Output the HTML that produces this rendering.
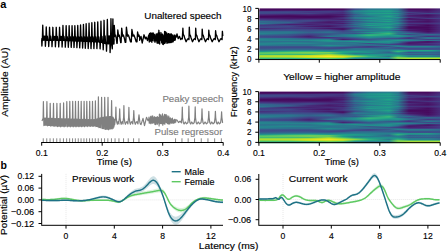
<!DOCTYPE html>
<html><head><meta charset="utf-8"><style>
html,body{margin:0;padding:0;background:#fff;width:448px;height:252px;overflow:hidden}
svg{display:block;font-family:"Liberation Sans",sans-serif}
</style></head><body>
<svg width="448" height="252" viewBox="0 0 448 252" font-family="Liberation Sans, sans-serif">
<text x="0.30" y="7.70" font-size="11.00" font-weight="bold" >a</text>
<text x="8.10" y="116.80" font-size="9.00" textLength="69.50" lengthAdjust="spacingAndGlyphs" transform="rotate(-90 8.10 116.80)" stroke="#000" stroke-width="0.15" >Amplitude (AU)</text>
<polyline points="42.00,38.00 41.70,40.70 41.90,46.04 42.40,38.11 42.75,25.20 43.15,36.51 43.40,40.20 43.80,36.13 44.30,40.11 44.80,36.15 45.20,40.72 45.40,46.26 45.90,38.15 46.25,26.98 46.65,36.57 46.90,40.22 47.30,36.19 47.80,40.13 48.50,40.74 48.70,46.47 49.20,38.18 49.55,27.30 49.95,36.62 50.20,40.24 50.60,36.24 51.10,40.15 51.80,40.76 52.00,46.61 52.50,38.22 52.85,27.30 53.25,36.68 53.50,40.26 53.90,36.30 54.40,40.17 54.90,36.31 55.20,40.78 55.40,46.74 55.90,38.26 56.25,27.30 56.65,36.74 56.90,40.28 57.30,36.35 57.80,40.19 58.50,40.80 58.70,46.87 59.20,38.29 59.55,27.30 59.95,36.79 60.20,40.30 60.60,36.41 61.10,40.25 61.60,36.44 61.90,40.93 62.10,47.00 62.60,38.40 62.95,25.52 63.35,36.87 63.60,40.43 64.00,36.50 64.50,40.40 65.10,41.07 65.30,47.12 65.80,38.51 66.15,25.59 66.55,36.95 66.80,40.57 67.20,36.58 67.70,40.54 68.10,41.20 68.30,47.23 68.80,38.61 69.15,25.65 69.55,37.03 69.80,40.70 70.20,36.66 70.70,40.67 71.00,41.33 71.20,47.35 71.70,38.71 72.05,25.71 72.45,37.10 72.70,40.83 73.10,36.73 73.80,41.45 74.00,47.45 74.50,38.81 74.85,25.77 75.25,37.17 75.50,40.95 75.90,36.80 76.40,40.92 76.70,41.57 76.90,47.63 77.40,38.89 77.75,25.46 78.15,37.20 78.40,41.07 78.80,36.80 79.30,41.04 79.50,41.69 79.70,47.85 80.20,38.94 80.55,24.90 80.95,37.20 81.20,41.19 81.60,36.80 82.10,41.15 82.40,41.81 82.60,48.08 83.10,39.00 83.45,24.32 83.85,37.20 84.10,41.31 84.50,36.80 85.10,41.92 85.30,48.29 85.80,39.06 86.15,23.78 86.55,37.20 86.80,41.42 87.20,36.80 87.70,41.39 88.00,42.04 88.20,48.52 88.70,39.12 89.05,23.20 89.45,37.20 89.70,41.54 90.10,36.80 90.80,42.16 91.00,48.60 91.50,39.18 91.85,22.73 92.25,37.20 92.50,41.66 92.90,36.80 93.40,41.62 93.70,42.28 93.90,48.60 94.40,39.24 94.75,22.30 95.15,37.20 95.40,41.78 95.80,36.80 96.30,41.75 96.70,42.40 96.90,48.60 97.40,39.30 97.75,21.85 98.15,37.20 98.40,41.90 98.80,36.80 99.30,41.87 99.90,42.82 100.10,48.85 100.60,39.44 100.95,21.23 101.35,37.06 101.60,42.32 102.00,36.48 102.50,42.80 103.00,43.94 103.20,49.72 103.70,39.75 104.05,20.30 104.45,36.56 104.70,43.44 105.10,36.00 105.60,43.70 106.30,44.30 106.50,51.15 107.00,39.85 107.35,19.40 107.75,36.40 108.00,43.80 108.40,36.00 108.90,43.70 109.40,36.00 109.90,44.30 110.10,52.50 110.60,39.85 110.95,18.70 111.35,36.40 111.60,43.80 112.30,48.80 112.90,19.00 113.18,36.20 113.39,35.00 113.67,38.00 113.95,43.91 114.13,39.50 113.70,43.96 114.30,25.50 115.00,36.20 115.52,35.00 116.22,38.00 116.92,43.31 117.38,39.50 117.20,43.26 117.80,30.00 118.58,36.20 119.16,35.00 119.94,38.00 120.72,42.65 121.23,39.50 121.10,42.59 121.70,28.20 122.64,36.20 123.34,35.00 124.29,38.00 125.23,42.28 125.84,39.50 125.80,42.24 126.40,27.20 127.50,36.20 128.33,35.00 129.43,38.00 130.53,41.90 131.24,39.50 131.30,41.85 131.90,29.50 133.04,36.20 133.90,35.00 135.03,38.00 136.18,41.74 136.92,39.50 137.00,41.83 137.60,32.00 138.38,36.20 138.97,35.00 139.75,38.00 139.60,40.30 141.00,36.40 142.20,43.00 144.00,34.80 145.30,38.80 146.20,37.20 147.50,40.50 148.50,36.00 149.00,34.69 149.26,42.02 149.52,33.48 149.78,41.24 150.04,35.03 150.30,40.27 150.56,32.97 150.82,41.03 151.08,35.36 151.34,40.78 151.60,33.29 151.86,42.28 152.12,35.79 152.38,40.53 152.64,33.18 152.90,38.11 153.16,32.95 153.42,38.09 153.68,33.61 153.94,40.93 154.20,36.15 154.46,39.95 154.72,34.73 154.98,42.32 155.24,35.83 155.50,39.20 155.76,37.77 156.02,40.84 156.28,33.83 156.54,40.49 156.80,34.68 157.06,43.01 157.32,33.93 157.58,37.61 157.84,33.70 158.10,43.20 158.36,32.56 158.62,43.00 158.88,30.30 159.14,42.85 159.40,32.78 159.66,44.02 159.92,34.97 160.18,40.70 160.44,34.67 160.70,39.50 160.96,32.55 161.22,39.11 161.48,37.67 161.74,42.85 162.00,34.23 162.26,41.88 162.52,34.18 162.78,44.24 163.04,35.04 163.30,44.51 163.56,36.01 163.82,43.28 164.08,35.87 164.34,43.28 164.60,31.39 164.86,43.46 165.12,34.07 165.38,42.25 165.64,31.80 165.90,41.29 166.16,33.00 166.42,41.67 166.68,33.00 166.94,43.24 167.20,34.29 167.46,40.33 167.72,37.57 167.98,42.72 168.24,33.76 168.50,42.55 168.76,33.69 169.02,42.73 169.28,35.45 169.54,42.56 169.80,34.10 170.06,41.52 170.32,36.09 170.58,42.48 170.84,33.98 171.10,42.46 171.36,33.97 171.62,40.00 171.88,35.32 172.14,42.05 172.40,34.98 172.66,40.97 172.92,36.33 173.18,41.72 173.44,37.51 173.70,39.21 173.96,35.29 174.22,40.37 174.48,35.15 174.74,39.88 175.00,35.24 175.26,39.99 175.52,35.82 176.20,37.20 177.00,33.90 178.20,38.60 179.50,36.40 180.70,39.60 181.80,38.20 182.30,39.00 182.90,28.20 183.30,34.50 183.90,35.30 184.70,38.00 186.10,41.70 187.38,39.20 188.34,38.60 188.98,39.60 189.30,27.20 189.70,34.50 190.30,35.30 191.10,38.00 192.50,41.70 193.78,39.20 194.74,38.60 195.38,39.60 195.70,28.20 196.10,34.50 196.70,35.30 197.50,38.00 198.95,41.70 200.25,39.20 201.22,38.60 201.88,39.60 202.20,29.10 202.60,34.50 203.20,35.30 204.00,38.00 205.50,41.70 206.82,39.20 207.81,38.60 208.47,39.60 208.80,30.10 209.20,34.50 209.80,35.30 210.60,38.00 212.20,41.70 213.56,39.20 214.58,38.60 215.26,39.60 215.60,30.70 216.00,34.50 216.60,35.30 217.40,38.00 219.00,41.70 220.36,39.20 221.38,38.60 222.06,39.60 222.40,31.30 222.80,36.00" fill="none" stroke="#000" stroke-width="1.35" stroke-linejoin="round"/>
<text x="144.30" y="19.00" font-size="9.50" textLength="77.20" lengthAdjust="spacingAndGlyphs" stroke="#000" stroke-width="0.15" >Unaltered speech</text>
<polyline points="42.00,121.00 43.10,118.15 43.40,101.50 43.70,118.15 43.90,125.60 44.20,118.17 44.50,125.08 44.80,118.19 45.10,125.12 45.40,118.21 45.70,125.17 46.00,118.23 46.30,125.21 46.60,118.26 46.90,101.50 47.20,118.26 47.40,125.85 47.70,118.28 48.00,125.33 48.30,118.30 48.60,125.38 48.90,118.32 49.20,125.42 49.50,118.34 49.80,125.46 49.90,118.37 50.20,103.30 50.50,118.37 50.70,126.09 51.00,118.39 51.30,125.57 51.60,118.41 51.90,125.62 52.20,118.43 52.50,125.66 52.80,118.45 53.10,125.70 53.20,118.47 53.50,103.30 53.80,118.47 54.00,126.33 54.30,118.50 54.60,125.81 54.90,118.52 55.20,125.85 55.50,118.54 55.80,125.90 56.10,118.56 56.40,125.94 56.60,118.58 56.90,103.30 57.20,118.58 57.40,126.58 57.70,118.61 58.00,126.06 58.30,118.63 58.60,126.10 58.90,118.65 59.20,126.14 59.50,118.67 59.80,126.19 59.90,118.69 60.20,103.30 60.50,118.69 60.70,126.80 61.00,118.71 61.30,126.20 61.60,118.73 61.90,126.20 62.20,118.75 62.50,126.20 62.80,118.77 63.10,126.20 63.30,118.80 63.60,102.94 63.90,118.80 64.10,126.80 64.40,118.82 64.70,126.20 65.00,118.84 65.30,126.20 65.60,118.86 65.90,126.20 66.20,118.88 66.50,118.90 66.80,101.48 67.10,118.90 67.30,126.80 67.60,118.93 67.90,126.20 68.20,118.95 68.50,126.20 68.80,118.97 69.10,126.20 69.40,118.99 69.50,119.00 69.80,101.42 70.10,119.00 70.30,126.80 70.60,119.03 70.90,126.20 71.20,119.04 71.50,126.20 71.80,119.06 72.10,126.20 72.40,119.09 72.70,101.37 73.00,119.09 73.20,126.80 73.50,119.12 73.80,126.20 74.10,119.14 74.40,126.20 74.70,119.16 75.00,126.20 75.20,119.18 75.50,101.31 75.80,119.18 76.00,126.80 76.30,119.21 76.60,126.19 76.90,119.22 77.20,126.17 77.50,119.24 77.80,126.16 78.10,119.26 78.40,101.30 78.70,119.26 78.90,126.75 79.20,119.28 79.50,126.13 79.80,119.30 80.10,126.11 80.40,119.32 80.70,126.10 80.90,119.34 81.20,101.30 81.50,119.34 81.70,126.69 82.00,119.36 82.30,126.07 82.60,119.37 82.90,126.05 83.20,119.39 83.50,126.04 83.80,119.41 84.10,101.30 84.40,119.41 84.60,126.63 84.90,119.43 85.20,126.01 85.50,119.45 85.80,125.99 86.10,119.47 86.40,125.98 86.50,119.48 86.80,101.30 87.10,119.48 87.30,126.57 87.60,119.51 87.90,125.95 88.20,119.52 88.50,125.94 88.80,119.54 89.10,125.92 89.40,119.56 89.70,101.30 90.00,119.56 90.20,126.51 90.50,119.58 90.80,125.89 91.10,119.60 91.40,125.88 91.70,119.61 92.00,125.86 92.20,119.63 92.50,101.30 92.80,119.63 93.00,126.45 93.30,119.66 93.60,125.83 93.90,119.67 94.20,125.82 94.50,119.69 94.80,125.80 95.10,119.56 95.40,100.96 95.70,119.56 95.90,126.54 96.20,119.29 96.50,126.31 96.80,119.09 97.10,126.51 97.40,118.88 97.70,126.72 98.00,118.68 98.10,118.54 98.40,96.80 98.70,118.54 98.90,127.56 99.20,118.27 99.50,127.33 99.80,118.07 100.10,127.53 100.40,117.92 100.70,127.71 101.00,117.80 101.30,117.68 101.60,97.30 101.90,117.68 102.10,128.58 102.40,117.52 102.70,128.31 103.00,117.40 103.30,128.49 103.60,117.28 103.90,128.67 104.20,117.16 104.40,117.06 104.70,97.30 105.00,117.06 105.20,129.51 105.50,116.96 105.80,129.24 106.10,116.92 106.40,129.27 106.70,116.88 107.00,129.23 107.30,116.84 107.60,129.18 107.70,116.79 108.00,97.30 108.30,116.79 108.50,129.75 108.80,116.73 109.10,129.07 109.40,116.69 109.70,129.02 110.00,116.64 110.30,128.88 110.60,116.60 110.90,128.64 111.20,116.56 111.30,116.53 111.60,100.62 111.90,116.53 112.10,128.96 112.90,117.20 113.20,128.20 113.60,118.00 113.90,127.00 114.30,119.50 114.60,125.00 115.00,122.20 115.60,117.50 115.90,107.10 116.20,117.50 116.80,122.40 117.40,124.30 117.61,122.30 118.18,121.60 118.94,124.00 118.80,122.20 119.40,117.50 119.70,108.90 120.00,117.50 120.60,122.40 121.20,124.30 121.59,122.30 122.22,121.60 123.06,124.00 123.00,122.20 123.60,117.50 123.90,105.70 124.20,117.50 124.80,122.40 125.40,124.30 126.15,122.30 126.90,121.60 127.90,124.00 128.00,122.20 128.60,117.50 128.90,107.40 129.20,117.50 129.80,122.40 130.40,124.30 131.11,122.30 131.84,121.60 132.82,124.00 132.90,122.20 133.50,117.50 133.80,110.50 134.10,117.50 134.70,122.40 135.30,124.30 136.14,122.30 136.92,121.60 137.96,124.00 138.10,122.20 138.70,117.50 139.00,114.90 139.30,117.50 139.90,122.40 140.50,124.30 141.00,124.60 143.00,118.40 144.50,125.70 146.50,117.30 148.00,120.70 148.80,119.00 149.00,117.00 149.26,123.19 149.52,118.48 149.78,122.79 150.04,118.97 150.30,121.93 150.56,116.62 150.82,123.73 151.08,116.14 151.34,122.05 151.60,116.82 151.86,122.89 152.12,117.77 152.38,123.13 152.64,115.88 152.90,122.84 153.16,116.93 153.42,122.81 153.68,117.55 153.94,122.12 154.20,117.50 154.46,122.93 154.72,116.68 154.98,124.51 155.24,118.04 155.50,124.54 155.76,117.68 156.02,123.11 156.28,117.29 156.54,121.33 156.80,117.32 157.06,124.39 157.32,116.62 157.58,123.68 157.84,117.34 158.10,122.59 158.36,118.19 158.62,120.37 158.88,117.08 159.14,125.89 159.40,114.17 159.66,120.22 159.92,114.82 160.18,123.56 160.44,114.89 160.70,123.47 160.96,116.33 161.22,122.13 161.48,116.51 161.74,123.65 162.00,114.90 162.26,121.32 162.52,113.92 162.78,125.13 163.04,118.81 163.30,122.19 163.56,116.52 163.82,123.64 164.08,115.50 164.34,121.42 164.60,114.41 164.86,124.20 165.12,117.99 165.38,121.61 165.64,114.89 165.90,122.04 166.16,114.67 166.42,122.76 166.68,117.79 166.94,121.89 167.20,115.78 167.46,123.58 167.72,117.88 167.98,123.71 168.24,117.65 168.50,122.91 168.76,116.10 169.02,124.27 169.28,118.09 169.54,122.02 169.80,118.14 170.06,123.77 170.32,117.95 170.58,122.47 170.84,118.84 171.10,122.43 171.36,118.94 171.62,123.25 171.88,119.30 172.14,122.71 172.40,118.22 172.66,121.71 172.92,119.75 173.18,123.44 173.44,120.18 173.70,122.23 173.96,120.12 174.22,122.38 174.48,119.36 174.74,122.85 175.00,119.39 175.26,122.02 175.52,119.78 175.78,122.20 176.04,119.87 177.00,120.00 178.50,122.50 180.00,121.20 181.50,122.80 181.30,122.60 182.00,117.50 182.30,107.10 182.60,117.50 183.30,122.60 184.10,124.00 185.27,122.00 186.59,123.80 187.71,122.80 187.90,122.60 188.60,117.50 188.90,106.20 189.20,117.50 189.90,122.60 190.70,124.00 191.73,122.00 193.00,123.80 194.07,122.80 194.20,122.60 194.90,117.50 195.20,106.90 195.50,117.50 196.20,122.60 197.00,124.00 198.26,122.00 199.62,123.80 200.78,122.80 201.00,122.60 201.70,117.50 202.00,108.90 202.30,117.50 203.00,122.60 203.80,124.00 205.06,122.00 206.42,123.80 207.58,122.80 207.80,122.60 208.50,117.50 208.80,111.30 209.10,117.50 209.80,122.60 210.60,124.00 211.77,122.00 213.09,123.80 214.21,122.80 214.40,122.60 215.10,117.50 215.40,111.30 215.70,117.50 216.40,122.60 217.20,124.00 218.19,122.00 219.43,123.80 220.48,122.80 220.60,122.60 221.30,117.50 221.60,111.90 221.90,117.50 222.60,122.60 222.80,122.80" fill="none" stroke="#808080" stroke-width="1.2" stroke-linejoin="round"/>
<text x="162.40" y="101.80" font-size="9.50" textLength="60.90" lengthAdjust="spacingAndGlyphs" fill="#808080" stroke="#808080" stroke-width="0.15" >Peaky speech</text>
<text x="154.50" y="134.50" font-size="9.50" textLength="67.90" lengthAdjust="spacingAndGlyphs" fill="#808080" stroke="#808080" stroke-width="0.15" >Pulse regressor</text>
<g stroke="#7a7a7a" stroke-width="0.9"><line x1="43.25" y1="138.3" x2="43.25" y2="142.2"/><line x1="46.75" y1="138.3" x2="46.75" y2="142.2"/><line x1="50.05" y1="138.3" x2="50.05" y2="142.2"/><line x1="53.35" y1="138.3" x2="53.35" y2="142.2"/><line x1="56.75" y1="138.3" x2="56.75" y2="142.2"/><line x1="60.05" y1="138.3" x2="60.05" y2="142.2"/><line x1="63.45" y1="138.3" x2="63.45" y2="142.2"/><line x1="66.65" y1="138.3" x2="66.65" y2="142.2"/><line x1="69.65" y1="138.3" x2="69.65" y2="142.2"/><line x1="72.55" y1="138.3" x2="72.55" y2="142.2"/><line x1="75.35" y1="138.3" x2="75.35" y2="142.2"/><line x1="78.25" y1="138.3" x2="78.25" y2="142.2"/><line x1="81.05" y1="138.3" x2="81.05" y2="142.2"/><line x1="83.95" y1="138.3" x2="83.95" y2="142.2"/><line x1="86.65" y1="138.3" x2="86.65" y2="142.2"/><line x1="89.55" y1="138.3" x2="89.55" y2="142.2"/><line x1="92.35" y1="138.3" x2="92.35" y2="142.2"/><line x1="95.25" y1="138.3" x2="95.25" y2="142.2"/><line x1="98.25" y1="138.3" x2="98.25" y2="142.2"/><line x1="101.45" y1="138.3" x2="101.45" y2="142.2"/><line x1="104.55" y1="138.3" x2="104.55" y2="142.2"/><line x1="107.85" y1="138.3" x2="107.85" y2="142.2"/><line x1="111.45" y1="138.3" x2="111.45" y2="142.2"/><line x1="115.05" y1="138.3" x2="115.05" y2="142.2"/><line x1="118.95" y1="138.3" x2="118.95" y2="142.2"/><line x1="123.55" y1="138.3" x2="123.55" y2="142.2"/><line x1="128.25" y1="138.3" x2="128.25" y2="142.2"/><line x1="133.55" y1="138.3" x2="133.55" y2="142.2"/><line x1="138.95" y1="138.3" x2="138.95" y2="142.2"/><line x1="175.55" y1="138.3" x2="175.55" y2="142.2"/><line x1="181.95" y1="138.3" x2="181.95" y2="142.2"/><line x1="188.15" y1="138.3" x2="188.15" y2="142.2"/><line x1="194.55" y1="138.3" x2="194.55" y2="142.2"/><line x1="201.25" y1="138.3" x2="201.25" y2="142.2"/><line x1="207.95" y1="138.3" x2="207.95" y2="142.2"/><line x1="214.65" y1="138.3" x2="214.65" y2="142.2"/><line x1="221.35" y1="138.3" x2="221.35" y2="142.2"/></g>
<g stroke="#000" stroke-width="1.0" fill="none">
<line x1="41.2" y1="142.5" x2="223.3" y2="142.5"/>
<line x1="41.70" y1="142.5" x2="41.70" y2="145.7"/>
<line x1="102.20" y1="142.5" x2="102.20" y2="145.7"/>
<line x1="162.70" y1="142.5" x2="162.70" y2="145.7"/>
<line x1="223.20" y1="142.5" x2="223.20" y2="145.7"/>
</g>
<text x="41.70" y="155.80" font-size="9.20" textLength="12.00" lengthAdjust="spacingAndGlyphs" text-anchor="middle" stroke="#000" stroke-width="0.15" >0.1</text>
<text x="102.20" y="155.80" font-size="9.20" textLength="12.00" lengthAdjust="spacingAndGlyphs" text-anchor="middle" stroke="#000" stroke-width="0.15" >0.2</text>
<text x="162.70" y="155.80" font-size="9.20" textLength="12.00" lengthAdjust="spacingAndGlyphs" text-anchor="middle" stroke="#000" stroke-width="0.15" >0.3</text>
<text x="223.20" y="155.80" font-size="9.20" textLength="12.00" lengthAdjust="spacingAndGlyphs" text-anchor="middle" stroke="#000" stroke-width="0.15" >0.4</text>
<text x="96.70" y="164.60" font-size="9.00" textLength="35.20" lengthAdjust="spacingAndGlyphs" stroke="#000" stroke-width="0.15" >Time (s)</text>
<defs><linearGradient id="s1_0"><stop offset="0.0000" stop-color="#46085c"/><stop offset="0.0194" stop-color="#46085c"/><stop offset="0.1634" stop-color="#46085c"/><stop offset="0.2742" stop-color="#450559"/><stop offset="0.3850" stop-color="#440256"/><stop offset="0.4626" stop-color="#46085c"/><stop offset="0.5291" stop-color="#3e4a89"/><stop offset="0.6066" stop-color="#2a768e"/><stop offset="0.7175" stop-color="#26828e"/><stop offset="0.7673" stop-color="#2c728e"/><stop offset="0.8283" stop-color="#46085c"/><stop offset="0.9335" stop-color="#46085c"/><stop offset="0.9695" stop-color="#48186a"/><stop offset="1.0000" stop-color="#482878"/></linearGradient>
<linearGradient id="s1_1"><stop offset="0.0000" stop-color="#471365"/><stop offset="0.0194" stop-color="#471365"/><stop offset="0.1634" stop-color="#481c6e"/><stop offset="0.2742" stop-color="#481769"/><stop offset="0.3850" stop-color="#482475"/><stop offset="0.4626" stop-color="#482475"/><stop offset="0.5291" stop-color="#2c728e"/><stop offset="0.6066" stop-color="#21918c"/><stop offset="0.7175" stop-color="#1f9a8a"/><stop offset="0.7673" stop-color="#2a788e"/><stop offset="0.8283" stop-color="#481c6e"/><stop offset="0.9335" stop-color="#481467"/><stop offset="0.9695" stop-color="#482173"/><stop offset="1.0000" stop-color="#472e7c"/></linearGradient>
<linearGradient id="s1_2"><stop offset="0.0000" stop-color="#424186"/><stop offset="0.0194" stop-color="#424186"/><stop offset="0.1634" stop-color="#424186"/><stop offset="0.2742" stop-color="#424186"/><stop offset="0.3850" stop-color="#433e85"/><stop offset="0.4626" stop-color="#443983"/><stop offset="0.5291" stop-color="#26828e"/><stop offset="0.6066" stop-color="#1f968b"/><stop offset="0.7175" stop-color="#1fa088"/><stop offset="0.7673" stop-color="#25858e"/><stop offset="0.8283" stop-color="#482475"/><stop offset="0.9335" stop-color="#481c6e"/><stop offset="0.9695" stop-color="#482878"/><stop offset="1.0000" stop-color="#46337f"/></linearGradient>
<linearGradient id="s1_3"><stop offset="0.0000" stop-color="#3e4c8a"/><stop offset="0.0194" stop-color="#3e4c8a"/><stop offset="0.1634" stop-color="#3e4a89"/><stop offset="0.2742" stop-color="#443983"/><stop offset="0.3850" stop-color="#443983"/><stop offset="0.4626" stop-color="#472c7a"/><stop offset="0.5291" stop-color="#2c728e"/><stop offset="0.6066" stop-color="#23898e"/><stop offset="0.7175" stop-color="#21918c"/><stop offset="0.7673" stop-color="#2c728e"/><stop offset="0.8283" stop-color="#414487"/><stop offset="0.9335" stop-color="#482475"/><stop offset="0.9695" stop-color="#472d7b"/><stop offset="1.0000" stop-color="#453781"/></linearGradient>
<linearGradient id="s1_4"><stop offset="0.0000" stop-color="#3f4889"/><stop offset="0.0194" stop-color="#3f4889"/><stop offset="0.1634" stop-color="#433e85"/><stop offset="0.2742" stop-color="#414487"/><stop offset="0.3850" stop-color="#472c7a"/><stop offset="0.4626" stop-color="#46307e"/><stop offset="0.5291" stop-color="#2d708e"/><stop offset="0.6066" stop-color="#1f9a8a"/><stop offset="0.7175" stop-color="#20a386"/><stop offset="0.7673" stop-color="#21918c"/><stop offset="0.8283" stop-color="#472c7a"/><stop offset="0.9335" stop-color="#3f4889"/><stop offset="0.9695" stop-color="#3e4989"/><stop offset="1.0000" stop-color="#3e4c8a"/></linearGradient>
<linearGradient id="s1_5"><stop offset="0.0000" stop-color="#472e7c"/><stop offset="0.0194" stop-color="#472e7c"/><stop offset="0.1634" stop-color="#482475"/><stop offset="0.2742" stop-color="#482878"/><stop offset="0.3850" stop-color="#481c6e"/><stop offset="0.4626" stop-color="#481c6e"/><stop offset="0.5291" stop-color="#38598c"/><stop offset="0.6066" stop-color="#228c8d"/><stop offset="0.7175" stop-color="#228c8d"/><stop offset="0.7673" stop-color="#2a788e"/><stop offset="0.8283" stop-color="#443983"/><stop offset="0.9335" stop-color="#481c6e"/><stop offset="0.9695" stop-color="#482878"/><stop offset="1.0000" stop-color="#46337f"/></linearGradient>
<linearGradient id="s1_6"><stop offset="0.0000" stop-color="#481a6c"/><stop offset="0.0194" stop-color="#481a6c"/><stop offset="0.1634" stop-color="#470e61"/><stop offset="0.2742" stop-color="#48186a"/><stop offset="0.3850" stop-color="#471063"/><stop offset="0.4626" stop-color="#482475"/><stop offset="0.5291" stop-color="#31688e"/><stop offset="0.6066" stop-color="#26828e"/><stop offset="0.7175" stop-color="#1f9a8a"/><stop offset="0.7673" stop-color="#26828e"/><stop offset="0.8283" stop-color="#481f70"/><stop offset="0.9335" stop-color="#471063"/><stop offset="0.9695" stop-color="#481d6f"/><stop offset="1.0000" stop-color="#472c7a"/></linearGradient>
<linearGradient id="s1_7"><stop offset="0.0000" stop-color="#46085c"/><stop offset="0.0194" stop-color="#46085c"/><stop offset="0.1634" stop-color="#46085c"/><stop offset="0.2742" stop-color="#46085c"/><stop offset="0.3850" stop-color="#46085c"/><stop offset="0.4626" stop-color="#481769"/><stop offset="0.5291" stop-color="#355f8d"/><stop offset="0.6066" stop-color="#2c728e"/><stop offset="0.7175" stop-color="#22a785"/><stop offset="0.7673" stop-color="#2c728e"/><stop offset="0.8283" stop-color="#482576"/><stop offset="0.9335" stop-color="#481769"/><stop offset="0.9695" stop-color="#482374"/><stop offset="1.0000" stop-color="#472f7d"/></linearGradient>
<linearGradient id="s1_8"><stop offset="0.0000" stop-color="#470d60"/><stop offset="0.0194" stop-color="#470d60"/><stop offset="0.1634" stop-color="#471063"/><stop offset="0.2742" stop-color="#46085c"/><stop offset="0.3850" stop-color="#470e61"/><stop offset="0.4626" stop-color="#472c7a"/><stop offset="0.5291" stop-color="#2a788e"/><stop offset="0.6066" stop-color="#23898e"/><stop offset="0.7175" stop-color="#1f968b"/><stop offset="0.7673" stop-color="#21918c"/><stop offset="0.8283" stop-color="#433e85"/><stop offset="0.9335" stop-color="#482071"/><stop offset="0.9695" stop-color="#472a7a"/><stop offset="1.0000" stop-color="#463480"/></linearGradient>
<linearGradient id="s1_9"><stop offset="0.0000" stop-color="#482475"/><stop offset="0.0194" stop-color="#482475"/><stop offset="0.1634" stop-color="#48186a"/><stop offset="0.2742" stop-color="#481c6e"/><stop offset="0.3850" stop-color="#481a6c"/><stop offset="0.4626" stop-color="#46307e"/><stop offset="0.5291" stop-color="#2c728e"/><stop offset="0.6066" stop-color="#1f968b"/><stop offset="0.7175" stop-color="#23898e"/><stop offset="0.7673" stop-color="#2a788e"/><stop offset="0.8283" stop-color="#481467"/><stop offset="0.9335" stop-color="#443983"/><stop offset="0.9695" stop-color="#433e85"/><stop offset="1.0000" stop-color="#414287"/></linearGradient>
<linearGradient id="s1_10"><stop offset="0.0000" stop-color="#443983"/><stop offset="0.0194" stop-color="#443983"/><stop offset="0.1634" stop-color="#472c7a"/><stop offset="0.2742" stop-color="#46337f"/><stop offset="0.3850" stop-color="#472a7a"/><stop offset="0.4626" stop-color="#481f70"/><stop offset="0.5291" stop-color="#38598c"/><stop offset="0.6066" stop-color="#2a788e"/><stop offset="0.7175" stop-color="#1fa088"/><stop offset="0.7673" stop-color="#2c728e"/><stop offset="0.8283" stop-color="#48186a"/><stop offset="0.9335" stop-color="#481467"/><stop offset="0.9695" stop-color="#482173"/><stop offset="1.0000" stop-color="#472e7c"/></linearGradient>
<linearGradient id="s1_11"><stop offset="0.0000" stop-color="#3b528b"/><stop offset="0.0194" stop-color="#3b528b"/><stop offset="0.1634" stop-color="#414487"/><stop offset="0.2742" stop-color="#3e4a89"/><stop offset="0.3850" stop-color="#46337f"/><stop offset="0.4626" stop-color="#443983"/><stop offset="0.5291" stop-color="#2d708e"/><stop offset="0.6066" stop-color="#21918c"/><stop offset="0.7175" stop-color="#228c8d"/><stop offset="0.7673" stop-color="#26828e"/><stop offset="0.8283" stop-color="#46337f"/><stop offset="0.9335" stop-color="#481769"/><stop offset="0.9695" stop-color="#482374"/><stop offset="1.0000" stop-color="#472f7d"/></linearGradient>
<linearGradient id="s1_12"><stop offset="0.0000" stop-color="#2e6e8e"/><stop offset="0.0194" stop-color="#2e6e8e"/><stop offset="0.1634" stop-color="#3b528b"/><stop offset="0.2742" stop-color="#424186"/><stop offset="0.3850" stop-color="#481f70"/><stop offset="0.4626" stop-color="#482475"/><stop offset="0.5291" stop-color="#3b528b"/><stop offset="0.6066" stop-color="#26828e"/><stop offset="0.7175" stop-color="#20a386"/><stop offset="0.7673" stop-color="#2d708e"/><stop offset="0.8283" stop-color="#481c6e"/><stop offset="0.9335" stop-color="#471063"/><stop offset="0.9695" stop-color="#481d6f"/><stop offset="1.0000" stop-color="#472c7a"/></linearGradient>
<linearGradient id="s1_13"><stop offset="0.0000" stop-color="#31688e"/><stop offset="0.0194" stop-color="#31688e"/><stop offset="0.1634" stop-color="#33638d"/><stop offset="0.2742" stop-color="#482878"/><stop offset="0.3850" stop-color="#48186a"/><stop offset="0.4626" stop-color="#46307e"/><stop offset="0.5291" stop-color="#33638d"/><stop offset="0.6066" stop-color="#2c728e"/><stop offset="0.7175" stop-color="#25858e"/><stop offset="0.7673" stop-color="#2a788e"/><stop offset="0.8283" stop-color="#482475"/><stop offset="0.9335" stop-color="#481c6e"/><stop offset="0.9695" stop-color="#482878"/><stop offset="1.0000" stop-color="#46337f"/></linearGradient>
<linearGradient id="s1_14"><stop offset="0.0000" stop-color="#2a788e"/><stop offset="0.0194" stop-color="#2a788e"/><stop offset="0.1634" stop-color="#3e4a89"/><stop offset="0.2742" stop-color="#472c7a"/><stop offset="0.3850" stop-color="#482475"/><stop offset="0.4626" stop-color="#481c6e"/><stop offset="0.5291" stop-color="#355f8d"/><stop offset="0.6066" stop-color="#1f9a8a"/><stop offset="0.7175" stop-color="#1f968b"/><stop offset="0.7673" stop-color="#21918c"/><stop offset="0.8283" stop-color="#443983"/><stop offset="0.9335" stop-color="#46307e"/><stop offset="0.9695" stop-color="#453781"/><stop offset="1.0000" stop-color="#433e85"/></linearGradient>
<linearGradient id="s1_15"><stop offset="0.0000" stop-color="#3b528b"/><stop offset="0.0194" stop-color="#3b528b"/><stop offset="0.1634" stop-color="#481f70"/><stop offset="0.2742" stop-color="#482071"/><stop offset="0.3850" stop-color="#46307e"/><stop offset="0.4626" stop-color="#443983"/><stop offset="0.5291" stop-color="#2c728e"/><stop offset="0.6066" stop-color="#25858e"/><stop offset="0.7175" stop-color="#1fa088"/><stop offset="0.7673" stop-color="#2c728e"/><stop offset="0.8283" stop-color="#481f70"/><stop offset="0.9335" stop-color="#481769"/><stop offset="0.9695" stop-color="#482374"/><stop offset="1.0000" stop-color="#472f7d"/></linearGradient>
<linearGradient id="s1_16"><stop offset="0.0000" stop-color="#443983"/><stop offset="0.0194" stop-color="#443983"/><stop offset="0.1634" stop-color="#433e85"/><stop offset="0.2742" stop-color="#46307e"/><stop offset="0.3850" stop-color="#481c6e"/><stop offset="0.4626" stop-color="#46307e"/><stop offset="0.5291" stop-color="#38598c"/><stop offset="0.6066" stop-color="#1fa088"/><stop offset="0.7175" stop-color="#228c8d"/><stop offset="0.7673" stop-color="#2a788e"/><stop offset="0.8283" stop-color="#472c7a"/><stop offset="0.9335" stop-color="#46085c"/><stop offset="0.9695" stop-color="#48186a"/><stop offset="1.0000" stop-color="#482878"/></linearGradient>
<linearGradient id="s1_17"><stop offset="0.0000" stop-color="#414487"/><stop offset="0.0194" stop-color="#414487"/><stop offset="0.1634" stop-color="#3e4a89"/><stop offset="0.2742" stop-color="#481f70"/><stop offset="0.3850" stop-color="#471365"/><stop offset="0.4626" stop-color="#443983"/><stop offset="0.5291" stop-color="#2c718e"/><stop offset="0.6066" stop-color="#2a788e"/><stop offset="0.7175" stop-color="#1f968b"/><stop offset="0.7673" stop-color="#33638d"/><stop offset="0.8283" stop-color="#471063"/><stop offset="0.9335" stop-color="#471063"/><stop offset="0.9695" stop-color="#481d6f"/><stop offset="1.0000" stop-color="#472c7a"/></linearGradient>
<linearGradient id="s1_18"><stop offset="0.0000" stop-color="#3e4a89"/><stop offset="0.0194" stop-color="#3e4a89"/><stop offset="0.1634" stop-color="#424186"/><stop offset="0.2742" stop-color="#443983"/><stop offset="0.3850" stop-color="#472c7a"/><stop offset="0.4626" stop-color="#46307e"/><stop offset="0.5291" stop-color="#3b528b"/><stop offset="0.6066" stop-color="#23898e"/><stop offset="0.7175" stop-color="#22a884"/><stop offset="0.7673" stop-color="#2c728e"/><stop offset="0.8283" stop-color="#46085c"/><stop offset="0.9335" stop-color="#46085c"/><stop offset="0.9695" stop-color="#48186a"/><stop offset="1.0000" stop-color="#482878"/></linearGradient>
<linearGradient id="s1_19"><stop offset="0.0000" stop-color="#472c7a"/><stop offset="0.0194" stop-color="#472c7a"/><stop offset="0.1634" stop-color="#443983"/><stop offset="0.2742" stop-color="#46307e"/><stop offset="0.3850" stop-color="#481769"/><stop offset="0.4626" stop-color="#471063"/><stop offset="0.5291" stop-color="#3e4a89"/><stop offset="0.6066" stop-color="#2d708e"/><stop offset="0.7175" stop-color="#21918c"/><stop offset="0.7673" stop-color="#3b528b"/><stop offset="0.8283" stop-color="#470d60"/><stop offset="0.9335" stop-color="#470d60"/><stop offset="0.9695" stop-color="#481c6e"/><stop offset="1.0000" stop-color="#472a7a"/></linearGradient>
<linearGradient id="s1_20"><stop offset="0.0000" stop-color="#424186"/><stop offset="0.0194" stop-color="#424186"/><stop offset="0.1634" stop-color="#3e4c8a"/><stop offset="0.2742" stop-color="#414487"/><stop offset="0.3850" stop-color="#443983"/><stop offset="0.4626" stop-color="#471063"/><stop offset="0.5291" stop-color="#2c728e"/><stop offset="0.6066" stop-color="#2c728e"/><stop offset="0.7175" stop-color="#23898e"/><stop offset="0.7673" stop-color="#2d708e"/><stop offset="0.8283" stop-color="#482071"/><stop offset="0.9335" stop-color="#46085c"/><stop offset="0.9695" stop-color="#48186a"/><stop offset="1.0000" stop-color="#482878"/></linearGradient>
<linearGradient id="s1_21"><stop offset="0.0000" stop-color="#3b528b"/><stop offset="0.0194" stop-color="#3b528b"/><stop offset="0.1634" stop-color="#3b528b"/><stop offset="0.2742" stop-color="#3b528b"/><stop offset="0.3850" stop-color="#3b528b"/><stop offset="0.4626" stop-color="#443983"/><stop offset="0.5291" stop-color="#2a788e"/><stop offset="0.6066" stop-color="#26828e"/><stop offset="0.7175" stop-color="#2a788e"/><stop offset="0.7673" stop-color="#3e4a89"/><stop offset="0.8283" stop-color="#481769"/><stop offset="0.9335" stop-color="#471063"/><stop offset="0.9695" stop-color="#481d6f"/><stop offset="1.0000" stop-color="#472c7a"/></linearGradient>
<linearGradient id="s1_22"><stop offset="0.0000" stop-color="#2d708e"/><stop offset="0.0194" stop-color="#2d708e"/><stop offset="0.1634" stop-color="#2d708e"/><stop offset="0.2742" stop-color="#38598c"/><stop offset="0.3850" stop-color="#31688e"/><stop offset="0.4626" stop-color="#3e4a89"/><stop offset="0.5291" stop-color="#38598c"/><stop offset="0.6066" stop-color="#2d708e"/><stop offset="0.7175" stop-color="#1f968b"/><stop offset="0.7673" stop-color="#2a788e"/><stop offset="0.8283" stop-color="#443983"/><stop offset="0.9335" stop-color="#470d60"/><stop offset="0.9695" stop-color="#481c6e"/><stop offset="1.0000" stop-color="#472a7a"/></linearGradient>
<linearGradient id="s1_23"><stop offset="0.0000" stop-color="#2a788e"/><stop offset="0.0194" stop-color="#2a788e"/><stop offset="0.1634" stop-color="#2a788e"/><stop offset="0.2742" stop-color="#33638d"/><stop offset="0.3850" stop-color="#2c728e"/><stop offset="0.4626" stop-color="#3b528b"/><stop offset="0.5291" stop-color="#33638d"/><stop offset="0.6066" stop-color="#21918c"/><stop offset="0.7175" stop-color="#22a785"/><stop offset="0.7673" stop-color="#2c728e"/><stop offset="0.8283" stop-color="#3b528b"/><stop offset="0.9335" stop-color="#481c6e"/><stop offset="0.9695" stop-color="#482878"/><stop offset="1.0000" stop-color="#46337f"/></linearGradient>
<linearGradient id="s1_24"><stop offset="0.0000" stop-color="#26828e"/><stop offset="0.0194" stop-color="#26828e"/><stop offset="0.1634" stop-color="#2c728e"/><stop offset="0.2742" stop-color="#3b528b"/><stop offset="0.3850" stop-color="#38598c"/><stop offset="0.4626" stop-color="#38598c"/><stop offset="0.5291" stop-color="#3b528b"/><stop offset="0.6066" stop-color="#2a788e"/><stop offset="0.7175" stop-color="#3bbb75"/><stop offset="0.7673" stop-color="#2a788e"/><stop offset="0.8283" stop-color="#2c728e"/><stop offset="0.9335" stop-color="#443983"/><stop offset="0.9695" stop-color="#433e85"/><stop offset="1.0000" stop-color="#414287"/></linearGradient>
<linearGradient id="s1_25"><stop offset="0.0000" stop-color="#2c728e"/><stop offset="0.0194" stop-color="#2c728e"/><stop offset="0.1634" stop-color="#38598c"/><stop offset="0.2742" stop-color="#424186"/><stop offset="0.3850" stop-color="#3b528b"/><stop offset="0.4626" stop-color="#2c728e"/><stop offset="0.5291" stop-color="#25858e"/><stop offset="0.6066" stop-color="#2ab07f"/><stop offset="0.7175" stop-color="#2ab07f"/><stop offset="0.7673" stop-color="#2d708e"/><stop offset="0.8283" stop-color="#414487"/><stop offset="0.9335" stop-color="#2d708e"/><stop offset="0.9695" stop-color="#306a8e"/><stop offset="1.0000" stop-color="#32648e"/></linearGradient>
<linearGradient id="s1_26"><stop offset="0.0000" stop-color="#38598c"/><stop offset="0.0194" stop-color="#38598c"/><stop offset="0.1634" stop-color="#3b528b"/><stop offset="0.2742" stop-color="#46307e"/><stop offset="0.3850" stop-color="#33638d"/><stop offset="0.4626" stop-color="#2a788e"/><stop offset="0.5291" stop-color="#21918c"/><stop offset="0.6066" stop-color="#35b779"/><stop offset="0.7175" stop-color="#1f9e89"/><stop offset="0.7673" stop-color="#1f9e89"/><stop offset="0.8283" stop-color="#2d708e"/><stop offset="0.9335" stop-color="#3b528b"/><stop offset="0.9695" stop-color="#3b528b"/><stop offset="1.0000" stop-color="#3b528b"/></linearGradient>
<linearGradient id="s1_27"><stop offset="0.0000" stop-color="#3e4a89"/><stop offset="0.0194" stop-color="#3e4a89"/><stop offset="0.1634" stop-color="#424186"/><stop offset="0.2742" stop-color="#481f70"/><stop offset="0.3850" stop-color="#2a788e"/><stop offset="0.4626" stop-color="#2c728e"/><stop offset="0.5291" stop-color="#23898e"/><stop offset="0.6066" stop-color="#1f9e89"/><stop offset="0.7175" stop-color="#23898e"/><stop offset="0.7673" stop-color="#21918c"/><stop offset="0.8283" stop-color="#2a788e"/><stop offset="0.9335" stop-color="#46307e"/><stop offset="0.9695" stop-color="#453781"/><stop offset="1.0000" stop-color="#433e85"/></linearGradient>
<linearGradient id="s1_28"><stop offset="0.0000" stop-color="#3b528b"/><stop offset="0.0194" stop-color="#3b528b"/><stop offset="0.1634" stop-color="#404588"/><stop offset="0.2742" stop-color="#472c7a"/><stop offset="0.3850" stop-color="#46307e"/><stop offset="0.4626" stop-color="#3e4a89"/><stop offset="0.5291" stop-color="#31688e"/><stop offset="0.6066" stop-color="#228c8d"/><stop offset="0.7175" stop-color="#2a788e"/><stop offset="0.7673" stop-color="#2c728e"/><stop offset="0.8283" stop-color="#443983"/><stop offset="0.9335" stop-color="#2c728e"/><stop offset="0.9695" stop-color="#2f6c8e"/><stop offset="1.0000" stop-color="#31668e"/></linearGradient>
<linearGradient id="s1_29"><stop offset="0.0000" stop-color="#2a788e"/><stop offset="0.0194" stop-color="#2a788e"/><stop offset="0.1634" stop-color="#2c728e"/><stop offset="0.2742" stop-color="#3b528b"/><stop offset="0.3850" stop-color="#3b528b"/><stop offset="0.4626" stop-color="#443983"/><stop offset="0.5291" stop-color="#3e4a89"/><stop offset="0.6066" stop-color="#2c728e"/><stop offset="0.7175" stop-color="#3b528b"/><stop offset="0.7673" stop-color="#3e4a89"/><stop offset="0.8283" stop-color="#46307e"/><stop offset="0.9335" stop-color="#2a788e"/><stop offset="0.9695" stop-color="#2d718e"/><stop offset="1.0000" stop-color="#306a8e"/></linearGradient>
<linearGradient id="s1_30"><stop offset="0.0000" stop-color="#25858e"/><stop offset="0.0194" stop-color="#25858e"/><stop offset="0.1634" stop-color="#2a788e"/><stop offset="0.2742" stop-color="#2c728e"/><stop offset="0.3850" stop-color="#25858e"/><stop offset="0.4626" stop-color="#481c6e"/><stop offset="0.5291" stop-color="#443983"/><stop offset="0.6066" stop-color="#3b528b"/><stop offset="0.7175" stop-color="#2c728e"/><stop offset="0.7673" stop-color="#2a788e"/><stop offset="0.8283" stop-color="#2c728e"/><stop offset="0.9335" stop-color="#433e85"/><stop offset="0.9695" stop-color="#424186"/><stop offset="1.0000" stop-color="#404688"/></linearGradient>
<linearGradient id="s1_31"><stop offset="0.0000" stop-color="#26828e"/><stop offset="0.0194" stop-color="#26828e"/><stop offset="0.1634" stop-color="#25858e"/><stop offset="0.2742" stop-color="#23898e"/><stop offset="0.3850" stop-color="#1f9a8a"/><stop offset="0.4626" stop-color="#2d708e"/><stop offset="0.5291" stop-color="#2a788e"/><stop offset="0.6066" stop-color="#31688e"/><stop offset="0.7175" stop-color="#25858e"/><stop offset="0.7673" stop-color="#1f9a8a"/><stop offset="0.8283" stop-color="#26828e"/><stop offset="0.9335" stop-color="#2c718e"/><stop offset="0.9695" stop-color="#2f6c8e"/><stop offset="1.0000" stop-color="#32658e"/></linearGradient>
<linearGradient id="s1_32"><stop offset="0.0000" stop-color="#2c728e"/><stop offset="0.0194" stop-color="#2c728e"/><stop offset="0.1634" stop-color="#2d708e"/><stop offset="0.2742" stop-color="#2d708e"/><stop offset="0.3850" stop-color="#21918c"/><stop offset="0.4626" stop-color="#23898e"/><stop offset="0.5291" stop-color="#1f9a8a"/><stop offset="0.6066" stop-color="#25858e"/><stop offset="0.7175" stop-color="#1f968b"/><stop offset="0.7673" stop-color="#2a788e"/><stop offset="0.8283" stop-color="#3e4a89"/><stop offset="0.9335" stop-color="#481467"/><stop offset="0.9695" stop-color="#482173"/><stop offset="1.0000" stop-color="#472e7c"/></linearGradient>
<linearGradient id="s1_33"><stop offset="0.0000" stop-color="#2a788e"/><stop offset="0.0194" stop-color="#2a788e"/><stop offset="0.1634" stop-color="#26828e"/><stop offset="0.2742" stop-color="#2a788e"/><stop offset="0.3850" stop-color="#2a788e"/><stop offset="0.4626" stop-color="#2c728e"/><stop offset="0.5291" stop-color="#2c728e"/><stop offset="0.6066" stop-color="#21918c"/><stop offset="0.7175" stop-color="#228c8d"/><stop offset="0.7673" stop-color="#2c728e"/><stop offset="0.8283" stop-color="#481c6e"/><stop offset="0.9335" stop-color="#481769"/><stop offset="0.9695" stop-color="#482374"/><stop offset="1.0000" stop-color="#472f7d"/></linearGradient>
<linearGradient id="s1_34"><stop offset="0.0000" stop-color="#25858e"/><stop offset="0.0194" stop-color="#25858e"/><stop offset="0.1634" stop-color="#23898e"/><stop offset="0.2742" stop-color="#25858e"/><stop offset="0.3850" stop-color="#2c728e"/><stop offset="0.4626" stop-color="#2a788e"/><stop offset="0.5291" stop-color="#2a788e"/><stop offset="0.6066" stop-color="#3e4a89"/><stop offset="0.7175" stop-color="#2a788e"/><stop offset="0.7673" stop-color="#3e4a89"/><stop offset="0.8283" stop-color="#481769"/><stop offset="0.9335" stop-color="#46307e"/><stop offset="0.9695" stop-color="#453781"/><stop offset="1.0000" stop-color="#433e85"/></linearGradient>
<linearGradient id="s1_35"><stop offset="0.0000" stop-color="#25848e"/><stop offset="0.0194" stop-color="#25848e"/><stop offset="0.1634" stop-color="#2c728e"/><stop offset="0.2742" stop-color="#2c728e"/><stop offset="0.3850" stop-color="#2a788e"/><stop offset="0.4626" stop-color="#2c728e"/><stop offset="0.5291" stop-color="#2c728e"/><stop offset="0.6066" stop-color="#2c728e"/><stop offset="0.7175" stop-color="#414487"/><stop offset="0.7673" stop-color="#443983"/><stop offset="0.8283" stop-color="#482475"/><stop offset="0.9335" stop-color="#482475"/><stop offset="0.9695" stop-color="#472d7b"/><stop offset="1.0000" stop-color="#453781"/></linearGradient>
<linearGradient id="s1_36"><stop offset="0.0000" stop-color="#2c728e"/><stop offset="0.0194" stop-color="#2c728e"/><stop offset="0.1634" stop-color="#2d708e"/><stop offset="0.2742" stop-color="#2d708e"/><stop offset="0.3850" stop-color="#21918c"/><stop offset="0.4626" stop-color="#26828e"/><stop offset="0.5291" stop-color="#31688e"/><stop offset="0.6066" stop-color="#31688e"/><stop offset="0.7175" stop-color="#2d708e"/><stop offset="0.7673" stop-color="#2c728e"/><stop offset="0.8283" stop-color="#414487"/><stop offset="0.9335" stop-color="#414487"/><stop offset="0.9695" stop-color="#404688"/><stop offset="1.0000" stop-color="#3e4989"/></linearGradient>
<linearGradient id="s1_37"><stop offset="0.0000" stop-color="#3a548c"/><stop offset="0.0194" stop-color="#3a548c"/><stop offset="0.1634" stop-color="#3b528b"/><stop offset="0.2742" stop-color="#3b528b"/><stop offset="0.3850" stop-color="#2c728e"/><stop offset="0.4626" stop-color="#31688e"/><stop offset="0.5291" stop-color="#3b528b"/><stop offset="0.6066" stop-color="#443983"/><stop offset="0.7175" stop-color="#3b528b"/><stop offset="0.7673" stop-color="#26828e"/><stop offset="0.8283" stop-color="#26828e"/><stop offset="0.9335" stop-color="#26828e"/><stop offset="0.9695" stop-color="#2a788e"/><stop offset="1.0000" stop-color="#2d708e"/></linearGradient>
<linearGradient id="s1_38"><stop offset="0.0000" stop-color="#3e4c8a"/><stop offset="0.0194" stop-color="#3e4c8a"/><stop offset="0.1634" stop-color="#3e4a89"/><stop offset="0.2742" stop-color="#3e4a89"/><stop offset="0.3850" stop-color="#3b528b"/><stop offset="0.4626" stop-color="#414487"/><stop offset="0.5291" stop-color="#414487"/><stop offset="0.6066" stop-color="#414487"/><stop offset="0.7175" stop-color="#31688e"/><stop offset="0.7673" stop-color="#3e4a89"/><stop offset="0.8283" stop-color="#31688e"/><stop offset="0.9335" stop-color="#31688e"/><stop offset="0.9695" stop-color="#32648e"/><stop offset="1.0000" stop-color="#355f8d"/></linearGradient>
<linearGradient id="s1_39"><stop offset="0.0000" stop-color="#3b528b"/><stop offset="0.0194" stop-color="#3b528b"/><stop offset="0.1634" stop-color="#38598c"/><stop offset="0.2742" stop-color="#38598c"/><stop offset="0.3850" stop-color="#3e4a89"/><stop offset="0.4626" stop-color="#3e4a89"/><stop offset="0.5291" stop-color="#2d708e"/><stop offset="0.6066" stop-color="#2d708e"/><stop offset="0.7175" stop-color="#38598c"/><stop offset="0.7673" stop-color="#3b528b"/><stop offset="0.8283" stop-color="#3e4a89"/><stop offset="0.9335" stop-color="#3e4a89"/><stop offset="0.9695" stop-color="#3e4c8a"/><stop offset="1.0000" stop-color="#3d4d8a"/></linearGradient>
<linearGradient id="s1_40"><stop offset="0.0000" stop-color="#33638d"/><stop offset="0.0194" stop-color="#33638d"/><stop offset="0.1634" stop-color="#31688e"/><stop offset="0.2742" stop-color="#31688e"/><stop offset="0.3850" stop-color="#33638d"/><stop offset="0.4626" stop-color="#2c718e"/><stop offset="0.5291" stop-color="#2a768e"/><stop offset="0.6066" stop-color="#2a768e"/><stop offset="0.7175" stop-color="#2c728e"/><stop offset="0.7673" stop-color="#2a788e"/><stop offset="0.8283" stop-color="#3b528b"/><stop offset="0.9335" stop-color="#3b528b"/><stop offset="0.9695" stop-color="#3b528b"/><stop offset="1.0000" stop-color="#3b528b"/></linearGradient>
<linearGradient id="s1_41"><stop offset="0.0000" stop-color="#2a778e"/><stop offset="0.0194" stop-color="#2a778e"/><stop offset="0.1634" stop-color="#26828e"/><stop offset="0.2742" stop-color="#23898e"/><stop offset="0.3850" stop-color="#26828e"/><stop offset="0.4626" stop-color="#25858e"/><stop offset="0.5291" stop-color="#25848e"/><stop offset="0.6066" stop-color="#25848e"/><stop offset="0.7175" stop-color="#26828e"/><stop offset="0.7673" stop-color="#1fa088"/><stop offset="0.8283" stop-color="#1fa088"/><stop offset="0.9335" stop-color="#22a884"/><stop offset="0.9695" stop-color="#1f978b"/><stop offset="1.0000" stop-color="#24868e"/></linearGradient>
<linearGradient id="s1_42"><stop offset="0.0000" stop-color="#1f968b"/><stop offset="0.0194" stop-color="#1f968b"/><stop offset="0.1634" stop-color="#2ab07f"/><stop offset="0.2742" stop-color="#35b779"/><stop offset="0.3850" stop-color="#1fa088"/><stop offset="0.4626" stop-color="#1fa088"/><stop offset="0.5291" stop-color="#1fa088"/><stop offset="0.6066" stop-color="#23898e"/><stop offset="0.7175" stop-color="#2c718e"/><stop offset="0.7673" stop-color="#35b779"/><stop offset="0.8283" stop-color="#25858e"/><stop offset="0.9335" stop-color="#25858e"/><stop offset="0.9695" stop-color="#297b8e"/><stop offset="1.0000" stop-color="#2c718e"/></linearGradient>
<linearGradient id="s1_43"><stop offset="0.0000" stop-color="#4ac16d"/><stop offset="0.0194" stop-color="#4ac16d"/><stop offset="0.1634" stop-color="#6ccd5a"/><stop offset="0.2742" stop-color="#7ad151"/><stop offset="0.3850" stop-color="#7ad151"/><stop offset="0.4626" stop-color="#22a884"/><stop offset="0.5291" stop-color="#21918c"/><stop offset="0.6066" stop-color="#21918c"/><stop offset="0.7175" stop-color="#355f8d"/><stop offset="0.7673" stop-color="#21918c"/><stop offset="0.8283" stop-color="#3b528b"/><stop offset="0.9335" stop-color="#33638d"/><stop offset="0.9695" stop-color="#34608d"/><stop offset="1.0000" stop-color="#365c8d"/></linearGradient>
<linearGradient id="s1_44"><stop offset="0.0000" stop-color="#5ec962"/><stop offset="0.0194" stop-color="#5ec962"/><stop offset="0.1634" stop-color="#5ec962"/><stop offset="0.2742" stop-color="#6ccd5a"/><stop offset="0.3850" stop-color="#5ec962"/><stop offset="0.4626" stop-color="#1f9e89"/><stop offset="0.5291" stop-color="#2a788e"/><stop offset="0.6066" stop-color="#2a788e"/><stop offset="0.7175" stop-color="#2a788e"/><stop offset="0.7673" stop-color="#2a788e"/><stop offset="0.8283" stop-color="#2d708e"/><stop offset="0.9335" stop-color="#2d708e"/><stop offset="0.9695" stop-color="#306a8e"/><stop offset="1.0000" stop-color="#32648e"/></linearGradient>
<linearGradient id="s1_45"><stop offset="0.0000" stop-color="#3bbb75"/><stop offset="0.0194" stop-color="#3bbb75"/><stop offset="0.1634" stop-color="#3bbb75"/><stop offset="0.2742" stop-color="#3bbb75"/><stop offset="0.3850" stop-color="#a0da39"/><stop offset="0.4626" stop-color="#4ac16d"/><stop offset="0.5291" stop-color="#1f968b"/><stop offset="0.6066" stop-color="#1f968b"/><stop offset="0.7175" stop-color="#21918c"/><stop offset="0.7673" stop-color="#23898e"/><stop offset="0.8283" stop-color="#38598c"/><stop offset="0.9335" stop-color="#38598c"/><stop offset="0.9695" stop-color="#38588c"/><stop offset="1.0000" stop-color="#39558c"/></linearGradient>
<linearGradient id="s1_46"><stop offset="0.0000" stop-color="#a0da39"/><stop offset="0.0194" stop-color="#a0da39"/><stop offset="0.1634" stop-color="#a8db34"/><stop offset="0.2742" stop-color="#c2df23"/><stop offset="0.3850" stop-color="#dde318"/><stop offset="0.4626" stop-color="#a0da39"/><stop offset="0.5291" stop-color="#5ec962"/><stop offset="0.6066" stop-color="#22a884"/><stop offset="0.7175" stop-color="#23898e"/><stop offset="0.7673" stop-color="#22a884"/><stop offset="0.8283" stop-color="#25848e"/><stop offset="0.9335" stop-color="#25848e"/><stop offset="0.9695" stop-color="#297b8e"/><stop offset="1.0000" stop-color="#2d718e"/></linearGradient>
<linearGradient id="s1_47"><stop offset="0.0000" stop-color="#b5de2b"/><stop offset="0.0194" stop-color="#b5de2b"/><stop offset="0.1634" stop-color="#bddf26"/><stop offset="0.2742" stop-color="#dde318"/><stop offset="0.3850" stop-color="#fde725"/><stop offset="0.4626" stop-color="#dde318"/><stop offset="0.5291" stop-color="#a0da39"/><stop offset="0.6066" stop-color="#35b779"/><stop offset="0.7175" stop-color="#2c728e"/><stop offset="0.7673" stop-color="#3bbb75"/><stop offset="0.8283" stop-color="#26828e"/><stop offset="0.9335" stop-color="#26828e"/><stop offset="0.9695" stop-color="#2a788e"/><stop offset="1.0000" stop-color="#2d708e"/></linearGradient>
<linearGradient id="s1_48"><stop offset="0.0000" stop-color="#7ad151"/><stop offset="0.0194" stop-color="#7ad151"/><stop offset="0.1634" stop-color="#86d549"/><stop offset="0.2742" stop-color="#bddf26"/><stop offset="0.3850" stop-color="#bddf26"/><stop offset="0.4626" stop-color="#b5de2b"/><stop offset="0.5291" stop-color="#35b779"/><stop offset="0.6066" stop-color="#1fa088"/><stop offset="0.7175" stop-color="#1fa088"/><stop offset="0.7673" stop-color="#86d549"/><stop offset="0.8283" stop-color="#5ec962"/><stop offset="0.9335" stop-color="#5ec962"/><stop offset="0.9695" stop-color="#5ec962"/><stop offset="1.0000" stop-color="#5ec962"/></linearGradient>
<linearGradient id="s1_49"><stop offset="0.0000" stop-color="#35b779"/><stop offset="0.0194" stop-color="#35b779"/><stop offset="0.1634" stop-color="#2ab07f"/><stop offset="0.2742" stop-color="#2ab07f"/><stop offset="0.3850" stop-color="#5ec962"/><stop offset="0.4626" stop-color="#35b779"/><stop offset="0.5291" stop-color="#26828e"/><stop offset="0.6066" stop-color="#2c728e"/><stop offset="0.7175" stop-color="#2a788e"/><stop offset="0.7673" stop-color="#7ad151"/><stop offset="0.8283" stop-color="#b5de2b"/><stop offset="0.9335" stop-color="#b5de2b"/><stop offset="0.9695" stop-color="#b5de2b"/><stop offset="1.0000" stop-color="#b5de2b"/></linearGradient>
<linearGradient id="s1_50"><stop offset="0.0000" stop-color="#22a884"/><stop offset="0.0194" stop-color="#22a884"/><stop offset="0.1634" stop-color="#22a884"/><stop offset="0.2742" stop-color="#22a884"/><stop offset="0.3850" stop-color="#22a884"/><stop offset="0.4626" stop-color="#22a884"/><stop offset="0.5291" stop-color="#2a788e"/><stop offset="0.6066" stop-color="#2a788e"/><stop offset="0.7175" stop-color="#2a788e"/><stop offset="0.7673" stop-color="#22a884"/><stop offset="0.8283" stop-color="#7ad151"/><stop offset="0.9335" stop-color="#7ad151"/><stop offset="0.9695" stop-color="#7ad151"/><stop offset="1.0000" stop-color="#7ad151"/></linearGradient><linearGradient id="s2_0"><stop offset="0.0000" stop-color="#46085c"/><stop offset="0.0194" stop-color="#46085c"/><stop offset="0.1634" stop-color="#46085c"/><stop offset="0.2742" stop-color="#450559"/><stop offset="0.3850" stop-color="#440256"/><stop offset="0.4626" stop-color="#46085c"/><stop offset="0.5291" stop-color="#3e4a89"/><stop offset="0.6066" stop-color="#2a768e"/><stop offset="0.7175" stop-color="#26828e"/><stop offset="0.7673" stop-color="#2c728e"/><stop offset="0.8283" stop-color="#46085c"/><stop offset="0.9335" stop-color="#46085c"/><stop offset="0.9695" stop-color="#48186a"/><stop offset="1.0000" stop-color="#482878"/></linearGradient>
<linearGradient id="s2_1"><stop offset="0.0000" stop-color="#471365"/><stop offset="0.0194" stop-color="#471365"/><stop offset="0.1634" stop-color="#481c6e"/><stop offset="0.2742" stop-color="#481769"/><stop offset="0.3850" stop-color="#482475"/><stop offset="0.4626" stop-color="#482475"/><stop offset="0.5291" stop-color="#2c728e"/><stop offset="0.6066" stop-color="#21918c"/><stop offset="0.7175" stop-color="#1f9a8a"/><stop offset="0.7673" stop-color="#2a788e"/><stop offset="0.8283" stop-color="#481c6e"/><stop offset="0.9335" stop-color="#481467"/><stop offset="0.9695" stop-color="#482173"/><stop offset="1.0000" stop-color="#472e7c"/></linearGradient>
<linearGradient id="s2_2"><stop offset="0.0000" stop-color="#424186"/><stop offset="0.0194" stop-color="#424186"/><stop offset="0.1634" stop-color="#424186"/><stop offset="0.2742" stop-color="#424186"/><stop offset="0.3850" stop-color="#433e85"/><stop offset="0.4626" stop-color="#443983"/><stop offset="0.5291" stop-color="#26828e"/><stop offset="0.6066" stop-color="#1f968b"/><stop offset="0.7175" stop-color="#1fa088"/><stop offset="0.7673" stop-color="#25858e"/><stop offset="0.8283" stop-color="#482475"/><stop offset="0.9335" stop-color="#481c6e"/><stop offset="0.9695" stop-color="#482878"/><stop offset="1.0000" stop-color="#46337f"/></linearGradient>
<linearGradient id="s2_3"><stop offset="0.0000" stop-color="#3e4c8a"/><stop offset="0.0194" stop-color="#3e4c8a"/><stop offset="0.1634" stop-color="#3e4a89"/><stop offset="0.2742" stop-color="#443983"/><stop offset="0.3850" stop-color="#443983"/><stop offset="0.4626" stop-color="#472c7a"/><stop offset="0.5291" stop-color="#2c728e"/><stop offset="0.6066" stop-color="#23898e"/><stop offset="0.7175" stop-color="#21918c"/><stop offset="0.7673" stop-color="#2c728e"/><stop offset="0.8283" stop-color="#414487"/><stop offset="0.9335" stop-color="#482475"/><stop offset="0.9695" stop-color="#472d7b"/><stop offset="1.0000" stop-color="#453781"/></linearGradient>
<linearGradient id="s2_4"><stop offset="0.0000" stop-color="#3f4889"/><stop offset="0.0194" stop-color="#3f4889"/><stop offset="0.1634" stop-color="#433e85"/><stop offset="0.2742" stop-color="#414487"/><stop offset="0.3850" stop-color="#472c7a"/><stop offset="0.4626" stop-color="#46307e"/><stop offset="0.5291" stop-color="#2d708e"/><stop offset="0.6066" stop-color="#1f9a8a"/><stop offset="0.7175" stop-color="#20a386"/><stop offset="0.7673" stop-color="#21918c"/><stop offset="0.8283" stop-color="#472c7a"/><stop offset="0.9335" stop-color="#3f4889"/><stop offset="0.9695" stop-color="#3e4989"/><stop offset="1.0000" stop-color="#3e4c8a"/></linearGradient>
<linearGradient id="s2_5"><stop offset="0.0000" stop-color="#472e7c"/><stop offset="0.0194" stop-color="#472e7c"/><stop offset="0.1634" stop-color="#482475"/><stop offset="0.2742" stop-color="#482878"/><stop offset="0.3850" stop-color="#481c6e"/><stop offset="0.4626" stop-color="#481c6e"/><stop offset="0.5291" stop-color="#38598c"/><stop offset="0.6066" stop-color="#228c8d"/><stop offset="0.7175" stop-color="#228c8d"/><stop offset="0.7673" stop-color="#2a788e"/><stop offset="0.8283" stop-color="#443983"/><stop offset="0.9335" stop-color="#481c6e"/><stop offset="0.9695" stop-color="#482878"/><stop offset="1.0000" stop-color="#46337f"/></linearGradient>
<linearGradient id="s2_6"><stop offset="0.0000" stop-color="#481a6c"/><stop offset="0.0194" stop-color="#481a6c"/><stop offset="0.1634" stop-color="#470e61"/><stop offset="0.2742" stop-color="#48186a"/><stop offset="0.3850" stop-color="#471063"/><stop offset="0.4626" stop-color="#482475"/><stop offset="0.5291" stop-color="#31688e"/><stop offset="0.6066" stop-color="#26828e"/><stop offset="0.7175" stop-color="#1f9a8a"/><stop offset="0.7673" stop-color="#26828e"/><stop offset="0.8283" stop-color="#481f70"/><stop offset="0.9335" stop-color="#471063"/><stop offset="0.9695" stop-color="#481d6f"/><stop offset="1.0000" stop-color="#472c7a"/></linearGradient>
<linearGradient id="s2_7"><stop offset="0.0000" stop-color="#46085c"/><stop offset="0.0194" stop-color="#46085c"/><stop offset="0.1634" stop-color="#46085c"/><stop offset="0.2742" stop-color="#46085c"/><stop offset="0.3850" stop-color="#46085c"/><stop offset="0.4626" stop-color="#481769"/><stop offset="0.5291" stop-color="#355f8d"/><stop offset="0.6066" stop-color="#2c728e"/><stop offset="0.7175" stop-color="#22a785"/><stop offset="0.7673" stop-color="#2c728e"/><stop offset="0.8283" stop-color="#482576"/><stop offset="0.9335" stop-color="#481769"/><stop offset="0.9695" stop-color="#482374"/><stop offset="1.0000" stop-color="#472f7d"/></linearGradient>
<linearGradient id="s2_8"><stop offset="0.0000" stop-color="#470d60"/><stop offset="0.0194" stop-color="#470d60"/><stop offset="0.1634" stop-color="#471063"/><stop offset="0.2742" stop-color="#46085c"/><stop offset="0.3850" stop-color="#470e61"/><stop offset="0.4626" stop-color="#472c7a"/><stop offset="0.5291" stop-color="#2a788e"/><stop offset="0.6066" stop-color="#23898e"/><stop offset="0.7175" stop-color="#1f968b"/><stop offset="0.7673" stop-color="#21918c"/><stop offset="0.8283" stop-color="#433e85"/><stop offset="0.9335" stop-color="#482071"/><stop offset="0.9695" stop-color="#472a7a"/><stop offset="1.0000" stop-color="#463480"/></linearGradient>
<linearGradient id="s2_9"><stop offset="0.0000" stop-color="#482475"/><stop offset="0.0194" stop-color="#482475"/><stop offset="0.1634" stop-color="#48186a"/><stop offset="0.2742" stop-color="#481c6e"/><stop offset="0.3850" stop-color="#481a6c"/><stop offset="0.4626" stop-color="#46307e"/><stop offset="0.5291" stop-color="#2c728e"/><stop offset="0.6066" stop-color="#1f968b"/><stop offset="0.7175" stop-color="#23898e"/><stop offset="0.7673" stop-color="#2a788e"/><stop offset="0.8283" stop-color="#481467"/><stop offset="0.9335" stop-color="#443983"/><stop offset="0.9695" stop-color="#433e85"/><stop offset="1.0000" stop-color="#414287"/></linearGradient>
<linearGradient id="s2_10"><stop offset="0.0000" stop-color="#443983"/><stop offset="0.0194" stop-color="#443983"/><stop offset="0.1634" stop-color="#472c7a"/><stop offset="0.2742" stop-color="#46337f"/><stop offset="0.3850" stop-color="#472a7a"/><stop offset="0.4626" stop-color="#481f70"/><stop offset="0.5291" stop-color="#38598c"/><stop offset="0.6066" stop-color="#2a788e"/><stop offset="0.7175" stop-color="#1fa088"/><stop offset="0.7673" stop-color="#2c728e"/><stop offset="0.8283" stop-color="#48186a"/><stop offset="0.9335" stop-color="#481467"/><stop offset="0.9695" stop-color="#482173"/><stop offset="1.0000" stop-color="#472e7c"/></linearGradient>
<linearGradient id="s2_11"><stop offset="0.0000" stop-color="#3b528b"/><stop offset="0.0194" stop-color="#3b528b"/><stop offset="0.1634" stop-color="#414487"/><stop offset="0.2742" stop-color="#3e4a89"/><stop offset="0.3850" stop-color="#46337f"/><stop offset="0.4626" stop-color="#443983"/><stop offset="0.5291" stop-color="#2d708e"/><stop offset="0.6066" stop-color="#21918c"/><stop offset="0.7175" stop-color="#228c8d"/><stop offset="0.7673" stop-color="#26828e"/><stop offset="0.8283" stop-color="#46337f"/><stop offset="0.9335" stop-color="#481769"/><stop offset="0.9695" stop-color="#482374"/><stop offset="1.0000" stop-color="#472f7d"/></linearGradient>
<linearGradient id="s2_12"><stop offset="0.0000" stop-color="#2e6e8e"/><stop offset="0.0194" stop-color="#2e6e8e"/><stop offset="0.1634" stop-color="#3b528b"/><stop offset="0.2742" stop-color="#424186"/><stop offset="0.3850" stop-color="#481f70"/><stop offset="0.4626" stop-color="#482475"/><stop offset="0.5291" stop-color="#3b528b"/><stop offset="0.6066" stop-color="#26828e"/><stop offset="0.7175" stop-color="#20a386"/><stop offset="0.7673" stop-color="#2d708e"/><stop offset="0.8283" stop-color="#481c6e"/><stop offset="0.9335" stop-color="#471063"/><stop offset="0.9695" stop-color="#481d6f"/><stop offset="1.0000" stop-color="#472c7a"/></linearGradient>
<linearGradient id="s2_13"><stop offset="0.0000" stop-color="#31688e"/><stop offset="0.0194" stop-color="#31688e"/><stop offset="0.1634" stop-color="#33638d"/><stop offset="0.2742" stop-color="#482878"/><stop offset="0.3850" stop-color="#48186a"/><stop offset="0.4626" stop-color="#46307e"/><stop offset="0.5291" stop-color="#33638d"/><stop offset="0.6066" stop-color="#2c728e"/><stop offset="0.7175" stop-color="#25858e"/><stop offset="0.7673" stop-color="#2a788e"/><stop offset="0.8283" stop-color="#482475"/><stop offset="0.9335" stop-color="#481c6e"/><stop offset="0.9695" stop-color="#482878"/><stop offset="1.0000" stop-color="#46337f"/></linearGradient>
<linearGradient id="s2_14"><stop offset="0.0000" stop-color="#2a788e"/><stop offset="0.0194" stop-color="#2a788e"/><stop offset="0.1634" stop-color="#3e4a89"/><stop offset="0.2742" stop-color="#472c7a"/><stop offset="0.3850" stop-color="#482475"/><stop offset="0.4626" stop-color="#481c6e"/><stop offset="0.5291" stop-color="#355f8d"/><stop offset="0.6066" stop-color="#1f9a8a"/><stop offset="0.7175" stop-color="#1f968b"/><stop offset="0.7673" stop-color="#21918c"/><stop offset="0.8283" stop-color="#443983"/><stop offset="0.9335" stop-color="#46307e"/><stop offset="0.9695" stop-color="#453781"/><stop offset="1.0000" stop-color="#433e85"/></linearGradient>
<linearGradient id="s2_15"><stop offset="0.0000" stop-color="#3b528b"/><stop offset="0.0194" stop-color="#3b528b"/><stop offset="0.1634" stop-color="#481f70"/><stop offset="0.2742" stop-color="#482071"/><stop offset="0.3850" stop-color="#46307e"/><stop offset="0.4626" stop-color="#443983"/><stop offset="0.5291" stop-color="#2c728e"/><stop offset="0.6066" stop-color="#25858e"/><stop offset="0.7175" stop-color="#1fa088"/><stop offset="0.7673" stop-color="#2c728e"/><stop offset="0.8283" stop-color="#481f70"/><stop offset="0.9335" stop-color="#481769"/><stop offset="0.9695" stop-color="#482374"/><stop offset="1.0000" stop-color="#472f7d"/></linearGradient>
<linearGradient id="s2_16"><stop offset="0.0000" stop-color="#443983"/><stop offset="0.0194" stop-color="#443983"/><stop offset="0.1634" stop-color="#433e85"/><stop offset="0.2742" stop-color="#46307e"/><stop offset="0.3850" stop-color="#481c6e"/><stop offset="0.4626" stop-color="#46307e"/><stop offset="0.5291" stop-color="#38598c"/><stop offset="0.6066" stop-color="#1fa088"/><stop offset="0.7175" stop-color="#228c8d"/><stop offset="0.7673" stop-color="#2a788e"/><stop offset="0.8283" stop-color="#472c7a"/><stop offset="0.9335" stop-color="#46085c"/><stop offset="0.9695" stop-color="#48186a"/><stop offset="1.0000" stop-color="#482878"/></linearGradient>
<linearGradient id="s2_17"><stop offset="0.0000" stop-color="#414487"/><stop offset="0.0194" stop-color="#414487"/><stop offset="0.1634" stop-color="#3e4a89"/><stop offset="0.2742" stop-color="#481f70"/><stop offset="0.3850" stop-color="#471365"/><stop offset="0.4626" stop-color="#443983"/><stop offset="0.5291" stop-color="#2c718e"/><stop offset="0.6066" stop-color="#2a788e"/><stop offset="0.7175" stop-color="#1f968b"/><stop offset="0.7673" stop-color="#33638d"/><stop offset="0.8283" stop-color="#471063"/><stop offset="0.9335" stop-color="#471063"/><stop offset="0.9695" stop-color="#481d6f"/><stop offset="1.0000" stop-color="#472c7a"/></linearGradient>
<linearGradient id="s2_18"><stop offset="0.0000" stop-color="#3e4a89"/><stop offset="0.0194" stop-color="#3e4a89"/><stop offset="0.1634" stop-color="#424186"/><stop offset="0.2742" stop-color="#443983"/><stop offset="0.3850" stop-color="#472c7a"/><stop offset="0.4626" stop-color="#46307e"/><stop offset="0.5291" stop-color="#3b528b"/><stop offset="0.6066" stop-color="#23898e"/><stop offset="0.7175" stop-color="#22a884"/><stop offset="0.7673" stop-color="#2c728e"/><stop offset="0.8283" stop-color="#46085c"/><stop offset="0.9335" stop-color="#46085c"/><stop offset="0.9695" stop-color="#48186a"/><stop offset="1.0000" stop-color="#482878"/></linearGradient>
<linearGradient id="s2_19"><stop offset="0.0000" stop-color="#472c7a"/><stop offset="0.0194" stop-color="#472c7a"/><stop offset="0.1634" stop-color="#443983"/><stop offset="0.2742" stop-color="#46307e"/><stop offset="0.3850" stop-color="#481769"/><stop offset="0.4626" stop-color="#471063"/><stop offset="0.5291" stop-color="#3e4a89"/><stop offset="0.6066" stop-color="#2d708e"/><stop offset="0.7175" stop-color="#21918c"/><stop offset="0.7673" stop-color="#3b528b"/><stop offset="0.8283" stop-color="#470d60"/><stop offset="0.9335" stop-color="#470d60"/><stop offset="0.9695" stop-color="#481c6e"/><stop offset="1.0000" stop-color="#472a7a"/></linearGradient>
<linearGradient id="s2_20"><stop offset="0.0000" stop-color="#424186"/><stop offset="0.0194" stop-color="#424186"/><stop offset="0.1634" stop-color="#3e4c8a"/><stop offset="0.2742" stop-color="#414487"/><stop offset="0.3850" stop-color="#443983"/><stop offset="0.4626" stop-color="#471063"/><stop offset="0.5291" stop-color="#2c728e"/><stop offset="0.6066" stop-color="#2c728e"/><stop offset="0.7175" stop-color="#23898e"/><stop offset="0.7673" stop-color="#2d708e"/><stop offset="0.8283" stop-color="#482071"/><stop offset="0.9335" stop-color="#46085c"/><stop offset="0.9695" stop-color="#48186a"/><stop offset="1.0000" stop-color="#482878"/></linearGradient>
<linearGradient id="s2_21"><stop offset="0.0000" stop-color="#3b528b"/><stop offset="0.0194" stop-color="#3b528b"/><stop offset="0.1634" stop-color="#3b528b"/><stop offset="0.2742" stop-color="#3b528b"/><stop offset="0.3850" stop-color="#3b528b"/><stop offset="0.4626" stop-color="#443983"/><stop offset="0.5291" stop-color="#2a788e"/><stop offset="0.6066" stop-color="#26828e"/><stop offset="0.7175" stop-color="#2a788e"/><stop offset="0.7673" stop-color="#3e4a89"/><stop offset="0.8283" stop-color="#481769"/><stop offset="0.9335" stop-color="#471063"/><stop offset="0.9695" stop-color="#481d6f"/><stop offset="1.0000" stop-color="#472c7a"/></linearGradient>
<linearGradient id="s2_22"><stop offset="0.0000" stop-color="#2d708e"/><stop offset="0.0194" stop-color="#2d708e"/><stop offset="0.1634" stop-color="#2d708e"/><stop offset="0.2742" stop-color="#38598c"/><stop offset="0.3850" stop-color="#31688e"/><stop offset="0.4626" stop-color="#3e4a89"/><stop offset="0.5291" stop-color="#38598c"/><stop offset="0.6066" stop-color="#2d708e"/><stop offset="0.7175" stop-color="#1f968b"/><stop offset="0.7673" stop-color="#2a788e"/><stop offset="0.8283" stop-color="#443983"/><stop offset="0.9335" stop-color="#470d60"/><stop offset="0.9695" stop-color="#481c6e"/><stop offset="1.0000" stop-color="#472a7a"/></linearGradient>
<linearGradient id="s2_23"><stop offset="0.0000" stop-color="#2a788e"/><stop offset="0.0194" stop-color="#2a788e"/><stop offset="0.1634" stop-color="#2a788e"/><stop offset="0.2742" stop-color="#33638d"/><stop offset="0.3850" stop-color="#2c728e"/><stop offset="0.4626" stop-color="#3b528b"/><stop offset="0.5291" stop-color="#33638d"/><stop offset="0.6066" stop-color="#21918c"/><stop offset="0.7175" stop-color="#22a785"/><stop offset="0.7673" stop-color="#2c728e"/><stop offset="0.8283" stop-color="#3b528b"/><stop offset="0.9335" stop-color="#481c6e"/><stop offset="0.9695" stop-color="#482878"/><stop offset="1.0000" stop-color="#46337f"/></linearGradient>
<linearGradient id="s2_24"><stop offset="0.0000" stop-color="#26828e"/><stop offset="0.0194" stop-color="#26828e"/><stop offset="0.1634" stop-color="#2c728e"/><stop offset="0.2742" stop-color="#3b528b"/><stop offset="0.3850" stop-color="#38598c"/><stop offset="0.4626" stop-color="#38598c"/><stop offset="0.5291" stop-color="#3b528b"/><stop offset="0.6066" stop-color="#2a788e"/><stop offset="0.7175" stop-color="#3bbb75"/><stop offset="0.7673" stop-color="#2a788e"/><stop offset="0.8283" stop-color="#2c728e"/><stop offset="0.9335" stop-color="#443983"/><stop offset="0.9695" stop-color="#433e85"/><stop offset="1.0000" stop-color="#414287"/></linearGradient>
<linearGradient id="s2_25"><stop offset="0.0000" stop-color="#2c728e"/><stop offset="0.0194" stop-color="#2c728e"/><stop offset="0.1634" stop-color="#38598c"/><stop offset="0.2742" stop-color="#424186"/><stop offset="0.3850" stop-color="#3b528b"/><stop offset="0.4626" stop-color="#2c728e"/><stop offset="0.5291" stop-color="#25858e"/><stop offset="0.6066" stop-color="#2ab07f"/><stop offset="0.7175" stop-color="#2ab07f"/><stop offset="0.7673" stop-color="#2d708e"/><stop offset="0.8283" stop-color="#414487"/><stop offset="0.9335" stop-color="#2d708e"/><stop offset="0.9695" stop-color="#306a8e"/><stop offset="1.0000" stop-color="#32648e"/></linearGradient>
<linearGradient id="s2_26"><stop offset="0.0000" stop-color="#38598c"/><stop offset="0.0194" stop-color="#38598c"/><stop offset="0.1634" stop-color="#3b528b"/><stop offset="0.2742" stop-color="#46307e"/><stop offset="0.3850" stop-color="#33638d"/><stop offset="0.4626" stop-color="#2a788e"/><stop offset="0.5291" stop-color="#21918c"/><stop offset="0.6066" stop-color="#35b779"/><stop offset="0.7175" stop-color="#1f9e89"/><stop offset="0.7673" stop-color="#1f9e89"/><stop offset="0.8283" stop-color="#2d708e"/><stop offset="0.9335" stop-color="#3b528b"/><stop offset="0.9695" stop-color="#3b528b"/><stop offset="1.0000" stop-color="#3b528b"/></linearGradient>
<linearGradient id="s2_27"><stop offset="0.0000" stop-color="#3e4a89"/><stop offset="0.0194" stop-color="#3e4a89"/><stop offset="0.1634" stop-color="#424186"/><stop offset="0.2742" stop-color="#481f70"/><stop offset="0.3850" stop-color="#2a788e"/><stop offset="0.4626" stop-color="#2c728e"/><stop offset="0.5291" stop-color="#23898e"/><stop offset="0.6066" stop-color="#1f9e89"/><stop offset="0.7175" stop-color="#23898e"/><stop offset="0.7673" stop-color="#21918c"/><stop offset="0.8283" stop-color="#2a788e"/><stop offset="0.9335" stop-color="#46307e"/><stop offset="0.9695" stop-color="#453781"/><stop offset="1.0000" stop-color="#433e85"/></linearGradient>
<linearGradient id="s2_28"><stop offset="0.0000" stop-color="#3b528b"/><stop offset="0.0194" stop-color="#3b528b"/><stop offset="0.1634" stop-color="#404588"/><stop offset="0.2742" stop-color="#472c7a"/><stop offset="0.3850" stop-color="#46307e"/><stop offset="0.4626" stop-color="#3e4a89"/><stop offset="0.5291" stop-color="#31688e"/><stop offset="0.6066" stop-color="#228c8d"/><stop offset="0.7175" stop-color="#2a788e"/><stop offset="0.7673" stop-color="#2c728e"/><stop offset="0.8283" stop-color="#443983"/><stop offset="0.9335" stop-color="#2c728e"/><stop offset="0.9695" stop-color="#2f6c8e"/><stop offset="1.0000" stop-color="#31668e"/></linearGradient>
<linearGradient id="s2_29"><stop offset="0.0000" stop-color="#2a788e"/><stop offset="0.0194" stop-color="#2a788e"/><stop offset="0.1634" stop-color="#2c728e"/><stop offset="0.2742" stop-color="#3b528b"/><stop offset="0.3850" stop-color="#3b528b"/><stop offset="0.4626" stop-color="#443983"/><stop offset="0.5291" stop-color="#3e4a89"/><stop offset="0.6066" stop-color="#2c728e"/><stop offset="0.7175" stop-color="#3b528b"/><stop offset="0.7673" stop-color="#3e4a89"/><stop offset="0.8283" stop-color="#46307e"/><stop offset="0.9335" stop-color="#2a788e"/><stop offset="0.9695" stop-color="#2d718e"/><stop offset="1.0000" stop-color="#306a8e"/></linearGradient>
<linearGradient id="s2_30"><stop offset="0.0000" stop-color="#25858e"/><stop offset="0.0194" stop-color="#25858e"/><stop offset="0.1634" stop-color="#2a788e"/><stop offset="0.2742" stop-color="#2c728e"/><stop offset="0.3850" stop-color="#25858e"/><stop offset="0.4626" stop-color="#481c6e"/><stop offset="0.5291" stop-color="#443983"/><stop offset="0.6066" stop-color="#3b528b"/><stop offset="0.7175" stop-color="#2c728e"/><stop offset="0.7673" stop-color="#2a788e"/><stop offset="0.8283" stop-color="#2c728e"/><stop offset="0.9335" stop-color="#433e85"/><stop offset="0.9695" stop-color="#424186"/><stop offset="1.0000" stop-color="#404688"/></linearGradient>
<linearGradient id="s2_31"><stop offset="0.0000" stop-color="#26828e"/><stop offset="0.0194" stop-color="#26828e"/><stop offset="0.1634" stop-color="#25858e"/><stop offset="0.2742" stop-color="#23898e"/><stop offset="0.3850" stop-color="#1f9a8a"/><stop offset="0.4626" stop-color="#2d708e"/><stop offset="0.5291" stop-color="#2a788e"/><stop offset="0.6066" stop-color="#31688e"/><stop offset="0.7175" stop-color="#25858e"/><stop offset="0.7673" stop-color="#1f9a8a"/><stop offset="0.8283" stop-color="#26828e"/><stop offset="0.9335" stop-color="#2c718e"/><stop offset="0.9695" stop-color="#2f6c8e"/><stop offset="1.0000" stop-color="#32658e"/></linearGradient>
<linearGradient id="s2_32"><stop offset="0.0000" stop-color="#2c728e"/><stop offset="0.0194" stop-color="#2c728e"/><stop offset="0.1634" stop-color="#2d708e"/><stop offset="0.2742" stop-color="#2d708e"/><stop offset="0.3850" stop-color="#21918c"/><stop offset="0.4626" stop-color="#23898e"/><stop offset="0.5291" stop-color="#1f9a8a"/><stop offset="0.6066" stop-color="#25858e"/><stop offset="0.7175" stop-color="#1f968b"/><stop offset="0.7673" stop-color="#2a788e"/><stop offset="0.8283" stop-color="#3e4a89"/><stop offset="0.9335" stop-color="#481467"/><stop offset="0.9695" stop-color="#482173"/><stop offset="1.0000" stop-color="#472e7c"/></linearGradient>
<linearGradient id="s2_33"><stop offset="0.0000" stop-color="#2a788e"/><stop offset="0.0194" stop-color="#2a788e"/><stop offset="0.1634" stop-color="#26828e"/><stop offset="0.2742" stop-color="#2a788e"/><stop offset="0.3850" stop-color="#2a788e"/><stop offset="0.4626" stop-color="#2c728e"/><stop offset="0.5291" stop-color="#2c728e"/><stop offset="0.6066" stop-color="#21918c"/><stop offset="0.7175" stop-color="#228c8d"/><stop offset="0.7673" stop-color="#2c728e"/><stop offset="0.8283" stop-color="#481c6e"/><stop offset="0.9335" stop-color="#481769"/><stop offset="0.9695" stop-color="#482374"/><stop offset="1.0000" stop-color="#472f7d"/></linearGradient>
<linearGradient id="s2_34"><stop offset="0.0000" stop-color="#25858e"/><stop offset="0.0194" stop-color="#25858e"/><stop offset="0.1634" stop-color="#23898e"/><stop offset="0.2742" stop-color="#25858e"/><stop offset="0.3850" stop-color="#2c728e"/><stop offset="0.4626" stop-color="#2a788e"/><stop offset="0.5291" stop-color="#2a788e"/><stop offset="0.6066" stop-color="#3e4a89"/><stop offset="0.7175" stop-color="#2a788e"/><stop offset="0.7673" stop-color="#3e4a89"/><stop offset="0.8283" stop-color="#481769"/><stop offset="0.9335" stop-color="#46307e"/><stop offset="0.9695" stop-color="#453781"/><stop offset="1.0000" stop-color="#433e85"/></linearGradient>
<linearGradient id="s2_35"><stop offset="0.0000" stop-color="#25848e"/><stop offset="0.0194" stop-color="#25848e"/><stop offset="0.1634" stop-color="#2c728e"/><stop offset="0.2742" stop-color="#2c728e"/><stop offset="0.3850" stop-color="#2a788e"/><stop offset="0.4626" stop-color="#2c728e"/><stop offset="0.5291" stop-color="#2c728e"/><stop offset="0.6066" stop-color="#2c728e"/><stop offset="0.7175" stop-color="#414487"/><stop offset="0.7673" stop-color="#443983"/><stop offset="0.8283" stop-color="#482475"/><stop offset="0.9335" stop-color="#482475"/><stop offset="0.9695" stop-color="#472d7b"/><stop offset="1.0000" stop-color="#453781"/></linearGradient>
<linearGradient id="s2_36"><stop offset="0.0000" stop-color="#2c728e"/><stop offset="0.0194" stop-color="#2c728e"/><stop offset="0.1634" stop-color="#2d708e"/><stop offset="0.2742" stop-color="#2d708e"/><stop offset="0.3850" stop-color="#21918c"/><stop offset="0.4626" stop-color="#26828e"/><stop offset="0.5291" stop-color="#31688e"/><stop offset="0.6066" stop-color="#31688e"/><stop offset="0.7175" stop-color="#2d708e"/><stop offset="0.7673" stop-color="#2c728e"/><stop offset="0.8283" stop-color="#414487"/><stop offset="0.9335" stop-color="#414487"/><stop offset="0.9695" stop-color="#404688"/><stop offset="1.0000" stop-color="#3e4989"/></linearGradient>
<linearGradient id="s2_37"><stop offset="0.0000" stop-color="#3a548c"/><stop offset="0.0194" stop-color="#3a548c"/><stop offset="0.1634" stop-color="#3b528b"/><stop offset="0.2742" stop-color="#3b528b"/><stop offset="0.3850" stop-color="#2c728e"/><stop offset="0.4626" stop-color="#31688e"/><stop offset="0.5291" stop-color="#3b528b"/><stop offset="0.6066" stop-color="#443983"/><stop offset="0.7175" stop-color="#3b528b"/><stop offset="0.7673" stop-color="#26828e"/><stop offset="0.8283" stop-color="#26828e"/><stop offset="0.9335" stop-color="#26828e"/><stop offset="0.9695" stop-color="#2a788e"/><stop offset="1.0000" stop-color="#2d708e"/></linearGradient>
<linearGradient id="s2_38"><stop offset="0.0000" stop-color="#3e4c8a"/><stop offset="0.0194" stop-color="#3e4c8a"/><stop offset="0.1634" stop-color="#3e4a89"/><stop offset="0.2742" stop-color="#3e4a89"/><stop offset="0.3850" stop-color="#3b528b"/><stop offset="0.4626" stop-color="#414487"/><stop offset="0.5291" stop-color="#414487"/><stop offset="0.6066" stop-color="#414487"/><stop offset="0.7175" stop-color="#31688e"/><stop offset="0.7673" stop-color="#3e4a89"/><stop offset="0.8283" stop-color="#31688e"/><stop offset="0.9335" stop-color="#31688e"/><stop offset="0.9695" stop-color="#32648e"/><stop offset="1.0000" stop-color="#355f8d"/></linearGradient>
<linearGradient id="s2_39"><stop offset="0.0000" stop-color="#3b528b"/><stop offset="0.0194" stop-color="#3b528b"/><stop offset="0.1634" stop-color="#38598c"/><stop offset="0.2742" stop-color="#38598c"/><stop offset="0.3850" stop-color="#3e4a89"/><stop offset="0.4626" stop-color="#3e4a89"/><stop offset="0.5291" stop-color="#2d708e"/><stop offset="0.6066" stop-color="#2d708e"/><stop offset="0.7175" stop-color="#38598c"/><stop offset="0.7673" stop-color="#3b528b"/><stop offset="0.8283" stop-color="#3e4a89"/><stop offset="0.9335" stop-color="#3e4a89"/><stop offset="0.9695" stop-color="#3e4c8a"/><stop offset="1.0000" stop-color="#3d4d8a"/></linearGradient>
<linearGradient id="s2_40"><stop offset="0.0000" stop-color="#33638d"/><stop offset="0.0194" stop-color="#33638d"/><stop offset="0.1634" stop-color="#31688e"/><stop offset="0.2742" stop-color="#31688e"/><stop offset="0.3850" stop-color="#33638d"/><stop offset="0.4626" stop-color="#2c718e"/><stop offset="0.5291" stop-color="#2a768e"/><stop offset="0.6066" stop-color="#2a768e"/><stop offset="0.7175" stop-color="#2c728e"/><stop offset="0.7673" stop-color="#2a788e"/><stop offset="0.8283" stop-color="#3b528b"/><stop offset="0.9335" stop-color="#3b528b"/><stop offset="0.9695" stop-color="#3b528b"/><stop offset="1.0000" stop-color="#3b528b"/></linearGradient>
<linearGradient id="s2_41"><stop offset="0.0000" stop-color="#2a778e"/><stop offset="0.0194" stop-color="#2a778e"/><stop offset="0.1634" stop-color="#26828e"/><stop offset="0.2742" stop-color="#23898e"/><stop offset="0.3850" stop-color="#26828e"/><stop offset="0.4626" stop-color="#25858e"/><stop offset="0.5291" stop-color="#25848e"/><stop offset="0.6066" stop-color="#25848e"/><stop offset="0.7175" stop-color="#26828e"/><stop offset="0.7673" stop-color="#1fa088"/><stop offset="0.8283" stop-color="#1fa088"/><stop offset="0.9335" stop-color="#22a884"/><stop offset="0.9695" stop-color="#1f978b"/><stop offset="1.0000" stop-color="#24868e"/></linearGradient>
<linearGradient id="s2_42"><stop offset="0.0000" stop-color="#1f968b"/><stop offset="0.0194" stop-color="#1f968b"/><stop offset="0.1634" stop-color="#2ab07f"/><stop offset="0.2742" stop-color="#35b779"/><stop offset="0.3850" stop-color="#1fa088"/><stop offset="0.4626" stop-color="#1fa088"/><stop offset="0.5291" stop-color="#1fa088"/><stop offset="0.6066" stop-color="#23898e"/><stop offset="0.7175" stop-color="#2c718e"/><stop offset="0.7673" stop-color="#35b779"/><stop offset="0.8283" stop-color="#25858e"/><stop offset="0.9335" stop-color="#25858e"/><stop offset="0.9695" stop-color="#297b8e"/><stop offset="1.0000" stop-color="#2c718e"/></linearGradient>
<linearGradient id="s2_43"><stop offset="0.0000" stop-color="#4ac16d"/><stop offset="0.0194" stop-color="#4ac16d"/><stop offset="0.1634" stop-color="#6ccd5a"/><stop offset="0.2742" stop-color="#7ad151"/><stop offset="0.3850" stop-color="#7ad151"/><stop offset="0.4626" stop-color="#22a884"/><stop offset="0.5291" stop-color="#21918c"/><stop offset="0.6066" stop-color="#21918c"/><stop offset="0.7175" stop-color="#355f8d"/><stop offset="0.7673" stop-color="#21918c"/><stop offset="0.8283" stop-color="#3b528b"/><stop offset="0.9335" stop-color="#33638d"/><stop offset="0.9695" stop-color="#34608d"/><stop offset="1.0000" stop-color="#365c8d"/></linearGradient>
<linearGradient id="s2_44"><stop offset="0.0000" stop-color="#5ec962"/><stop offset="0.0194" stop-color="#5ec962"/><stop offset="0.1634" stop-color="#5ec962"/><stop offset="0.2742" stop-color="#6ccd5a"/><stop offset="0.3850" stop-color="#5ec962"/><stop offset="0.4626" stop-color="#1f9e89"/><stop offset="0.5291" stop-color="#2a788e"/><stop offset="0.6066" stop-color="#2a788e"/><stop offset="0.7175" stop-color="#2a788e"/><stop offset="0.7673" stop-color="#2a788e"/><stop offset="0.8283" stop-color="#2d708e"/><stop offset="0.9335" stop-color="#2d708e"/><stop offset="0.9695" stop-color="#306a8e"/><stop offset="1.0000" stop-color="#32648e"/></linearGradient>
<linearGradient id="s2_45"><stop offset="0.0000" stop-color="#3bbb75"/><stop offset="0.0194" stop-color="#3bbb75"/><stop offset="0.1634" stop-color="#3bbb75"/><stop offset="0.2742" stop-color="#3bbb75"/><stop offset="0.3850" stop-color="#a0da39"/><stop offset="0.4626" stop-color="#4ac16d"/><stop offset="0.5291" stop-color="#1f968b"/><stop offset="0.6066" stop-color="#1f968b"/><stop offset="0.7175" stop-color="#21918c"/><stop offset="0.7673" stop-color="#23898e"/><stop offset="0.8283" stop-color="#38598c"/><stop offset="0.9335" stop-color="#38598c"/><stop offset="0.9695" stop-color="#38588c"/><stop offset="1.0000" stop-color="#39558c"/></linearGradient>
<linearGradient id="s2_46"><stop offset="0.0000" stop-color="#a0da39"/><stop offset="0.0194" stop-color="#a0da39"/><stop offset="0.1634" stop-color="#a8db34"/><stop offset="0.2742" stop-color="#c2df23"/><stop offset="0.3850" stop-color="#dde318"/><stop offset="0.4626" stop-color="#a0da39"/><stop offset="0.5291" stop-color="#5ec962"/><stop offset="0.6066" stop-color="#22a884"/><stop offset="0.7175" stop-color="#23898e"/><stop offset="0.7673" stop-color="#22a884"/><stop offset="0.8283" stop-color="#25848e"/><stop offset="0.9335" stop-color="#25848e"/><stop offset="0.9695" stop-color="#297b8e"/><stop offset="1.0000" stop-color="#2d718e"/></linearGradient>
<linearGradient id="s2_47"><stop offset="0.0000" stop-color="#b5de2b"/><stop offset="0.0194" stop-color="#b5de2b"/><stop offset="0.1634" stop-color="#bddf26"/><stop offset="0.2742" stop-color="#dde318"/><stop offset="0.3850" stop-color="#fde725"/><stop offset="0.4626" stop-color="#dde318"/><stop offset="0.5291" stop-color="#a0da39"/><stop offset="0.6066" stop-color="#35b779"/><stop offset="0.7175" stop-color="#2c728e"/><stop offset="0.7673" stop-color="#3bbb75"/><stop offset="0.8283" stop-color="#26828e"/><stop offset="0.9335" stop-color="#26828e"/><stop offset="0.9695" stop-color="#2a788e"/><stop offset="1.0000" stop-color="#2d708e"/></linearGradient>
<linearGradient id="s2_48"><stop offset="0.0000" stop-color="#7ad151"/><stop offset="0.0194" stop-color="#7ad151"/><stop offset="0.1634" stop-color="#86d549"/><stop offset="0.2742" stop-color="#bddf26"/><stop offset="0.3850" stop-color="#bddf26"/><stop offset="0.4626" stop-color="#b5de2b"/><stop offset="0.5291" stop-color="#35b779"/><stop offset="0.6066" stop-color="#1fa088"/><stop offset="0.7175" stop-color="#1fa088"/><stop offset="0.7673" stop-color="#86d549"/><stop offset="0.8283" stop-color="#5ec962"/><stop offset="0.9335" stop-color="#5ec962"/><stop offset="0.9695" stop-color="#5ec962"/><stop offset="1.0000" stop-color="#5ec962"/></linearGradient>
<linearGradient id="s2_49"><stop offset="0.0000" stop-color="#35b779"/><stop offset="0.0194" stop-color="#35b779"/><stop offset="0.1634" stop-color="#2ab07f"/><stop offset="0.2742" stop-color="#2ab07f"/><stop offset="0.3850" stop-color="#5ec962"/><stop offset="0.4626" stop-color="#35b779"/><stop offset="0.5291" stop-color="#26828e"/><stop offset="0.6066" stop-color="#2c728e"/><stop offset="0.7175" stop-color="#2a788e"/><stop offset="0.7673" stop-color="#7ad151"/><stop offset="0.8283" stop-color="#b5de2b"/><stop offset="0.9335" stop-color="#b5de2b"/><stop offset="0.9695" stop-color="#b5de2b"/><stop offset="1.0000" stop-color="#b5de2b"/></linearGradient>
<linearGradient id="s2_50"><stop offset="0.0000" stop-color="#22a884"/><stop offset="0.0194" stop-color="#22a884"/><stop offset="0.1634" stop-color="#22a884"/><stop offset="0.2742" stop-color="#22a884"/><stop offset="0.3850" stop-color="#22a884"/><stop offset="0.4626" stop-color="#22a884"/><stop offset="0.5291" stop-color="#2a788e"/><stop offset="0.6066" stop-color="#2a788e"/><stop offset="0.7175" stop-color="#2a788e"/><stop offset="0.7673" stop-color="#22a884"/><stop offset="0.8283" stop-color="#7ad151"/><stop offset="0.9335" stop-color="#7ad151"/><stop offset="0.9695" stop-color="#7ad151"/><stop offset="1.0000" stop-color="#7ad151"/></linearGradient></defs>
<g><rect x="259.50" y="8.40" width="180.50" height="2.60" fill="url(#s1_0)"/>
<rect x="259.50" y="10.00" width="180.50" height="2.00" fill="url(#s1_1)"/>
<rect x="259.50" y="11.00" width="180.50" height="2.00" fill="url(#s1_2)"/>
<rect x="259.50" y="12.00" width="180.50" height="2.00" fill="url(#s1_3)"/>
<rect x="259.50" y="13.00" width="180.50" height="2.00" fill="url(#s1_4)"/>
<rect x="259.50" y="14.00" width="180.50" height="2.00" fill="url(#s1_5)"/>
<rect x="259.50" y="15.00" width="180.50" height="2.00" fill="url(#s1_6)"/>
<rect x="259.50" y="16.00" width="180.50" height="2.00" fill="url(#s1_7)"/>
<rect x="259.50" y="17.00" width="180.50" height="2.00" fill="url(#s1_8)"/>
<rect x="259.50" y="18.00" width="180.50" height="2.00" fill="url(#s1_9)"/>
<rect x="259.50" y="19.00" width="180.50" height="2.00" fill="url(#s1_10)"/>
<rect x="259.50" y="20.00" width="180.50" height="2.00" fill="url(#s1_11)"/>
<rect x="259.50" y="21.00" width="180.50" height="2.00" fill="url(#s1_12)"/>
<rect x="259.50" y="22.00" width="180.50" height="2.00" fill="url(#s1_13)"/>
<rect x="259.50" y="23.00" width="180.50" height="2.00" fill="url(#s1_14)"/>
<rect x="259.50" y="24.00" width="180.50" height="2.00" fill="url(#s1_15)"/>
<rect x="259.50" y="25.00" width="180.50" height="2.00" fill="url(#s1_16)"/>
<rect x="259.50" y="26.00" width="180.50" height="2.00" fill="url(#s1_17)"/>
<rect x="259.50" y="27.00" width="180.50" height="2.00" fill="url(#s1_18)"/>
<rect x="259.50" y="28.00" width="180.50" height="2.00" fill="url(#s1_19)"/>
<rect x="259.50" y="29.00" width="180.50" height="2.00" fill="url(#s1_20)"/>
<rect x="259.50" y="30.00" width="180.50" height="2.00" fill="url(#s1_21)"/>
<rect x="259.50" y="31.00" width="180.50" height="2.00" fill="url(#s1_22)"/>
<rect x="259.50" y="32.00" width="180.50" height="2.00" fill="url(#s1_23)"/>
<rect x="259.50" y="33.00" width="180.50" height="2.00" fill="url(#s1_24)"/>
<rect x="259.50" y="34.00" width="180.50" height="2.00" fill="url(#s1_25)"/>
<rect x="259.50" y="35.00" width="180.50" height="2.00" fill="url(#s1_26)"/>
<rect x="259.50" y="36.00" width="180.50" height="2.00" fill="url(#s1_27)"/>
<rect x="259.50" y="37.00" width="180.50" height="2.00" fill="url(#s1_28)"/>
<rect x="259.50" y="38.00" width="180.50" height="2.00" fill="url(#s1_29)"/>
<rect x="259.50" y="39.00" width="180.50" height="2.00" fill="url(#s1_30)"/>
<rect x="259.50" y="40.00" width="180.50" height="2.00" fill="url(#s1_31)"/>
<rect x="259.50" y="41.00" width="180.50" height="2.00" fill="url(#s1_32)"/>
<rect x="259.50" y="42.00" width="180.50" height="2.00" fill="url(#s1_33)"/>
<rect x="259.50" y="43.00" width="180.50" height="2.00" fill="url(#s1_34)"/>
<rect x="259.50" y="44.00" width="180.50" height="2.00" fill="url(#s1_35)"/>
<rect x="259.50" y="45.00" width="180.50" height="2.00" fill="url(#s1_36)"/>
<rect x="259.50" y="46.00" width="180.50" height="2.00" fill="url(#s1_37)"/>
<rect x="259.50" y="47.00" width="180.50" height="2.00" fill="url(#s1_38)"/>
<rect x="259.50" y="48.00" width="180.50" height="2.00" fill="url(#s1_39)"/>
<rect x="259.50" y="49.00" width="180.50" height="2.00" fill="url(#s1_40)"/>
<rect x="259.50" y="50.00" width="180.50" height="2.00" fill="url(#s1_41)"/>
<rect x="259.50" y="51.00" width="180.50" height="2.00" fill="url(#s1_42)"/>
<rect x="259.50" y="52.00" width="180.50" height="2.00" fill="url(#s1_43)"/>
<rect x="259.50" y="53.00" width="180.50" height="2.00" fill="url(#s1_44)"/>
<rect x="259.50" y="54.00" width="180.50" height="2.00" fill="url(#s1_45)"/>
<rect x="259.50" y="55.00" width="180.50" height="2.00" fill="url(#s1_46)"/>
<rect x="259.50" y="56.00" width="180.50" height="2.00" fill="url(#s1_47)"/>
<rect x="259.50" y="57.00" width="180.50" height="2.00" fill="url(#s1_48)"/>
<rect x="259.50" y="58.00" width="180.50" height="2.00" fill="url(#s1_49)"/>
<rect x="259.50" y="59.00" width="180.50" height="0.30" fill="url(#s1_50)"/></g>
<g><rect x="259.50" y="91.60" width="180.50" height="2.60" fill="url(#s2_0)"/>
<rect x="259.50" y="93.20" width="180.50" height="2.00" fill="url(#s2_1)"/>
<rect x="259.50" y="94.20" width="180.50" height="2.00" fill="url(#s2_2)"/>
<rect x="259.50" y="95.20" width="180.50" height="2.00" fill="url(#s2_3)"/>
<rect x="259.50" y="96.20" width="180.50" height="2.00" fill="url(#s2_4)"/>
<rect x="259.50" y="97.20" width="180.50" height="2.00" fill="url(#s2_5)"/>
<rect x="259.50" y="98.20" width="180.50" height="2.00" fill="url(#s2_6)"/>
<rect x="259.50" y="99.20" width="180.50" height="2.00" fill="url(#s2_7)"/>
<rect x="259.50" y="100.20" width="180.50" height="2.00" fill="url(#s2_8)"/>
<rect x="259.50" y="101.20" width="180.50" height="2.00" fill="url(#s2_9)"/>
<rect x="259.50" y="102.20" width="180.50" height="2.00" fill="url(#s2_10)"/>
<rect x="259.50" y="103.20" width="180.50" height="2.00" fill="url(#s2_11)"/>
<rect x="259.50" y="104.20" width="180.50" height="2.00" fill="url(#s2_12)"/>
<rect x="259.50" y="105.20" width="180.50" height="2.00" fill="url(#s2_13)"/>
<rect x="259.50" y="106.20" width="180.50" height="2.00" fill="url(#s2_14)"/>
<rect x="259.50" y="107.20" width="180.50" height="2.00" fill="url(#s2_15)"/>
<rect x="259.50" y="108.20" width="180.50" height="2.00" fill="url(#s2_16)"/>
<rect x="259.50" y="109.20" width="180.50" height="2.00" fill="url(#s2_17)"/>
<rect x="259.50" y="110.20" width="180.50" height="2.00" fill="url(#s2_18)"/>
<rect x="259.50" y="111.20" width="180.50" height="2.00" fill="url(#s2_19)"/>
<rect x="259.50" y="112.20" width="180.50" height="2.00" fill="url(#s2_20)"/>
<rect x="259.50" y="113.20" width="180.50" height="2.00" fill="url(#s2_21)"/>
<rect x="259.50" y="114.20" width="180.50" height="2.00" fill="url(#s2_22)"/>
<rect x="259.50" y="115.20" width="180.50" height="2.00" fill="url(#s2_23)"/>
<rect x="259.50" y="116.20" width="180.50" height="2.00" fill="url(#s2_24)"/>
<rect x="259.50" y="117.20" width="180.50" height="2.00" fill="url(#s2_25)"/>
<rect x="259.50" y="118.20" width="180.50" height="2.00" fill="url(#s2_26)"/>
<rect x="259.50" y="119.20" width="180.50" height="2.00" fill="url(#s2_27)"/>
<rect x="259.50" y="120.20" width="180.50" height="2.00" fill="url(#s2_28)"/>
<rect x="259.50" y="121.20" width="180.50" height="2.00" fill="url(#s2_29)"/>
<rect x="259.50" y="122.20" width="180.50" height="2.00" fill="url(#s2_30)"/>
<rect x="259.50" y="123.20" width="180.50" height="2.00" fill="url(#s2_31)"/>
<rect x="259.50" y="124.20" width="180.50" height="2.00" fill="url(#s2_32)"/>
<rect x="259.50" y="125.20" width="180.50" height="2.00" fill="url(#s2_33)"/>
<rect x="259.50" y="126.20" width="180.50" height="2.00" fill="url(#s2_34)"/>
<rect x="259.50" y="127.20" width="180.50" height="2.00" fill="url(#s2_35)"/>
<rect x="259.50" y="128.20" width="180.50" height="2.00" fill="url(#s2_36)"/>
<rect x="259.50" y="129.20" width="180.50" height="2.00" fill="url(#s2_37)"/>
<rect x="259.50" y="130.20" width="180.50" height="2.00" fill="url(#s2_38)"/>
<rect x="259.50" y="131.20" width="180.50" height="2.00" fill="url(#s2_39)"/>
<rect x="259.50" y="132.20" width="180.50" height="2.00" fill="url(#s2_40)"/>
<rect x="259.50" y="133.20" width="180.50" height="2.00" fill="url(#s2_41)"/>
<rect x="259.50" y="134.20" width="180.50" height="2.00" fill="url(#s2_42)"/>
<rect x="259.50" y="135.20" width="180.50" height="2.00" fill="url(#s2_43)"/>
<rect x="259.50" y="136.20" width="180.50" height="2.00" fill="url(#s2_44)"/>
<rect x="259.50" y="137.20" width="180.50" height="2.00" fill="url(#s2_45)"/>
<rect x="259.50" y="138.20" width="180.50" height="2.00" fill="url(#s2_46)"/>
<rect x="259.50" y="139.20" width="180.50" height="2.00" fill="url(#s2_47)"/>
<rect x="259.50" y="140.20" width="180.50" height="2.00" fill="url(#s2_48)"/>
<rect x="259.50" y="141.20" width="180.50" height="2.00" fill="url(#s2_49)"/>
<rect x="259.50" y="142.20" width="180.50" height="0.20" fill="url(#s2_50)"/></g>
<g stroke="#000" stroke-width="1.0" fill="none">
<line x1="258.6" y1="8.40" x2="258.6" y2="60.00"/>
<line x1="258.1" y1="59.55" x2="440.3" y2="59.55"/>
<line x1="255.3" y1="59.30" x2="258.6" y2="59.30"/>
<line x1="255.3" y1="49.12" x2="258.6" y2="49.12"/>
<line x1="255.3" y1="38.94" x2="258.6" y2="38.94"/>
<line x1="255.3" y1="28.76" x2="258.6" y2="28.76"/>
<line x1="255.3" y1="18.58" x2="258.6" y2="18.58"/>
<line x1="255.3" y1="8.40" x2="258.6" y2="8.40"/>
<line x1="258.90" y1="59.55" x2="258.90" y2="62.70"/>
<line x1="319.30" y1="59.55" x2="319.30" y2="62.70"/>
<line x1="379.80" y1="59.55" x2="379.80" y2="62.70"/>
<line x1="440.20" y1="59.55" x2="440.20" y2="62.70"/>
</g>
<text x="251.60" y="62.40" font-size="9.20" textLength="4.50" lengthAdjust="spacingAndGlyphs" text-anchor="end" stroke="#000" stroke-width="0.15" >0</text>
<text x="251.60" y="52.22" font-size="9.20" textLength="4.50" lengthAdjust="spacingAndGlyphs" text-anchor="end" stroke="#000" stroke-width="0.15" >2</text>
<text x="251.60" y="42.04" font-size="9.20" textLength="4.50" lengthAdjust="spacingAndGlyphs" text-anchor="end" stroke="#000" stroke-width="0.15" >4</text>
<text x="251.60" y="31.86" font-size="9.20" textLength="4.50" lengthAdjust="spacingAndGlyphs" text-anchor="end" stroke="#000" stroke-width="0.15" >6</text>
<text x="251.60" y="21.68" font-size="9.20" textLength="4.50" lengthAdjust="spacingAndGlyphs" text-anchor="end" stroke="#000" stroke-width="0.15" >8</text>
<text x="251.60" y="11.50" font-size="9.20" textLength="9.00" lengthAdjust="spacingAndGlyphs" text-anchor="end" stroke="#000" stroke-width="0.15" >10</text>
<g stroke="#000" stroke-width="1.0" fill="none">
<line x1="258.6" y1="91.60" x2="258.6" y2="143.10"/>
<line x1="258.1" y1="142.65" x2="440.3" y2="142.65"/>
<line x1="255.3" y1="142.40" x2="258.6" y2="142.40"/>
<line x1="255.3" y1="132.24" x2="258.6" y2="132.24"/>
<line x1="255.3" y1="122.08" x2="258.6" y2="122.08"/>
<line x1="255.3" y1="111.92" x2="258.6" y2="111.92"/>
<line x1="255.3" y1="101.76" x2="258.6" y2="101.76"/>
<line x1="255.3" y1="91.60" x2="258.6" y2="91.60"/>
<line x1="258.90" y1="142.65" x2="258.90" y2="145.80"/>
<line x1="319.30" y1="142.65" x2="319.30" y2="145.80"/>
<line x1="379.80" y1="142.65" x2="379.80" y2="145.80"/>
<line x1="440.20" y1="142.65" x2="440.20" y2="145.80"/>
</g>
<text x="251.60" y="145.50" font-size="9.20" textLength="4.50" lengthAdjust="spacingAndGlyphs" text-anchor="end" stroke="#000" stroke-width="0.15" >0</text>
<text x="251.60" y="135.34" font-size="9.20" textLength="4.50" lengthAdjust="spacingAndGlyphs" text-anchor="end" stroke="#000" stroke-width="0.15" >2</text>
<text x="251.60" y="125.18" font-size="9.20" textLength="4.50" lengthAdjust="spacingAndGlyphs" text-anchor="end" stroke="#000" stroke-width="0.15" >4</text>
<text x="251.60" y="115.02" font-size="9.20" textLength="4.50" lengthAdjust="spacingAndGlyphs" text-anchor="end" stroke="#000" stroke-width="0.15" >6</text>
<text x="251.60" y="104.86" font-size="9.20" textLength="4.50" lengthAdjust="spacingAndGlyphs" text-anchor="end" stroke="#000" stroke-width="0.15" >8</text>
<text x="251.60" y="94.70" font-size="9.20" textLength="9.00" lengthAdjust="spacingAndGlyphs" text-anchor="end" stroke="#000" stroke-width="0.15" >10</text>
<text x="236.70" y="117.30" font-size="9.00" textLength="70.90" lengthAdjust="spacingAndGlyphs" transform="rotate(-90 236.70 117.30)" stroke="#000" stroke-width="0.15" >Frequency (kHz)</text>
<text x="283.20" y="80.00" font-size="9.50" textLength="117.30" lengthAdjust="spacingAndGlyphs" stroke="#000" stroke-width="0.15" >Yellow = higher amplitude</text>
<text x="258.90" y="155.80" font-size="9.20" textLength="12.00" lengthAdjust="spacingAndGlyphs" text-anchor="middle" stroke="#000" stroke-width="0.15" >0.1</text>
<text x="319.30" y="155.80" font-size="9.20" textLength="12.00" lengthAdjust="spacingAndGlyphs" text-anchor="middle" stroke="#000" stroke-width="0.15" >0.2</text>
<text x="379.80" y="155.80" font-size="9.20" textLength="12.00" lengthAdjust="spacingAndGlyphs" text-anchor="middle" stroke="#000" stroke-width="0.15" >0.3</text>
<text x="440.20" y="155.80" font-size="9.20" textLength="12.00" lengthAdjust="spacingAndGlyphs" text-anchor="middle" stroke="#000" stroke-width="0.15" >0.4</text>
<text x="324.80" y="164.60" font-size="9.00" textLength="34.10" lengthAdjust="spacingAndGlyphs" stroke="#000" stroke-width="0.15" >Time (s)</text>
<text x="0.60" y="168.60" font-size="10.50" font-weight="bold" >b</text>
<text x="7.00" y="234.90" font-size="9.00" textLength="60.00" lengthAdjust="spacingAndGlyphs" transform="rotate(-90 7.00 234.90)" stroke="#000" stroke-width="0.15" >Potential (µV)</text>
<text x="198.80" y="249.40" font-size="9.00" textLength="59.60" lengthAdjust="spacingAndGlyphs" stroke="#000" stroke-width="0.15" >Latency (ms)</text>
<line x1="41.70" y1="199.90" x2="223.00" y2="199.90" stroke="#d6d6d6" stroke-width="0.7" stroke-dasharray="0.8 1.2"/>
<line x1="66.00" y1="173.90" x2="66.00" y2="224.80" stroke="#d6d6d6" stroke-width="0.7" stroke-dasharray="0.8 1.2"/>
<g stroke="#000" stroke-width="1.0" fill="none">
<line x1="41.70" y1="173.90" x2="41.70" y2="224.9"/>
<line x1="41.20" y1="225.3" x2="223.00" y2="225.3"/>
<line x1="38.50" y1="176.30" x2="41.70" y2="176.30"/>
<line x1="38.50" y1="188.10" x2="41.70" y2="188.10"/>
<line x1="38.50" y1="199.90" x2="41.70" y2="199.90"/>
<line x1="38.50" y1="211.70" x2="41.70" y2="211.70"/>
<line x1="38.50" y1="223.50" x2="41.70" y2="223.50"/>
<line x1="66.00" y1="225.3" x2="66.00" y2="228.6"/>
<line x1="114.30" y1="225.3" x2="114.30" y2="228.6"/>
<line x1="162.60" y1="225.3" x2="162.60" y2="228.6"/>
<line x1="210.90" y1="225.3" x2="210.90" y2="228.6"/>
</g>
<text x="34.10" y="179.40" font-size="9.20" textLength="16.70" lengthAdjust="spacingAndGlyphs" text-anchor="end" stroke="#000" stroke-width="0.15" >0.12</text>
<text x="34.10" y="191.20" font-size="9.20" textLength="16.70" lengthAdjust="spacingAndGlyphs" text-anchor="end" stroke="#000" stroke-width="0.15" >0.06</text>
<text x="34.10" y="203.00" font-size="9.20" textLength="16.70" lengthAdjust="spacingAndGlyphs" text-anchor="end" stroke="#000" stroke-width="0.15" >0.00</text>
<text x="34.10" y="214.80" font-size="9.20" textLength="23.20" lengthAdjust="spacingAndGlyphs" text-anchor="end" stroke="#000" stroke-width="0.15" >−0.06</text>
<text x="34.10" y="226.60" font-size="9.20" textLength="23.20" lengthAdjust="spacingAndGlyphs" text-anchor="end" stroke="#000" stroke-width="0.15" >−0.12</text>
<text x="66.00" y="238.70" font-size="9.20" textLength="4.80" lengthAdjust="spacingAndGlyphs" text-anchor="middle" stroke="#000" stroke-width="0.15" >0</text>
<text x="114.30" y="238.70" font-size="9.20" textLength="4.80" lengthAdjust="spacingAndGlyphs" text-anchor="middle" stroke="#000" stroke-width="0.15" >4</text>
<text x="162.60" y="238.70" font-size="9.20" textLength="4.80" lengthAdjust="spacingAndGlyphs" text-anchor="middle" stroke="#000" stroke-width="0.15" >8</text>
<text x="210.90" y="238.70" font-size="9.20" textLength="9.60" lengthAdjust="spacingAndGlyphs" text-anchor="middle" stroke="#000" stroke-width="0.15" >12</text>
<text x="72.10" y="181.80" font-size="9.50" textLength="62.20" lengthAdjust="spacingAndGlyphs" stroke="#000" stroke-width="0.15" >Previous work</text>
<line x1="258.80" y1="199.50" x2="440.00" y2="199.50" stroke="#d6d6d6" stroke-width="0.7" stroke-dasharray="0.8 1.2"/>
<line x1="283.00" y1="174.00" x2="283.00" y2="224.80" stroke="#d6d6d6" stroke-width="0.7" stroke-dasharray="0.8 1.2"/>
<g stroke="#000" stroke-width="1.0" fill="none">
<line x1="258.80" y1="174.00" x2="258.80" y2="224.9"/>
<line x1="258.30" y1="225.3" x2="440.00" y2="225.3"/>
<line x1="255.60" y1="179.30" x2="258.80" y2="179.30"/>
<line x1="255.60" y1="199.50" x2="258.80" y2="199.50"/>
<line x1="255.60" y1="219.70" x2="258.80" y2="219.70"/>
<line x1="283.00" y1="225.3" x2="283.00" y2="228.6"/>
<line x1="331.30" y1="225.3" x2="331.30" y2="228.6"/>
<line x1="379.60" y1="225.3" x2="379.60" y2="228.6"/>
<line x1="427.90" y1="225.3" x2="427.90" y2="228.6"/>
</g>
<text x="251.20" y="182.40" font-size="9.20" textLength="16.70" lengthAdjust="spacingAndGlyphs" text-anchor="end" stroke="#000" stroke-width="0.15" >0.06</text>
<text x="251.20" y="202.60" font-size="9.20" textLength="16.70" lengthAdjust="spacingAndGlyphs" text-anchor="end" stroke="#000" stroke-width="0.15" >0.00</text>
<text x="251.20" y="222.80" font-size="9.20" textLength="23.20" lengthAdjust="spacingAndGlyphs" text-anchor="end" stroke="#000" stroke-width="0.15" >−0.06</text>
<text x="283.00" y="238.70" font-size="9.20" textLength="4.80" lengthAdjust="spacingAndGlyphs" text-anchor="middle" stroke="#000" stroke-width="0.15" >0</text>
<text x="331.30" y="238.70" font-size="9.20" textLength="4.80" lengthAdjust="spacingAndGlyphs" text-anchor="middle" stroke="#000" stroke-width="0.15" >4</text>
<text x="379.60" y="238.70" font-size="9.20" textLength="4.80" lengthAdjust="spacingAndGlyphs" text-anchor="middle" stroke="#000" stroke-width="0.15" >8</text>
<text x="427.90" y="238.70" font-size="9.20" textLength="9.60" lengthAdjust="spacingAndGlyphs" text-anchor="middle" stroke="#000" stroke-width="0.15" >12</text>
<text x="288.80" y="181.80" font-size="9.50" textLength="58.90" lengthAdjust="spacingAndGlyphs" stroke="#000" stroke-width="0.15" >Current work</text>
<path d="M42.00,199.34 L42.50,199.35 L43.00,199.36 L43.50,199.37 L44.00,199.39 L44.50,199.40 L45.00,199.41 L45.50,199.42 L46.00,199.43 L46.50,199.44 L47.00,199.45 L47.50,199.46 L48.00,199.47 L48.50,199.48 L49.00,199.49 L49.50,199.50 L50.00,199.50 L50.50,199.51 L51.00,199.52 L51.50,199.52 L52.00,199.52 L52.50,199.53 L53.00,199.53 L53.50,199.53 L54.00,199.53 L54.50,199.53 L55.00,199.53 L55.50,199.52 L56.00,199.52 L56.50,199.51 L57.00,199.50 L57.50,199.49 L58.00,199.48 L58.50,199.47 L59.00,199.45 L59.50,199.44 L60.00,199.42 L60.50,199.40 L61.00,199.38 L61.50,199.36 L62.00,199.34 L62.50,199.32 L63.00,199.30 L63.50,199.28 L64.00,199.27 L64.50,199.26 L65.00,199.25 L65.50,199.25 L66.00,199.25 L66.50,199.26 L67.00,199.28 L67.50,199.30 L68.00,199.32 L68.50,199.35 L69.00,199.38 L69.50,199.42 L70.00,199.45 L70.50,199.49 L71.00,199.52 L71.50,199.55 L72.00,199.59 L72.50,199.62 L73.00,199.65 L73.50,199.68 L74.00,199.70 L74.50,199.72 L75.00,199.74 L75.50,199.76 L76.00,199.77 L76.50,199.78 L77.00,199.79 L77.50,199.80 L78.00,199.80 L78.50,199.80 L79.00,199.79 L79.50,199.78 L80.00,199.77 L80.50,199.76 L81.00,199.74 L81.50,199.71 L82.00,199.69 L82.50,199.66 L83.00,199.62 L83.50,199.58 L84.00,199.54 L84.50,199.49 L85.00,199.45 L85.50,199.39 L86.00,199.34 L86.50,199.27 L87.00,199.21 L87.50,199.14 L88.00,199.07 L88.50,198.99 L89.00,198.88 L89.50,198.77 L90.00,198.65 L90.50,198.53 L91.00,198.40 L91.50,198.27 L92.00,198.13 L92.50,197.99 L93.00,197.85 L93.50,197.71 L94.00,197.56 L94.50,197.42 L95.00,197.27 L95.50,197.12 L96.00,196.97 L96.50,196.83 L97.00,196.68 L97.50,196.54 L98.00,196.39 L98.50,196.26 L99.00,196.13 L99.50,196.01 L100.00,195.89 L100.50,195.79 L101.00,195.70 L101.50,195.63 L102.00,195.57 L102.50,195.53 L103.00,195.50 L103.50,195.50 L104.00,195.52 L104.50,195.56 L105.00,195.63 L105.50,195.71 L106.00,195.82 L106.50,195.95 L107.00,196.09 L107.50,196.25 L108.00,196.43 L108.50,196.62 L109.00,196.82 L109.50,197.03 L110.00,197.26 L110.50,197.49 L111.00,197.74 L111.50,197.99 L112.00,198.24 L112.50,198.50 L113.00,198.76 L113.50,199.02 L114.00,199.21 L114.50,199.40 L115.00,199.59 L115.50,199.77 L116.00,199.95 L116.50,200.11 L117.00,200.26 L117.50,200.38 L118.00,200.47 L118.50,200.53 L119.00,200.55 L119.50,200.53 L120.00,200.47 L120.50,200.35 L121.00,200.19 L121.50,199.99 L122.00,199.76 L122.50,199.49 L123.00,199.20 L123.50,198.83 L124.00,198.37 L124.50,197.88 L125.00,197.38 L125.50,196.87 L126.00,196.35 L126.50,195.84 L127.00,195.33 L127.50,194.83 L128.00,194.35 L128.50,193.87 L129.00,193.40 L129.50,192.95 L130.00,192.51 L130.50,192.09 L131.00,191.68 L131.50,191.29 L132.00,190.91 L132.50,190.55 L133.00,190.21 L133.50,189.89 L134.00,189.60 L134.50,189.33 L135.00,189.08 L135.50,188.87 L136.00,188.68 L136.50,188.53 L137.00,188.41 L137.50,188.31 L138.00,188.22 L138.50,188.13 L139.00,188.03 L139.50,187.90 L140.00,187.75 L140.50,187.57 L141.00,187.35 L141.50,187.11 L142.00,186.82 L142.50,186.50 L143.00,186.13 L143.50,185.72 L144.00,185.27 L144.50,184.78 L145.00,184.26 L145.50,183.71 L146.00,183.14 L146.50,182.55 L147.00,181.95 L147.50,181.34 L148.00,180.72 L148.50,180.11 L149.00,179.51 L149.50,178.92 L150.00,178.35 L150.50,177.83 L151.00,177.36 L151.50,176.95 L152.00,176.63 L152.50,176.39 L153.00,176.26 L153.50,176.25 L154.00,176.35 L154.50,176.57 L155.00,176.90 L155.50,177.34 L156.00,177.89 L156.50,178.54 L157.00,179.29 L157.50,180.14 L158.00,181.08 L158.50,182.11 L159.00,183.21 L159.50,184.40 L160.00,185.66 L160.50,186.99 L161.00,188.38 L161.50,189.85 L162.00,191.37 L162.50,192.95 L163.00,194.60 L163.50,196.30 L164.00,198.05 L164.50,199.62 L165.00,200.96 L165.50,202.31 L166.00,203.65 L166.50,204.97 L167.00,206.26 L167.50,207.50 L168.00,208.67 L168.50,209.76 L169.00,210.75 L169.50,211.66 L170.00,212.48 L170.50,213.21 L171.00,213.87 L171.50,214.45 L172.00,214.95 L172.50,215.39 L173.00,215.75 L173.50,216.05 L174.00,216.29 L174.50,216.47 L175.00,216.58 L175.50,216.64 L176.00,216.64 L176.50,216.58 L177.00,216.48 L177.50,216.32 L178.00,216.11 L178.50,215.86 L179.00,215.57 L179.50,215.24 L180.00,214.88 L180.50,214.48 L181.00,214.06 L181.50,213.61 L182.00,213.13 L182.50,212.64 L183.00,212.13 L183.50,211.60 L184.00,211.07 L184.50,210.52 L185.00,209.97 L185.50,209.41 L186.00,208.86 L186.50,208.31 L187.00,207.76 L187.50,207.22 L188.00,206.69 L188.50,206.17 L189.00,205.67 L189.50,205.17 L190.00,204.68 L190.50,204.21 L191.00,203.74 L191.50,203.29 L192.00,202.86 L192.50,202.43 L193.00,202.02 L193.50,201.63 L194.00,201.25 L194.50,200.89 L195.00,200.55 L195.50,200.22 L196.00,199.92 L196.50,199.63 L197.00,199.37 L197.50,199.14 L198.00,198.90 L198.50,198.65 L199.00,198.43 L199.50,198.25 L200.00,198.11 L200.50,198.02 L201.00,197.97 L201.50,197.95 L202.00,197.96 L202.50,198.00 L203.00,198.06 L203.50,198.14 L204.00,198.23 L204.50,198.32 L205.00,198.42 L205.50,198.52 L206.00,198.61 L206.50,198.71 L207.00,198.80 L207.50,198.90 L208.00,199.00 L208.50,199.08 L209.00,199.17 L209.50,199.26 L210.00,199.35 L210.50,199.45 L211.00,199.56 L211.50,199.66 L212.00,199.77 L212.50,199.87 L213.00,199.97 L213.50,200.07 L214.00,200.17 L214.50,200.26 L215.00,200.34 L215.50,200.42 L216.00,200.49 L216.50,200.56 L217.00,200.61 L217.50,200.67 L218.00,200.72 L218.50,200.76 L219.00,200.80 L219.50,200.83 L220.00,200.86 L220.50,200.89 L221.00,200.92 L221.50,200.95 L222.00,200.97 L222.50,200.99 L223.00,201.02 L223.00,203.46 L222.50,203.42 L222.00,203.39 L221.50,203.36 L221.00,203.33 L220.50,203.29 L220.00,203.25 L219.50,203.21 L219.00,203.16 L218.50,203.10 L218.00,203.05 L217.50,202.98 L217.00,202.91 L216.50,202.83 L216.00,202.74 L215.50,202.65 L215.00,202.54 L214.50,202.43 L214.00,202.30 L213.50,202.17 L213.00,202.03 L212.50,201.89 L212.00,201.75 L211.50,201.61 L211.00,201.47 L210.50,201.33 L210.00,201.19 L209.50,201.06 L209.00,200.94 L208.50,200.82 L208.00,200.72 L207.50,200.64 L207.00,200.56 L206.50,200.49 L206.00,200.42 L205.50,200.35 L205.00,200.28 L204.50,200.21 L204.00,200.14 L203.50,200.07 L203.00,200.02 L202.50,199.97 L202.00,199.94 L201.50,199.93 L201.00,199.95 L200.50,199.99 L200.00,200.06 L199.50,200.16 L199.00,200.29 L198.50,200.45 L198.00,200.64 L197.50,200.90 L197.00,201.22 L196.50,201.57 L196.00,201.96 L195.50,202.37 L195.00,202.81 L194.50,203.28 L194.00,203.78 L193.50,204.29 L193.00,204.83 L192.50,205.39 L192.00,205.96 L191.50,206.56 L191.00,207.17 L190.50,207.80 L190.00,208.45 L189.50,209.11 L189.00,209.79 L188.50,210.48 L188.00,211.19 L187.50,211.91 L187.00,212.64 L186.50,213.39 L186.00,214.14 L185.50,214.89 L185.00,215.65 L184.50,216.40 L184.00,217.14 L183.50,217.87 L183.00,218.59 L182.50,219.29 L182.00,219.96 L181.50,220.60 L181.00,221.22 L180.50,221.79 L180.00,222.33 L179.50,222.83 L179.00,223.27 L178.50,223.67 L178.00,224.01 L177.50,224.29 L177.00,224.51 L176.50,224.66 L176.00,224.73 L175.50,224.73 L175.00,224.66 L174.50,224.50 L174.00,224.26 L173.50,223.93 L173.00,223.52 L172.50,223.03 L172.00,222.44 L171.50,221.75 L171.00,220.96 L170.50,220.06 L170.00,219.06 L169.50,217.95 L169.00,216.71 L168.50,215.36 L168.00,213.88 L167.50,212.29 L167.00,210.60 L166.50,208.85 L166.00,207.04 L165.50,205.21 L165.00,203.38 L164.50,201.56 L164.00,200.01 L163.50,198.72 L163.00,197.46 L162.50,196.25 L162.00,195.08 L161.50,193.95 L161.00,192.88 L160.50,191.85 L160.00,190.87 L159.50,189.94 L159.00,189.06 L158.50,188.24 L158.00,187.49 L157.50,186.79 L157.00,186.17 L156.50,185.61 L156.00,185.13 L155.50,184.73 L155.00,184.40 L154.50,184.16 L154.00,184.00 L153.50,183.92 L153.00,183.93 L152.50,184.03 L152.00,184.20 L151.50,184.44 L151.00,184.74 L150.50,185.09 L150.00,185.47 L149.50,185.89 L149.00,186.33 L148.50,186.77 L148.00,187.22 L147.50,187.68 L147.00,188.13 L146.50,188.57 L146.00,189.01 L145.50,189.43 L145.00,189.83 L144.50,190.22 L144.00,190.58 L143.50,190.91 L143.00,191.21 L142.50,191.48 L142.00,191.72 L141.50,191.93 L141.00,192.12 L140.50,192.27 L140.00,192.41 L139.50,192.52 L139.00,192.61 L138.50,192.69 L138.00,192.75 L137.50,192.82 L137.00,192.90 L136.50,192.99 L136.00,193.10 L135.50,193.23 L135.00,193.39 L134.50,193.57 L134.00,193.77 L133.50,193.99 L133.00,194.22 L132.50,194.48 L132.00,194.74 L131.50,195.02 L131.00,195.31 L130.50,195.61 L130.00,195.92 L129.50,196.25 L129.00,196.58 L128.50,196.92 L128.00,197.28 L127.50,197.64 L127.00,198.00 L126.50,198.38 L126.00,198.76 L125.50,199.14 L125.00,199.52 L124.50,199.89 L124.00,200.24 L123.50,200.59 L123.00,200.98 L122.50,201.38 L122.00,201.74 L121.50,202.06 L121.00,202.33 L120.50,202.55 L120.00,202.71 L119.50,202.80 L119.00,202.83 L118.50,202.80 L118.00,202.71 L117.50,202.59 L117.00,202.42 L116.50,202.22 L116.00,202.00 L115.50,201.76 L115.00,201.51 L114.50,201.26 L114.00,201.00 L113.50,200.74 L113.00,200.54 L112.50,200.34 L112.00,200.15 L111.50,199.96 L111.00,199.78 L110.50,199.60 L110.00,199.43 L109.50,199.26 L109.00,199.10 L108.50,198.95 L108.00,198.81 L107.50,198.68 L107.00,198.56 L106.50,198.46 L106.00,198.36 L105.50,198.29 L105.00,198.22 L104.50,198.17 L104.00,198.14 L103.50,198.13 L103.00,198.13 L102.50,198.15 L102.00,198.18 L101.50,198.22 L101.00,198.28 L100.50,198.34 L100.00,198.42 L99.50,198.50 L99.00,198.59 L98.50,198.69 L98.00,198.79 L97.50,198.89 L97.00,199.00 L96.50,199.11 L96.00,199.21 L95.50,199.32 L95.00,199.43 L94.50,199.54 L94.00,199.65 L93.50,199.76 L93.00,199.86 L92.50,199.97 L92.00,200.07 L91.50,200.17 L91.00,200.27 L90.50,200.36 L90.00,200.45 L89.50,200.54 L89.00,200.62 L88.50,200.71 L88.00,200.81 L87.50,200.90 L87.00,201.00 L86.50,201.08 L86.00,201.17 L85.50,201.24 L85.00,201.32 L84.50,201.38 L84.00,201.45 L83.50,201.50 L83.00,201.56 L82.50,201.60 L82.00,201.64 L81.50,201.68 L81.00,201.71 L80.50,201.74 L80.00,201.76 L79.50,201.78 L79.00,201.79 L78.50,201.80 L78.00,201.80 L77.50,201.79 L77.00,201.79 L76.50,201.78 L76.00,201.76 L75.50,201.74 L75.00,201.72 L74.50,201.69 L74.00,201.66 L73.50,201.63 L73.00,201.59 L72.50,201.55 L72.00,201.51 L71.50,201.47 L71.00,201.42 L70.50,201.37 L70.00,201.32 L69.50,201.28 L69.00,201.23 L68.50,201.19 L68.00,201.15 L67.50,201.12 L67.00,201.09 L66.50,201.07 L66.00,201.05 L65.50,201.05 L65.00,201.05 L64.50,201.06 L64.00,201.07 L63.50,201.09 L63.00,201.11 L62.50,201.14 L62.00,201.17 L61.50,201.20 L61.00,201.23 L60.50,201.26 L60.00,201.28 L59.50,201.31 L59.00,201.33 L58.50,201.35 L58.00,201.37 L57.50,201.38 L57.00,201.39 L56.50,201.41 L56.00,201.41 L55.50,201.42 L55.00,201.43 L54.50,201.43 L54.00,201.43 L53.50,201.43 L53.00,201.43 L52.50,201.43 L52.00,201.42 L51.50,201.42 L51.00,201.41 L50.50,201.41 L50.00,201.40 L49.50,201.39 L49.00,201.38 L48.50,201.36 L48.00,201.35 L47.50,201.34 L47.00,201.33 L46.50,201.31 L46.00,201.30 L45.50,201.28 L45.00,201.27 L44.50,201.25 L44.00,201.23 L43.50,201.22 L43.00,201.20 L42.50,201.18 L42.00,201.17Z" fill="#1e7285" fill-opacity="0.22" stroke="none"/>
<path d="M42.00,198.54 L42.50,198.56 L43.00,198.58 L43.50,198.59 L44.00,198.61 L44.50,198.62 L45.00,198.64 L45.50,198.65 L46.00,198.66 L46.50,198.67 L47.00,198.67 L47.50,198.68 L48.00,198.68 L48.50,198.68 L49.00,198.67 L49.50,198.67 L50.00,198.66 L50.50,198.64 L51.00,198.62 L51.50,198.60 L52.00,198.58 L52.50,198.55 L53.00,198.51 L53.50,198.47 L54.00,198.42 L54.50,198.37 L55.00,198.32 L55.50,198.25 L56.00,198.19 L56.50,198.12 L57.00,198.04 L57.50,197.97 L58.00,197.89 L58.50,197.81 L59.00,197.74 L59.50,197.67 L60.00,197.60 L60.50,197.53 L61.00,197.47 L61.50,197.42 L62.00,197.38 L62.50,197.34 L63.00,197.31 L63.50,197.29 L64.00,197.29 L64.50,197.30 L65.00,197.31 L65.50,197.34 L66.00,197.38 L66.50,197.43 L67.00,197.49 L67.50,197.55 L68.00,197.62 L68.50,197.70 L69.00,197.79 L69.50,197.88 L70.00,197.97 L70.50,198.07 L71.00,198.18 L71.50,198.28 L72.00,198.39 L72.50,198.50 L73.00,198.61 L73.50,198.73 L74.00,198.84 L74.50,198.95 L75.00,199.04 L75.50,199.12 L76.00,199.20 L76.50,199.27 L77.00,199.34 L77.50,199.41 L78.00,199.47 L78.50,199.52 L79.00,199.57 L79.50,199.62 L80.00,199.66 L80.50,199.69 L81.00,199.71 L81.50,199.73 L82.00,199.74 L82.50,199.74 L83.00,199.74 L83.50,199.73 L84.00,199.72 L84.50,199.71 L85.00,199.69 L85.50,199.67 L86.00,199.64 L86.50,199.62 L87.00,199.59 L87.50,199.56 L88.00,199.53 L88.50,199.51 L89.00,199.48 L89.50,199.45 L90.00,199.43 L90.50,199.41 L91.00,199.39 L91.50,199.37 L92.00,199.36 L92.50,199.35 L93.00,199.33 L93.50,199.32 L94.00,199.32 L94.50,199.31 L95.00,199.30 L95.50,199.30 L96.00,199.29 L96.50,199.29 L97.00,199.28 L97.50,199.28 L98.00,199.28 L98.50,199.27 L99.00,199.27 L99.50,199.26 L100.00,199.26 L100.50,199.25 L101.00,199.25 L101.50,199.24 L102.00,199.23 L102.50,199.23 L103.00,199.22 L103.50,199.22 L104.00,199.22 L104.50,199.22 L105.00,199.23 L105.50,199.24 L106.00,199.25 L106.50,199.26 L107.00,199.28 L107.50,199.31 L108.00,199.34 L108.50,199.37 L109.00,199.41 L109.50,199.46 L110.00,199.52 L110.50,199.58 L111.00,199.65 L111.50,199.72 L112.00,199.80 L112.50,199.89 L113.00,199.98 L113.50,200.07 L114.00,200.17 L114.50,200.27 L115.00,200.38 L115.50,200.48 L116.00,200.59 L116.50,200.68 L117.00,200.76 L117.50,200.82 L118.00,200.85 L118.50,200.85 L119.00,200.81 L119.50,200.72 L120.00,200.60 L120.50,200.45 L121.00,200.26 L121.50,200.04 L122.00,199.81 L122.50,199.56 L123.00,199.29 L123.50,199.02 L124.00,198.66 L124.50,198.29 L125.00,197.93 L125.50,197.57 L126.00,197.22 L126.50,196.87 L127.00,196.53 L127.50,196.21 L128.00,195.89 L128.50,195.59 L129.00,195.30 L129.50,195.03 L130.00,194.78 L130.50,194.55 L131.00,194.33 L131.50,194.13 L132.00,193.95 L132.50,193.78 L133.00,193.63 L133.50,193.48 L134.00,193.35 L134.50,193.23 L135.00,193.11 L135.50,193.00 L136.00,192.89 L136.50,192.79 L137.00,192.70 L137.50,192.60 L138.00,192.50 L138.50,192.40 L139.00,192.31 L139.50,192.21 L140.00,192.11 L140.50,192.01 L141.00,191.91 L141.50,191.80 L142.00,191.70 L142.50,191.60 L143.00,191.50 L143.50,191.40 L144.00,191.30 L144.50,191.20 L145.00,191.10 L145.50,191.00 L146.00,190.91 L146.50,190.81 L147.00,190.72 L147.50,190.62 L148.00,190.53 L148.50,190.43 L149.00,190.34 L149.50,190.24 L150.00,190.15 L150.50,190.05 L151.00,189.95 L151.50,189.85 L152.00,189.75 L152.50,189.64 L153.00,189.54 L153.50,189.42 L154.00,189.31 L154.50,189.19 L155.00,189.07 L155.50,188.95 L156.00,188.83 L156.50,188.72 L157.00,188.61 L157.50,188.51 L158.00,188.42 L158.50,188.33 L159.00,188.26 L159.50,188.21 L160.00,188.17 L160.50,188.15 L161.00,188.17 L161.50,188.26 L162.00,188.42 L162.50,188.69 L163.00,189.08 L163.50,189.61 L164.00,190.28 L164.50,191.06 L165.00,191.95 L165.50,192.93 L166.00,193.98 L166.50,195.10 L167.00,196.26 L167.50,197.44 L168.00,198.62 L168.50,199.58 L169.00,200.42 L169.50,201.20 L170.00,201.91 L170.50,202.56 L171.00,203.13 L171.50,203.65 L172.00,204.12 L172.50,204.54 L173.00,204.93 L173.50,205.29 L174.00,205.62 L174.50,205.94 L175.00,206.24 L175.50,206.52 L176.00,206.78 L176.50,207.02 L177.00,207.23 L177.50,207.43 L178.00,207.60 L178.50,207.75 L179.00,207.87 L179.50,207.96 L180.00,208.03 L180.50,208.08 L181.00,208.09 L181.50,208.07 L182.00,208.03 L182.50,207.96 L183.00,207.85 L183.50,207.72 L184.00,207.55 L184.50,207.36 L185.00,207.14 L185.50,206.89 L186.00,206.61 L186.50,206.30 L187.00,205.97 L187.50,205.60 L188.00,205.21 L188.50,204.81 L189.00,204.38 L189.50,203.95 L190.00,203.51 L190.50,203.07 L191.00,202.63 L191.50,202.19 L192.00,201.77 L192.50,201.36 L193.00,200.97 L193.50,200.60 L194.00,200.26 L194.50,199.95 L195.00,199.67 L195.50,199.41 L196.00,199.17 L196.50,198.93 L197.00,198.67 L197.50,198.43 L198.00,198.20 L198.50,197.99 L199.00,197.80 L199.50,197.63 L200.00,197.47 L200.50,197.33 L201.00,197.20 L201.50,197.10 L202.00,197.01 L202.50,196.94 L203.00,196.88 L203.50,196.85 L204.00,196.83 L204.50,196.82 L205.00,196.83 L205.50,196.85 L206.00,196.88 L206.50,196.92 L207.00,196.97 L207.50,197.03 L208.00,197.10 L208.50,197.17 L209.00,197.24 L209.50,197.32 L210.00,197.40 L210.50,197.49 L211.00,197.57 L211.50,197.66 L212.00,197.74 L212.50,197.83 L213.00,197.91 L213.50,198.00 L214.00,198.08 L214.50,198.16 L215.00,198.24 L215.50,198.32 L216.00,198.40 L216.50,198.47 L217.00,198.54 L217.50,198.61 L218.00,198.68 L218.50,198.74 L219.00,198.80 L219.50,198.86 L220.00,198.91 L220.50,198.97 L221.00,199.02 L221.50,199.06 L222.00,199.10 L222.50,199.13 L223.00,199.17 L223.00,200.94 L222.50,200.89 L222.00,200.83 L221.50,200.78 L221.00,200.73 L220.50,200.69 L220.00,200.64 L219.50,200.60 L219.00,200.56 L218.50,200.51 L218.00,200.46 L217.50,200.41 L217.00,200.36 L216.50,200.31 L216.00,200.25 L215.50,200.19 L215.00,200.13 L214.50,200.07 L214.00,200.00 L213.50,199.94 L213.00,199.88 L212.50,199.81 L212.00,199.75 L211.50,199.68 L211.00,199.61 L210.50,199.55 L210.00,199.49 L209.50,199.42 L209.00,199.36 L208.50,199.30 L208.00,199.25 L207.50,199.20 L207.00,199.15 L206.50,199.12 L206.00,199.08 L205.50,199.06 L205.00,199.04 L204.50,199.04 L204.00,199.04 L203.50,199.06 L203.00,199.09 L202.50,199.13 L202.00,199.18 L201.50,199.25 L201.00,199.33 L200.50,199.43 L200.00,199.54 L199.50,199.66 L199.00,199.79 L198.50,199.94 L198.00,200.10 L197.50,200.27 L197.00,200.46 L196.50,200.66 L196.00,200.93 L195.50,201.24 L195.00,201.58 L194.50,201.96 L194.00,202.36 L193.50,202.81 L193.00,203.29 L192.50,203.80 L192.00,204.33 L191.50,204.89 L191.00,205.46 L190.50,206.03 L190.00,206.61 L189.50,207.19 L189.00,207.76 L188.50,208.31 L188.00,208.85 L187.50,209.35 L187.00,209.83 L186.50,210.27 L186.00,210.67 L185.50,211.04 L185.00,211.37 L184.50,211.66 L184.00,211.91 L183.50,212.12 L183.00,212.30 L182.50,212.44 L182.00,212.53 L181.50,212.59 L181.00,212.61 L180.50,212.59 L180.00,212.54 L179.50,212.45 L179.00,212.32 L178.50,212.16 L178.00,211.97 L177.50,211.75 L177.00,211.49 L176.50,211.20 L176.00,210.89 L175.50,210.55 L175.00,210.18 L174.50,209.79 L174.00,209.38 L173.50,208.94 L173.00,208.48 L172.50,207.97 L172.00,207.41 L171.50,206.80 L171.00,206.12 L170.50,205.36 L170.00,204.52 L169.50,203.59 L169.00,202.57 L168.50,201.47 L168.00,200.42 L167.50,199.52 L167.00,198.61 L166.50,197.72 L166.00,196.86 L165.50,196.05 L165.00,195.30 L164.50,194.62 L164.00,194.02 L163.50,193.51 L163.00,193.11 L162.50,192.81 L162.00,192.60 L161.50,192.47 L161.00,192.41 L160.50,192.39 L160.00,192.41 L159.50,192.44 L159.00,192.48 L158.50,192.53 L158.00,192.60 L157.50,192.67 L157.00,192.74 L156.50,192.83 L156.00,192.92 L155.50,193.01 L155.00,193.10 L154.50,193.19 L154.00,193.28 L153.50,193.37 L153.00,193.45 L152.50,193.54 L152.00,193.62 L151.50,193.70 L151.00,193.77 L150.50,193.85 L150.00,193.92 L149.50,194.00 L149.00,194.07 L148.50,194.14 L148.00,194.21 L147.50,194.29 L147.00,194.36 L146.50,194.43 L146.00,194.50 L145.50,194.58 L145.00,194.65 L144.50,194.73 L144.00,194.81 L143.50,194.88 L143.00,194.96 L142.50,195.04 L142.00,195.12 L141.50,195.19 L141.00,195.27 L140.50,195.35 L140.00,195.43 L139.50,195.50 L139.00,195.58 L138.50,195.65 L138.00,195.73 L137.50,195.80 L137.00,195.88 L136.50,195.95 L136.00,196.03 L135.50,196.11 L135.00,196.19 L134.50,196.28 L134.00,196.38 L133.50,196.48 L133.00,196.59 L132.50,196.71 L132.00,196.84 L131.50,196.98 L131.00,197.13 L130.50,197.30 L130.00,197.48 L129.50,197.67 L129.00,197.88 L128.50,198.10 L128.00,198.33 L127.50,198.57 L127.00,198.82 L126.50,199.08 L126.00,199.34 L125.50,199.61 L125.00,199.89 L124.50,200.17 L124.00,200.45 L123.50,200.73 L123.00,201.09 L122.50,201.44 L122.00,201.77 L121.50,202.08 L121.00,202.36 L120.50,202.60 L120.00,202.81 L119.50,202.97 L119.00,203.07 L118.50,203.13 L118.00,203.13 L117.50,203.09 L117.00,203.01 L116.50,202.91 L116.00,202.79 L115.50,202.65 L115.00,202.51 L114.50,202.37 L114.00,202.24 L113.50,202.11 L113.00,201.99 L112.50,201.87 L112.00,201.76 L111.50,201.65 L111.00,201.56 L110.50,201.47 L110.00,201.39 L109.50,201.31 L109.00,201.25 L108.50,201.20 L108.00,201.15 L107.50,201.11 L107.00,201.08 L106.50,201.05 L106.00,201.03 L105.50,201.02 L105.00,201.01 L104.50,201.00 L104.00,201.00 L103.50,201.00 L103.00,201.00 L102.50,201.01 L102.00,201.02 L101.50,201.02 L101.00,201.03 L100.50,201.04 L100.00,201.05 L99.50,201.05 L99.00,201.06 L98.50,201.07 L98.00,201.07 L97.50,201.08 L97.00,201.08 L96.50,201.09 L96.00,201.09 L95.50,201.10 L95.00,201.11 L94.50,201.11 L94.00,201.12 L93.50,201.14 L93.00,201.15 L92.50,201.16 L92.00,201.18 L91.50,201.20 L91.00,201.22 L90.50,201.25 L90.00,201.27 L89.50,201.30 L89.00,201.34 L88.50,201.37 L88.00,201.41 L87.50,201.44 L87.00,201.48 L86.50,201.52 L86.00,201.55 L85.50,201.58 L85.00,201.61 L84.50,201.63 L84.00,201.65 L83.50,201.67 L83.00,201.68 L82.50,201.68 L82.00,201.68 L81.50,201.66 L81.00,201.64 L80.50,201.61 L80.00,201.57 L79.50,201.52 L79.00,201.46 L78.50,201.40 L78.00,201.32 L77.50,201.24 L77.00,201.15 L76.50,201.06 L76.00,200.97 L75.50,200.87 L75.00,200.76 L74.50,200.67 L74.00,200.58 L73.50,200.50 L73.00,200.41 L72.50,200.33 L72.00,200.24 L71.50,200.16 L71.00,200.08 L70.50,200.00 L70.00,199.92 L69.50,199.85 L69.00,199.78 L68.50,199.71 L68.00,199.65 L67.50,199.60 L67.00,199.55 L66.50,199.51 L66.00,199.47 L65.50,199.44 L65.00,199.42 L64.50,199.40 L64.00,199.40 L63.50,199.40 L63.00,199.42 L62.50,199.44 L62.00,199.46 L61.50,199.50 L61.00,199.54 L60.50,199.59 L60.00,199.63 L59.50,199.69 L59.00,199.74 L58.50,199.80 L58.00,199.86 L57.50,199.92 L57.00,199.98 L56.50,200.03 L56.00,200.09 L55.50,200.14 L55.00,200.19 L54.50,200.23 L54.00,200.27 L53.50,200.30 L53.00,200.33 L52.50,200.36 L52.00,200.39 L51.50,200.41 L51.00,200.42 L50.50,200.44 L50.00,200.45 L49.50,200.45 L49.00,200.46 L48.50,200.46 L48.00,200.46 L47.50,200.46 L47.00,200.46 L46.50,200.45 L46.00,200.45 L45.50,200.44 L45.00,200.43 L44.50,200.42 L44.00,200.41 L43.50,200.40 L43.00,200.39 L42.50,200.37 L42.00,200.36Z" fill="#5ec962" fill-opacity="0.22" stroke="none"/>
<path d="M259.00,198.07 L259.50,198.08 L260.00,198.09 L260.50,198.10 L261.00,198.10 L261.50,198.11 L262.00,198.11 L262.50,198.11 L263.00,198.11 L263.50,198.11 L264.00,198.10 L264.50,198.09 L265.00,198.07 L265.50,198.05 L266.00,198.03 L266.50,198.00 L267.00,197.97 L267.50,197.95 L268.00,197.92 L268.50,197.90 L269.00,197.88 L269.50,197.87 L270.00,197.86 L270.50,197.86 L271.00,197.85 L271.50,197.84 L272.00,197.81 L272.50,197.75 L273.00,197.65 L273.50,197.52 L274.00,197.33 L274.50,197.09 L275.00,196.88 L275.50,196.75 L276.00,196.80 L276.50,197.06 L277.00,197.46 L277.50,197.89 L278.00,198.24 L278.50,198.40 L279.00,198.27 L279.50,197.88 L280.00,197.36 L280.50,196.85 L281.00,196.48 L281.50,196.38 L282.00,196.64 L282.50,197.17 L283.00,197.89 L283.50,198.69 L284.00,199.43 L284.50,200.16 L285.00,200.86 L285.50,201.51 L286.00,202.10 L286.50,202.62 L287.00,203.05 L287.50,203.40 L288.00,203.64 L288.50,203.77 L289.00,203.79 L289.50,203.71 L290.00,203.56 L290.50,203.34 L291.00,203.10 L291.50,202.83 L292.00,202.57 L292.50,202.31 L293.00,202.07 L293.50,201.86 L294.00,201.66 L294.50,201.50 L295.00,201.38 L295.50,201.30 L296.00,201.26 L296.50,201.26 L297.00,201.30 L297.50,201.36 L298.00,201.45 L298.50,201.55 L299.00,201.68 L299.50,201.81 L300.00,201.95 L300.50,202.08 L301.00,202.22 L301.50,202.36 L302.00,202.49 L302.50,202.62 L303.00,202.74 L303.50,202.85 L304.00,202.95 L304.50,203.03 L305.00,203.10 L305.50,203.16 L306.00,203.19 L306.50,203.21 L307.00,203.20 L307.50,203.17 L308.00,203.12 L308.50,203.05 L309.00,202.96 L309.50,202.86 L310.00,202.74 L310.50,202.60 L311.00,202.46 L311.50,202.30 L312.00,202.13 L312.50,201.96 L313.00,201.78 L313.50,201.59 L314.00,201.40 L314.50,201.21 L315.00,201.02 L315.50,200.84 L316.00,200.65 L316.50,200.47 L317.00,200.29 L317.50,200.12 L318.00,199.96 L318.50,199.81 L319.00,199.66 L319.50,199.53 L320.00,199.41 L320.50,199.30 L321.00,199.21 L321.50,199.13 L322.00,199.07 L322.50,199.03 L323.00,199.01 L323.50,199.01 L324.00,199.04 L324.50,199.10 L325.00,199.19 L325.50,199.31 L326.00,199.47 L326.50,199.66 L327.00,199.88 L327.50,200.12 L328.00,200.39 L328.50,200.67 L329.00,200.96 L329.50,201.26 L330.00,201.56 L330.50,201.86 L331.00,202.15 L331.50,202.42 L332.00,202.67 L332.50,202.88 L333.00,203.05 L333.50,203.17 L334.00,203.24 L334.50,203.25 L335.00,203.21 L335.50,203.13 L336.00,203.00 L336.50,202.85 L337.00,202.66 L337.50,202.45 L338.00,202.23 L338.50,201.99 L339.00,201.75 L339.50,201.51 L340.00,201.27 L340.50,201.04 L341.00,200.81 L341.50,200.57 L342.00,200.35 L342.50,200.12 L343.00,199.90 L343.50,199.67 L344.00,199.45 L344.50,199.23 L345.00,199.00 L345.50,198.75 L346.00,198.47 L346.50,198.15 L347.00,197.79 L347.50,197.41 L348.00,197.01 L348.50,196.61 L349.00,196.20 L349.50,195.80 L350.00,195.42 L350.50,195.07 L351.00,194.74 L351.50,194.45 L352.00,194.21 L352.50,194.02 L353.00,193.87 L353.50,193.74 L354.00,193.63 L354.50,193.53 L355.00,193.43 L355.50,193.31 L356.00,193.16 L356.50,192.98 L357.00,192.76 L357.50,192.51 L358.00,192.22 L358.50,191.89 L359.00,191.52 L359.50,191.12 L360.00,190.68 L360.50,190.20 L361.00,189.69 L361.50,189.15 L362.00,188.58 L362.50,187.98 L363.00,187.36 L363.50,186.73 L364.00,186.07 L364.50,185.41 L365.00,184.73 L365.50,184.05 L366.00,183.36 L366.50,182.67 L367.00,181.97 L367.50,181.27 L368.00,180.56 L368.50,179.85 L369.00,179.13 L369.50,178.42 L370.00,177.69 L370.50,176.96 L371.00,176.24 L371.50,175.55 L372.00,174.92 L372.50,174.35 L373.00,173.87 L373.50,173.52 L374.00,173.29 L374.50,173.22 L375.00,173.31 L375.50,173.56 L376.00,173.96 L376.50,174.51 L377.00,175.21 L377.50,176.06 L378.00,177.04 L378.50,178.15 L379.00,179.36 L379.50,180.66 L380.00,182.04 L380.50,183.48 L381.00,184.97 L381.50,186.49 L382.00,188.03 L382.50,189.59 L383.00,191.17 L383.50,192.76 L384.00,194.37 L384.50,196.00 L385.00,197.63 L385.50,199.20 L386.00,200.67 L386.50,202.14 L387.00,203.60 L387.50,205.02 L388.00,206.39 L388.50,207.69 L389.00,208.90 L389.50,210.01 L390.00,211.01 L390.50,211.89 L391.00,212.66 L391.50,213.32 L392.00,213.86 L392.50,214.30 L393.00,214.63 L393.50,214.87 L394.00,215.03 L394.50,215.12 L395.00,215.16 L395.50,215.16 L396.00,215.14 L396.50,215.09 L397.00,215.03 L397.50,214.95 L398.00,214.85 L398.50,214.73 L399.00,214.58 L399.50,214.41 L400.00,214.22 L400.50,214.00 L401.00,213.76 L401.50,213.49 L402.00,213.20 L402.50,212.89 L403.00,212.55 L403.50,212.18 L404.00,211.79 L404.50,211.37 L405.00,210.93 L405.50,210.48 L406.00,210.01 L406.50,209.54 L407.00,209.05 L407.50,208.57 L408.00,208.08 L408.50,207.60 L409.00,207.13 L409.50,206.67 L410.00,206.23 L410.50,205.80 L411.00,205.39 L411.50,205.00 L412.00,204.63 L412.50,204.27 L413.00,203.93 L413.50,203.61 L414.00,203.30 L414.50,203.01 L415.00,202.74 L415.50,202.49 L416.00,202.27 L416.50,202.08 L417.00,201.93 L417.50,201.81 L418.00,201.73 L418.50,201.70 L419.00,201.72 L419.50,201.78 L420.00,201.88 L420.50,202.02 L421.00,202.18 L421.50,202.37 L422.00,202.58 L422.50,202.79 L423.00,203.02 L423.50,203.24 L424.00,203.46 L424.50,203.67 L425.00,203.87 L425.50,204.05 L426.00,204.21 L426.50,204.34 L427.00,204.45 L427.50,204.51 L428.00,204.54 L428.50,204.54 L429.00,204.50 L429.50,204.43 L430.00,204.33 L430.50,204.22 L431.00,204.09 L431.50,203.95 L432.00,203.80 L432.50,203.64 L433.00,203.49 L433.50,203.34 L434.00,203.19 L434.50,203.04 L435.00,202.90 L435.50,202.76 L436.00,202.62 L436.50,202.49 L437.00,202.35 L437.50,202.22 L438.00,202.09 L438.50,201.96 L439.00,201.83 L439.50,201.70 L439.50,203.79 L439.00,203.93 L438.50,204.08 L438.00,204.22 L437.50,204.37 L437.00,204.52 L436.50,204.67 L436.00,204.82 L435.50,204.97 L435.00,205.13 L434.50,205.29 L434.00,205.45 L433.50,205.62 L433.00,205.79 L432.50,205.96 L432.00,206.14 L431.50,206.31 L431.00,206.47 L430.50,206.61 L430.00,206.74 L429.50,206.84 L429.00,206.92 L428.50,206.97 L428.00,206.97 L427.50,206.94 L427.00,206.86 L426.50,206.75 L426.00,206.60 L425.50,206.42 L425.00,206.22 L424.50,206.00 L424.00,205.76 L423.50,205.51 L423.00,205.26 L422.50,205.01 L422.00,204.77 L421.50,204.54 L421.00,204.33 L420.50,204.14 L420.00,203.99 L419.50,203.87 L419.00,203.81 L418.50,203.79 L418.00,203.82 L417.50,203.91 L417.00,204.04 L416.50,204.22 L416.00,204.43 L415.50,204.68 L415.00,204.95 L414.50,205.25 L414.00,205.58 L413.50,205.92 L413.00,206.29 L412.50,206.67 L412.00,207.07 L411.50,207.49 L411.00,207.93 L410.50,208.38 L410.00,208.86 L409.50,209.36 L409.00,209.87 L408.50,210.40 L408.00,210.94 L407.50,211.49 L407.00,212.03 L406.50,212.57 L406.00,213.11 L405.50,213.63 L405.00,214.14 L404.50,214.63 L404.00,215.10 L403.50,215.54 L403.00,215.95 L402.50,216.33 L402.00,216.68 L401.50,217.01 L401.00,217.31 L400.50,217.58 L400.00,217.82 L399.50,218.04 L399.00,218.23 L398.50,218.39 L398.00,218.53 L397.50,218.64 L397.00,218.73 L396.50,218.80 L396.00,218.85 L395.50,218.88 L395.00,218.88 L394.50,218.84 L394.00,218.73 L393.50,218.55 L393.00,218.28 L392.50,217.91 L392.00,217.42 L391.50,216.81 L391.00,216.08 L390.50,215.21 L390.00,214.22 L389.50,213.10 L389.00,211.86 L388.50,210.50 L388.00,209.05 L387.50,207.51 L387.00,205.91 L386.50,204.28 L386.00,202.63 L385.50,200.98 L385.00,199.45 L384.50,197.99 L384.00,196.54 L383.50,195.10 L383.00,193.68 L382.50,192.27 L382.00,190.88 L381.50,189.50 L381.00,188.15 L380.50,186.82 L380.00,185.53 L379.50,184.30 L379.00,183.14 L378.50,182.06 L378.00,181.07 L377.50,180.19 L377.00,179.44 L376.50,178.81 L376.00,178.32 L375.50,177.96 L375.00,177.74 L374.50,177.66 L374.00,177.72 L373.50,177.92 L373.00,178.24 L372.50,178.67 L372.00,179.17 L371.50,179.74 L371.00,180.36 L370.50,181.00 L370.00,181.65 L369.50,182.30 L369.00,182.94 L368.50,183.58 L368.00,184.21 L367.50,184.84 L367.00,185.47 L366.50,186.09 L366.00,186.71 L365.50,187.32 L365.00,187.93 L364.50,188.54 L364.00,189.13 L363.50,189.71 L363.00,190.28 L362.50,190.83 L362.00,191.37 L361.50,191.87 L361.00,192.36 L360.50,192.82 L360.00,193.24 L359.50,193.64 L359.00,194.00 L358.50,194.32 L358.00,194.61 L357.50,194.87 L357.00,195.10 L356.50,195.29 L356.00,195.46 L355.50,195.59 L355.00,195.70 L354.50,195.79 L354.00,195.88 L353.50,195.97 L353.00,196.08 L352.50,196.22 L352.00,196.39 L351.50,196.61 L351.00,196.86 L350.50,197.16 L350.00,197.47 L349.50,197.81 L349.00,198.17 L348.50,198.53 L348.00,198.89 L347.50,199.25 L347.00,199.59 L346.50,199.91 L346.00,200.20 L345.50,200.48 L345.00,200.76 L344.50,201.01 L344.00,201.26 L343.50,201.51 L343.00,201.76 L342.50,202.01 L342.00,202.27 L341.50,202.52 L341.00,202.78 L340.50,203.04 L340.00,203.31 L339.50,203.57 L339.00,203.85 L338.50,204.12 L338.00,204.38 L337.50,204.63 L337.00,204.86 L336.50,205.07 L336.00,205.25 L335.50,205.38 L335.00,205.48 L334.50,205.52 L334.00,205.51 L333.50,205.44 L333.00,205.30 L332.50,205.11 L332.00,204.87 L331.50,204.60 L331.00,204.29 L330.50,203.97 L330.00,203.63 L329.50,203.29 L329.00,202.95 L328.50,202.63 L328.00,202.31 L327.50,202.02 L327.00,201.75 L326.50,201.50 L326.00,201.29 L325.50,201.11 L325.00,200.97 L324.50,200.87 L324.00,200.80 L323.50,200.77 L323.00,200.77 L322.50,200.79 L322.00,200.84 L321.50,200.90 L321.00,200.99 L320.50,201.10 L320.00,201.22 L319.50,201.35 L319.00,201.50 L318.50,201.66 L318.00,201.84 L317.50,202.02 L317.00,202.21 L316.50,202.41 L316.00,202.61 L315.50,202.82 L315.00,203.03 L314.50,203.24 L314.00,203.45 L313.50,203.66 L313.00,203.87 L312.50,204.07 L312.00,204.27 L311.50,204.46 L311.00,204.63 L310.50,204.80 L310.00,204.95 L309.50,205.09 L309.00,205.20 L308.50,205.30 L308.00,205.38 L307.50,205.44 L307.00,205.47 L306.50,205.48 L306.00,205.46 L305.50,205.42 L305.00,205.36 L304.50,205.28 L304.00,205.18 L303.50,205.07 L303.00,204.95 L302.50,204.82 L302.00,204.67 L301.50,204.52 L301.00,204.37 L300.50,204.22 L300.00,204.06 L299.50,203.91 L299.00,203.76 L298.50,203.62 L298.00,203.50 L297.50,203.40 L297.00,203.33 L296.50,203.29 L296.00,203.29 L295.50,203.34 L295.00,203.43 L294.50,203.57 L294.00,203.75 L293.50,203.96 L293.00,204.21 L292.50,204.47 L292.00,204.76 L291.50,205.05 L291.00,205.35 L290.50,205.63 L290.00,205.87 L289.50,206.04 L289.00,206.13 L288.50,206.11 L288.00,205.96 L287.50,205.69 L287.00,205.30 L286.50,204.82 L286.00,204.24 L285.50,203.58 L285.00,202.85 L284.50,202.06 L284.00,201.25 L283.50,200.42 L283.00,199.68 L282.50,199.03 L282.00,198.56 L281.50,198.33 L281.00,198.42 L280.50,198.75 L280.00,199.20 L279.50,199.67 L279.00,200.02 L278.50,200.13 L278.00,199.99 L277.50,199.68 L277.00,199.30 L276.50,198.94 L276.00,198.70 L275.50,198.66 L275.00,198.77 L274.50,198.97 L274.00,199.17 L273.50,199.34 L273.00,199.47 L272.50,199.55 L272.00,199.60 L271.50,199.63 L271.00,199.64 L270.50,199.65 L270.00,199.65 L269.50,199.66 L269.00,199.67 L268.50,199.69 L268.00,199.71 L267.50,199.73 L267.00,199.75 L266.50,199.78 L266.00,199.80 L265.50,199.82 L265.00,199.84 L264.50,199.85 L264.00,199.86 L263.50,199.87 L263.00,199.87 L262.50,199.87 L262.00,199.87 L261.50,199.87 L261.00,199.87 L260.50,199.86 L260.00,199.85 L259.50,199.84 L259.00,199.84Z" fill="#1e7285" fill-opacity="0.22" stroke="none"/>
<path d="M259.00,199.24 L259.50,199.26 L260.00,199.28 L260.50,199.31 L261.00,199.33 L261.50,199.35 L262.00,199.37 L262.50,199.38 L263.00,199.40 L263.50,199.41 L264.00,199.41 L264.50,199.42 L265.00,199.42 L265.50,199.42 L266.00,199.41 L266.50,199.40 L267.00,199.39 L267.50,199.37 L268.00,199.36 L268.50,199.35 L269.00,199.34 L269.50,199.33 L270.00,199.33 L270.50,199.33 L271.00,199.33 L271.50,199.33 L272.00,199.33 L272.50,199.33 L273.00,199.33 L273.50,199.32 L274.00,199.30 L274.50,199.27 L275.00,199.24 L275.50,199.19 L276.00,199.11 L276.50,198.98 L277.00,198.79 L277.50,198.50 L278.00,198.06 L278.50,197.48 L279.00,196.82 L279.50,196.11 L280.00,195.42 L280.50,194.78 L281.00,194.25 L281.50,193.86 L282.00,193.62 L282.50,193.57 L283.00,193.73 L283.50,194.06 L284.00,194.52 L284.50,195.07 L285.00,195.66 L285.50,196.24 L286.00,196.78 L286.50,197.28 L287.00,197.71 L287.50,198.05 L288.00,198.28 L288.50,198.38 L289.00,198.34 L289.50,198.16 L290.00,197.88 L290.50,197.52 L291.00,197.12 L291.50,196.71 L292.00,196.31 L292.50,195.96 L293.00,195.66 L293.50,195.40 L294.00,195.19 L294.50,195.03 L295.00,194.90 L295.50,194.82 L296.00,194.78 L296.50,194.78 L297.00,194.81 L297.50,194.89 L298.00,195.00 L298.50,195.16 L299.00,195.35 L299.50,195.58 L300.00,195.83 L300.50,196.10 L301.00,196.38 L301.50,196.68 L302.00,196.98 L302.50,197.29 L303.00,197.58 L303.50,197.87 L304.00,198.14 L304.50,198.40 L305.00,198.62 L305.50,198.79 L306.00,198.93 L306.50,199.06 L307.00,199.17 L307.50,199.26 L308.00,199.34 L308.50,199.40 L309.00,199.44 L309.50,199.47 L310.00,199.50 L310.50,199.51 L311.00,199.51 L311.50,199.51 L312.00,199.50 L312.50,199.49 L313.00,199.47 L313.50,199.46 L314.00,199.46 L314.50,199.46 L315.00,199.48 L315.50,199.52 L316.00,199.57 L316.50,199.64 L317.00,199.74 L317.50,199.86 L318.00,200.02 L318.50,200.21 L319.00,200.42 L319.50,200.64 L320.00,200.85 L320.50,201.04 L321.00,201.19 L321.50,201.30 L322.00,201.33 L322.50,201.29 L323.00,201.18 L323.50,201.01 L324.00,200.81 L324.50,200.58 L325.00,200.34 L325.50,200.09 L326.00,199.87 L326.50,199.67 L327.00,199.51 L327.50,199.41 L328.00,199.35 L328.50,199.35 L329.00,199.39 L329.50,199.46 L330.00,199.57 L330.50,199.71 L331.00,199.87 L331.50,200.06 L332.00,200.25 L332.50,200.47 L333.00,200.68 L333.50,200.90 L334.00,201.12 L334.50,201.34 L335.00,201.54 L335.50,201.73 L336.00,201.91 L336.50,202.06 L337.00,202.18 L337.50,202.29 L338.00,202.37 L338.50,202.42 L339.00,202.46 L339.50,202.48 L340.00,202.49 L340.50,202.48 L341.00,202.46 L341.50,202.43 L342.00,202.39 L342.50,202.34 L343.00,202.29 L343.50,202.23 L344.00,202.17 L344.50,202.10 L345.00,202.03 L345.50,201.96 L346.00,201.89 L346.50,201.81 L347.00,201.73 L347.50,201.65 L348.00,201.57 L348.50,201.49 L349.00,201.41 L349.50,201.33 L350.00,201.25 L350.50,201.17 L351.00,201.09 L351.50,201.01 L352.00,200.93 L352.50,200.85 L353.00,200.77 L353.50,200.69 L354.00,200.61 L354.50,200.52 L355.00,200.44 L355.50,200.35 L356.00,200.26 L356.50,200.16 L357.00,200.07 L357.50,199.97 L358.00,199.86 L358.50,199.75 L359.00,199.64 L359.50,199.51 L360.00,199.38 L360.50,199.24 L361.00,199.09 L361.50,198.92 L362.00,198.74 L362.50,198.54 L363.00,198.28 L363.50,198.01 L364.00,197.71 L364.50,197.39 L365.00,197.04 L365.50,196.67 L366.00,196.27 L366.50,195.84 L367.00,195.39 L367.50,194.92 L368.00,194.44 L368.50,193.94 L369.00,193.43 L369.50,192.92 L370.00,192.40 L370.50,191.88 L371.00,191.36 L371.50,190.85 L372.00,190.34 L372.50,189.84 L373.00,189.36 L373.50,188.88 L374.00,188.41 L374.50,187.95 L375.00,187.49 L375.50,187.05 L376.00,186.61 L376.50,186.19 L377.00,185.77 L377.50,185.36 L378.00,184.96 L378.50,184.60 L379.00,184.28 L379.50,184.03 L380.00,183.85 L380.50,183.78 L381.00,183.81 L381.50,183.97 L382.00,184.26 L382.50,184.70 L383.00,185.29 L383.50,186.04 L384.00,186.97 L384.50,188.05 L385.00,189.25 L385.50,190.53 L386.00,191.85 L386.50,193.17 L387.00,194.45 L387.50,195.65 L388.00,196.74 L388.50,197.72 L389.00,198.61 L389.50,199.31 L390.00,199.97 L390.50,200.60 L391.00,201.21 L391.50,201.81 L392.00,202.38 L392.50,202.92 L393.00,203.45 L393.50,203.95 L394.00,204.43 L394.50,204.87 L395.00,205.29 L395.50,205.66 L396.00,205.98 L396.50,206.25 L397.00,206.45 L397.50,206.58 L398.00,206.67 L398.50,206.70 L399.00,206.69 L399.50,206.65 L400.00,206.58 L400.50,206.48 L401.00,206.36 L401.50,206.23 L402.00,206.08 L402.50,205.92 L403.00,205.75 L403.50,205.59 L404.00,205.43 L404.50,205.27 L405.00,205.12 L405.50,204.97 L406.00,204.82 L406.50,204.67 L407.00,204.51 L407.50,204.34 L408.00,204.17 L408.50,203.98 L409.00,203.78 L409.50,203.56 L410.00,203.33 L410.50,203.07 L411.00,202.79 L411.50,202.51 L412.00,202.21 L412.50,201.91 L413.00,201.60 L413.50,201.30 L414.00,201.00 L414.50,200.70 L415.00,200.42 L415.50,200.15 L416.00,199.89 L416.50,199.65 L417.00,199.43 L417.50,199.22 L418.00,199.03 L418.50,198.85 L419.00,198.70 L419.50,198.55 L420.00,198.41 L420.50,198.29 L421.00,198.19 L421.50,198.11 L422.00,198.04 L422.50,197.99 L423.00,197.95 L423.50,197.91 L424.00,197.89 L424.50,197.86 L425.00,197.84 L425.50,197.81 L426.00,197.79 L426.50,197.77 L427.00,197.75 L427.50,197.74 L428.00,197.74 L428.50,197.76 L429.00,197.78 L429.50,197.83 L430.00,197.89 L430.50,197.96 L431.00,198.05 L431.50,198.15 L432.00,198.25 L432.50,198.36 L433.00,198.47 L433.50,198.57 L434.00,198.65 L434.50,198.72 L435.00,198.78 L435.50,198.83 L436.00,198.86 L436.50,198.88 L437.00,198.90 L437.50,198.90 L438.00,198.90 L438.50,198.89 L439.00,198.88 L439.50,198.87 L439.50,200.63 L439.00,200.65 L438.50,200.66 L438.00,200.67 L437.50,200.67 L437.00,200.66 L436.50,200.65 L436.00,200.62 L435.50,200.58 L435.00,200.53 L434.50,200.46 L434.00,200.37 L433.50,200.28 L433.00,200.20 L432.50,200.11 L432.00,200.02 L431.50,199.93 L431.00,199.85 L430.50,199.77 L430.00,199.71 L429.50,199.66 L429.00,199.62 L428.50,199.60 L428.00,199.59 L427.50,199.59 L427.00,199.60 L426.50,199.61 L426.00,199.63 L425.50,199.65 L425.00,199.67 L424.50,199.69 L424.00,199.71 L423.50,199.73 L423.00,199.76 L422.50,199.80 L422.00,199.84 L421.50,199.90 L421.00,199.97 L420.50,200.05 L420.00,200.15 L419.50,200.27 L419.00,200.42 L418.50,200.61 L418.00,200.82 L417.50,201.04 L417.00,201.29 L416.50,201.56 L416.00,201.85 L415.50,202.15 L415.00,202.47 L414.50,202.81 L414.00,203.16 L413.50,203.52 L413.00,203.88 L412.50,204.24 L412.00,204.60 L411.50,204.95 L411.00,205.29 L410.50,205.62 L410.00,205.92 L409.50,206.21 L409.00,206.47 L408.50,206.70 L408.00,206.93 L407.50,207.13 L407.00,207.33 L406.50,207.52 L406.00,207.70 L405.50,207.87 L405.00,208.05 L404.50,208.23 L404.00,208.42 L403.50,208.61 L403.00,208.81 L402.50,209.00 L402.00,209.19 L401.50,209.37 L401.00,209.53 L400.50,209.67 L400.00,209.79 L399.50,209.87 L399.00,209.92 L398.50,209.93 L398.00,209.89 L397.50,209.79 L397.00,209.63 L396.50,209.39 L396.00,209.08 L395.50,208.70 L395.00,208.26 L394.50,207.76 L394.00,207.23 L393.50,206.67 L393.00,206.07 L392.50,205.45 L392.00,204.80 L391.50,204.12 L391.00,203.41 L390.50,202.68 L390.00,201.93 L389.50,201.15 L389.00,200.33 L388.50,199.57 L388.00,198.74 L387.50,197.82 L387.00,196.81 L386.50,195.73 L386.00,194.62 L385.50,193.51 L385.00,192.43 L384.50,191.42 L384.00,190.50 L383.50,189.72 L383.00,189.09 L382.50,188.59 L382.00,188.22 L381.50,187.97 L381.00,187.84 L380.50,187.81 L380.00,187.88 L379.50,188.02 L379.00,188.24 L378.50,188.50 L378.00,188.81 L377.50,189.14 L377.00,189.49 L376.50,189.84 L376.00,190.20 L375.50,190.57 L375.00,190.95 L374.50,191.33 L374.00,191.72 L373.50,192.11 L373.00,192.52 L372.50,192.93 L372.00,193.35 L371.50,193.77 L371.00,194.21 L370.50,194.64 L370.00,195.08 L369.50,195.52 L369.00,195.95 L368.50,196.38 L368.00,196.80 L367.50,197.21 L367.00,197.60 L366.50,197.98 L366.00,198.34 L365.50,198.68 L365.00,199.00 L364.50,199.29 L364.00,199.56 L363.50,199.81 L363.00,200.04 L362.50,200.26 L362.00,200.48 L361.50,200.69 L361.00,200.89 L360.50,201.07 L360.00,201.24 L359.50,201.39 L359.00,201.54 L358.50,201.68 L358.00,201.81 L357.50,201.93 L357.00,202.05 L356.50,202.17 L356.00,202.28 L355.50,202.39 L355.00,202.49 L354.50,202.60 L354.00,202.70 L353.50,202.79 L353.00,202.89 L352.50,202.99 L352.00,203.08 L351.50,203.18 L351.00,203.27 L350.50,203.36 L350.00,203.46 L349.50,203.55 L349.00,203.65 L348.50,203.74 L348.00,203.84 L347.50,203.94 L347.00,204.03 L346.50,204.12 L346.00,204.22 L345.50,204.30 L345.00,204.39 L344.50,204.47 L344.00,204.55 L343.50,204.62 L343.00,204.69 L342.50,204.75 L342.00,204.81 L341.50,204.86 L341.00,204.90 L340.50,204.92 L340.00,204.93 L339.50,204.92 L339.00,204.90 L338.50,204.85 L338.00,204.78 L337.50,204.69 L337.00,204.57 L336.50,204.42 L336.00,204.24 L335.50,204.03 L335.00,203.80 L334.50,203.56 L334.00,203.31 L333.50,203.05 L333.00,202.78 L332.50,202.53 L332.00,202.28 L331.50,202.04 L331.00,201.82 L330.50,201.63 L330.00,201.46 L329.50,201.33 L329.00,201.24 L328.50,201.20 L328.00,201.21 L327.50,201.27 L327.00,201.39 L326.50,201.58 L326.00,201.81 L325.50,202.08 L325.00,202.37 L324.50,202.66 L324.00,202.93 L323.50,203.18 L323.00,203.37 L322.50,203.50 L322.00,203.55 L321.50,203.51 L321.00,203.39 L320.50,203.21 L320.00,202.98 L319.50,202.73 L319.00,202.47 L318.50,202.22 L318.00,202.00 L317.50,201.81 L317.00,201.66 L316.50,201.55 L316.00,201.46 L315.50,201.40 L315.00,201.36 L314.50,201.34 L314.00,201.33 L313.50,201.33 L313.00,201.35 L312.50,201.36 L312.00,201.38 L311.50,201.39 L311.00,201.39 L310.50,201.39 L310.00,201.38 L309.50,201.35 L309.00,201.31 L308.50,201.25 L308.00,201.18 L307.50,201.09 L307.00,200.99 L306.50,200.86 L306.00,200.71 L305.50,200.53 L305.00,200.33 L304.50,200.14 L304.00,199.93 L303.50,199.70 L303.00,199.45 L302.50,199.20 L302.00,198.95 L301.50,198.69 L301.00,198.44 L300.50,198.20 L300.00,197.97 L299.50,197.76 L299.00,197.57 L298.50,197.41 L298.00,197.28 L297.50,197.18 L297.00,197.12 L296.50,197.09 L296.00,197.09 L295.50,197.12 L295.00,197.19 L294.50,197.30 L294.00,197.44 L293.50,197.61 L293.00,197.83 L292.50,198.08 L292.00,198.38 L291.50,198.71 L291.00,199.06 L290.50,199.40 L290.00,199.70 L289.50,199.94 L289.00,200.09 L288.50,200.13 L288.00,200.04 L287.50,199.84 L287.00,199.56 L286.50,199.20 L286.00,198.78 L285.50,198.32 L285.00,197.83 L284.50,197.34 L284.00,196.87 L283.50,196.48 L283.00,196.20 L282.50,196.07 L282.00,196.11 L281.50,196.31 L281.00,196.65 L280.50,197.09 L280.00,197.63 L279.50,198.21 L279.00,198.81 L278.50,199.37 L278.00,199.85 L277.50,200.23 L277.00,200.53 L276.50,200.76 L276.00,200.91 L275.50,201.01 L275.00,201.07 L274.50,201.11 L274.00,201.14 L273.50,201.16 L273.00,201.17 L272.50,201.18 L272.00,201.18 L271.50,201.18 L271.00,201.18 L270.50,201.17 L270.00,201.17 L269.50,201.18 L269.00,201.19 L268.50,201.20 L268.00,201.22 L267.50,201.23 L267.00,201.25 L266.50,201.26 L266.00,201.27 L265.50,201.28 L265.00,201.28 L264.50,201.28 L264.00,201.28 L263.50,201.27 L263.00,201.26 L262.50,201.24 L262.00,201.22 L261.50,201.20 L261.00,201.17 L260.50,201.15 L260.00,201.12 L259.50,201.09 L259.00,201.07Z" fill="#5ec962" fill-opacity="0.22" stroke="none"/>
<path d="M42.00,199.50 L42.50,199.51 L43.00,199.53 L43.50,199.54 L44.00,199.56 L44.50,199.57 L45.00,199.58 L45.50,199.59 L46.00,199.60 L46.50,199.61 L47.00,199.61 L47.50,199.62 L48.00,199.62 L48.50,199.62 L49.00,199.61 L49.50,199.61 L50.00,199.60 L50.50,199.59 L51.00,199.57 L51.50,199.55 L52.00,199.53 L52.50,199.50 L53.00,199.47 L53.50,199.43 L54.00,199.39 L54.50,199.35 L55.00,199.30 L55.50,199.25 L56.00,199.19 L56.50,199.12 L57.00,199.06 L57.50,198.99 L58.00,198.93 L58.50,198.86 L59.00,198.79 L59.50,198.73 L60.00,198.67 L60.50,198.61 L61.00,198.56 L61.50,198.51 L62.00,198.47 L62.50,198.44 L63.00,198.42 L63.50,198.40 L64.00,198.40 L64.50,198.41 L65.00,198.42 L65.50,198.45 L66.00,198.48 L66.50,198.52 L67.00,198.57 L67.50,198.63 L68.00,198.69 L68.50,198.76 L69.00,198.84 L69.50,198.92 L70.00,199.00 L70.50,199.09 L71.00,199.18 L71.50,199.27 L72.00,199.37 L72.50,199.46 L73.00,199.56 L73.50,199.66 L74.00,199.76 L74.50,199.85 L75.00,199.95 L75.50,200.04 L76.00,200.13 L76.50,200.21 L77.00,200.29 L77.50,200.37 L78.00,200.44 L78.50,200.51 L79.00,200.57 L79.50,200.62 L80.00,200.66 L80.50,200.70 L81.00,200.73 L81.50,200.75 L82.00,200.76 L82.50,200.76 L83.00,200.76 L83.50,200.75 L84.00,200.74 L84.50,200.72 L85.00,200.70 L85.50,200.67 L86.00,200.65 L86.50,200.62 L87.00,200.58 L87.50,200.55 L88.00,200.52 L88.50,200.49 L89.00,200.46 L89.50,200.43 L90.00,200.40 L90.50,200.38 L91.00,200.35 L91.50,200.33 L92.00,200.32 L92.50,200.30 L93.00,200.29 L93.50,200.28 L94.00,200.27 L94.50,200.26 L95.00,200.25 L95.50,200.25 L96.00,200.24 L96.50,200.23 L97.00,200.23 L97.50,200.23 L98.00,200.22 L98.50,200.22 L99.00,200.21 L99.50,200.21 L100.00,200.20 L100.50,200.19 L101.00,200.19 L101.50,200.18 L102.00,200.17 L102.50,200.16 L103.00,200.16 L103.50,200.16 L104.00,200.16 L104.50,200.16 L105.00,200.16 L105.50,200.17 L106.00,200.19 L106.50,200.21 L107.00,200.23 L107.50,200.26 L108.00,200.29 L108.50,200.33 L109.00,200.38 L109.50,200.44 L110.00,200.50 L110.50,200.57 L111.00,200.65 L111.50,200.74 L112.00,200.83 L112.50,200.93 L113.00,201.04 L113.50,201.15 L114.00,201.26 L114.50,201.38 L115.00,201.50 L115.50,201.62 L116.00,201.74 L116.50,201.85 L117.00,201.94 L117.50,202.01 L118.00,202.05 L118.50,202.05 L119.00,202.00 L119.50,201.90 L120.00,201.76 L120.50,201.58 L121.00,201.36 L121.50,201.11 L122.00,200.84 L122.50,200.55 L123.00,200.24 L123.50,199.92 L124.00,199.60 L124.50,199.28 L125.00,198.96 L125.50,198.65 L126.00,198.34 L126.50,198.03 L127.00,197.74 L127.50,197.45 L128.00,197.17 L128.50,196.91 L129.00,196.66 L129.50,196.42 L130.00,196.20 L130.50,196.00 L131.00,195.81 L131.50,195.63 L132.00,195.47 L132.50,195.32 L133.00,195.19 L133.50,195.06 L134.00,194.94 L134.50,194.83 L135.00,194.73 L135.50,194.64 L136.00,194.54 L136.50,194.46 L137.00,194.37 L137.50,194.28 L138.00,194.20 L138.50,194.11 L139.00,194.03 L139.50,193.94 L140.00,193.85 L140.50,193.77 L141.00,193.68 L141.50,193.59 L142.00,193.50 L142.50,193.41 L143.00,193.32 L143.50,193.23 L144.00,193.15 L144.50,193.06 L145.00,192.97 L145.50,192.88 L146.00,192.80 L146.50,192.72 L147.00,192.63 L147.50,192.55 L148.00,192.47 L148.50,192.39 L149.00,192.30 L149.50,192.22 L150.00,192.14 L150.50,192.05 L151.00,191.96 L151.50,191.88 L152.00,191.79 L152.50,191.69 L153.00,191.60 L153.50,191.50 L154.00,191.40 L154.50,191.30 L155.00,191.19 L155.50,191.09 L156.00,190.98 L156.50,190.88 L157.00,190.79 L157.50,190.70 L158.00,190.62 L158.50,190.54 L159.00,190.48 L159.50,190.43 L160.00,190.40 L160.50,190.38 L161.00,190.40 L161.50,190.48 L162.00,190.62 L162.50,190.86 L163.00,191.20 L163.50,191.67 L164.00,192.25 L164.50,192.94 L165.00,193.71 L165.50,194.57 L166.00,195.50 L166.50,196.48 L167.00,197.50 L167.50,198.54 L168.00,199.57 L168.50,200.58 L169.00,201.55 L169.50,202.46 L170.00,203.29 L170.50,204.03 L171.00,204.71 L171.50,205.31 L172.00,205.85 L172.50,206.35 L173.00,206.80 L173.50,207.21 L174.00,207.60 L174.50,207.97 L175.00,208.31 L175.50,208.64 L176.00,208.94 L176.50,209.22 L177.00,209.47 L177.50,209.70 L178.00,209.90 L178.50,210.07 L179.00,210.21 L179.50,210.32 L180.00,210.40 L180.50,210.45 L181.00,210.47 L181.50,210.45 L182.00,210.40 L182.50,210.31 L183.00,210.19 L183.50,210.04 L184.00,209.85 L184.50,209.62 L185.00,209.37 L185.50,209.07 L186.00,208.75 L186.50,208.39 L187.00,208.00 L187.50,207.58 L188.00,207.13 L188.50,206.65 L189.00,206.16 L189.50,205.66 L190.00,205.14 L190.50,204.63 L191.00,204.12 L191.50,203.61 L192.00,203.12 L192.50,202.64 L193.00,202.19 L193.50,201.76 L194.00,201.37 L194.50,201.01 L195.00,200.68 L195.50,200.37 L196.00,200.10 L196.50,199.84 L197.00,199.61 L197.50,199.40 L198.00,199.20 L198.50,199.02 L199.00,198.85 L199.50,198.70 L200.00,198.56 L200.50,198.43 L201.00,198.32 L201.50,198.23 L202.00,198.15 L202.50,198.09 L203.00,198.04 L203.50,198.01 L204.00,197.99 L204.50,197.99 L205.00,197.99 L205.50,198.01 L206.00,198.04 L206.50,198.08 L207.00,198.12 L207.50,198.17 L208.00,198.23 L208.50,198.29 L209.00,198.36 L209.50,198.43 L210.00,198.50 L210.50,198.57 L211.00,198.65 L211.50,198.72 L212.00,198.80 L212.50,198.87 L213.00,198.95 L213.50,199.02 L214.00,199.09 L214.50,199.17 L215.00,199.24 L215.50,199.31 L216.00,199.37 L216.50,199.44 L217.00,199.50 L217.50,199.56 L218.00,199.62 L218.50,199.67 L219.00,199.72 L219.50,199.78 L220.00,199.83 L220.50,199.87 L221.00,199.92 L221.50,199.97 L222.00,200.01 L222.50,200.06 L223.00,200.10" fill="none" stroke="#5ec962" stroke-width="1.45" stroke-linejoin="round"/>
<path d="M42.00,200.30 L42.50,200.31 L43.00,200.33 L43.50,200.34 L44.00,200.36 L44.50,200.37 L45.00,200.39 L45.50,200.40 L46.00,200.41 L46.50,200.43 L47.00,200.44 L47.50,200.45 L48.00,200.46 L48.50,200.47 L49.00,200.48 L49.50,200.49 L50.00,200.50 L50.50,200.51 L51.00,200.51 L51.50,200.52 L52.00,200.52 L52.50,200.53 L53.00,200.53 L53.50,200.53 L54.00,200.53 L54.50,200.53 L55.00,200.53 L55.50,200.52 L56.00,200.52 L56.50,200.51 L57.00,200.50 L57.50,200.49 L58.00,200.47 L58.50,200.46 L59.00,200.44 L59.50,200.42 L60.00,200.40 L60.50,200.38 L61.00,200.35 L61.50,200.33 L62.00,200.30 L62.50,200.28 L63.00,200.25 L63.50,200.23 L64.00,200.22 L64.50,200.20 L65.00,200.20 L65.50,200.20 L66.00,200.20 L66.50,200.21 L67.00,200.23 L67.50,200.26 L68.00,200.28 L68.50,200.32 L69.00,200.36 L69.50,200.39 L70.00,200.44 L70.50,200.48 L71.00,200.52 L71.50,200.56 L72.00,200.60 L72.50,200.64 L73.00,200.67 L73.50,200.70 L74.00,200.73 L74.50,200.76 L75.00,200.78 L75.50,200.80 L76.00,200.82 L76.50,200.83 L77.00,200.84 L77.50,200.85 L78.00,200.85 L78.50,200.85 L79.00,200.84 L79.50,200.83 L80.00,200.82 L80.50,200.80 L81.00,200.78 L81.50,200.75 L82.00,200.72 L82.50,200.68 L83.00,200.64 L83.50,200.59 L84.00,200.54 L84.50,200.49 L85.00,200.43 L85.50,200.37 L86.00,200.30 L86.50,200.23 L87.00,200.15 L87.50,200.07 L88.00,199.98 L88.50,199.89 L89.00,199.80 L89.50,199.70 L90.00,199.60 L90.50,199.49 L91.00,199.38 L91.50,199.27 L92.00,199.15 L92.50,199.03 L93.00,198.91 L93.50,198.79 L94.00,198.66 L94.50,198.53 L95.00,198.41 L95.50,198.28 L96.00,198.15 L96.50,198.03 L97.00,197.90 L97.50,197.78 L98.00,197.65 L98.50,197.54 L99.00,197.42 L99.50,197.32 L100.00,197.22 L100.50,197.13 L101.00,197.06 L101.50,196.99 L102.00,196.94 L102.50,196.90 L103.00,196.89 L103.50,196.88 L104.00,196.90 L104.50,196.94 L105.00,196.99 L105.50,197.07 L106.00,197.16 L106.50,197.27 L107.00,197.39 L107.50,197.53 L108.00,197.68 L108.50,197.85 L109.00,198.02 L109.50,198.21 L110.00,198.40 L110.50,198.60 L111.00,198.81 L111.50,199.03 L112.00,199.25 L112.50,199.47 L113.00,199.70 L113.50,199.92 L114.00,200.15 L114.50,200.38 L115.00,200.60 L115.50,200.82 L116.00,201.03 L116.50,201.22 L117.00,201.39 L117.50,201.54 L118.00,201.65 L118.50,201.72 L119.00,201.75 L119.50,201.73 L120.00,201.64 L120.50,201.51 L121.00,201.32 L121.50,201.08 L122.00,200.80 L122.50,200.48 L123.00,200.13 L123.50,199.76 L124.00,199.36 L124.50,198.94 L125.00,198.50 L125.50,198.06 L126.00,197.62 L126.50,197.18 L127.00,196.74 L127.50,196.31 L128.00,195.89 L128.50,195.48 L129.00,195.08 L129.50,194.69 L130.00,194.31 L130.50,193.94 L131.00,193.59 L131.50,193.25 L132.00,192.93 L132.50,192.62 L133.00,192.32 L133.50,192.05 L134.00,191.80 L134.50,191.56 L135.00,191.35 L135.50,191.17 L136.00,191.01 L136.50,190.88 L137.00,190.77 L137.50,190.68 L138.00,190.61 L138.50,190.53 L139.00,190.44 L139.50,190.33 L140.00,190.20 L140.50,190.05 L141.00,189.86 L141.50,189.65 L142.00,189.40 L142.50,189.12 L143.00,188.81 L143.50,188.45 L144.00,188.07 L144.50,187.64 L145.00,187.20 L145.50,186.72 L146.00,186.23 L146.50,185.72 L147.00,185.20 L147.50,184.67 L148.00,184.15 L148.50,183.62 L149.00,183.10 L149.50,182.59 L150.00,182.10 L150.50,181.65 L151.00,181.24 L151.50,180.89 L152.00,180.61 L152.50,180.41 L153.00,180.30 L153.50,180.29 L154.00,180.38 L154.50,180.57 L155.00,180.85 L155.50,181.23 L156.00,181.70 L156.50,182.26 L157.00,182.91 L157.50,183.64 L158.00,184.45 L158.50,185.34 L159.00,186.29 L159.50,187.31 L160.00,188.40 L160.50,189.55 L161.00,190.75 L161.50,192.01 L162.00,193.32 L162.50,194.69 L163.00,196.10 L163.50,197.57 L164.00,199.08 L164.50,200.64 L165.00,202.23 L165.50,203.84 L166.00,205.44 L166.50,207.01 L167.00,208.55 L167.50,210.02 L168.00,211.41 L168.50,212.70 L169.00,213.89 L169.50,214.97 L170.00,215.94 L170.50,216.82 L171.00,217.60 L171.50,218.29 L172.00,218.89 L172.50,219.41 L173.00,219.84 L173.50,220.20 L174.00,220.48 L174.50,220.69 L175.00,220.83 L175.50,220.90 L176.00,220.90 L176.50,220.83 L177.00,220.70 L177.50,220.51 L178.00,220.27 L178.50,219.97 L179.00,219.62 L179.50,219.23 L180.00,218.80 L180.50,218.33 L181.00,217.82 L181.50,217.29 L182.00,216.72 L182.50,216.14 L183.00,215.53 L183.50,214.90 L184.00,214.26 L184.50,213.61 L185.00,212.96 L185.50,212.30 L186.00,211.64 L186.50,210.98 L187.00,210.33 L187.50,209.69 L188.00,209.06 L188.50,208.44 L189.00,207.83 L189.50,207.24 L190.00,206.66 L190.50,206.10 L191.00,205.55 L191.50,205.01 L192.00,204.49 L192.50,203.99 L193.00,203.50 L193.50,203.03 L194.00,202.58 L194.50,202.15 L195.00,201.74 L195.50,201.35 L196.00,200.99 L196.50,200.66 L197.00,200.35 L197.50,200.07 L198.00,199.81 L198.50,199.59 L199.00,199.41 L199.50,199.25 L200.00,199.14 L200.50,199.06 L201.00,199.01 L201.50,198.99 L202.00,199.01 L202.50,199.04 L203.00,199.09 L203.50,199.16 L204.00,199.23 L204.50,199.32 L205.00,199.40 L205.50,199.48 L206.00,199.56 L206.50,199.65 L207.00,199.73 L207.50,199.82 L208.00,199.90 L208.50,200.00 L209.00,200.10 L209.50,200.21 L210.00,200.32 L210.50,200.44 L211.00,200.56 L211.50,200.69 L212.00,200.81 L212.50,200.94 L213.00,201.06 L213.50,201.18 L214.00,201.29 L214.50,201.40 L215.00,201.50 L215.50,201.59 L216.00,201.68 L216.50,201.75 L217.00,201.82 L217.50,201.89 L218.00,201.94 L218.50,201.99 L219.00,202.04 L219.50,202.08 L220.00,202.12 L220.50,202.16 L221.00,202.19 L221.50,202.22 L222.00,202.25 L222.50,202.27 L223.00,202.30" fill="none" stroke="#1e7285" stroke-width="1.45" stroke-linejoin="round"/>
<path d="M259.00,200.20 L259.50,200.23 L260.00,200.25 L260.50,200.28 L261.00,200.30 L261.50,200.32 L262.00,200.34 L262.50,200.36 L263.00,200.37 L263.50,200.39 L264.00,200.39 L264.50,200.40 L265.00,200.40 L265.50,200.40 L266.00,200.39 L266.50,200.38 L267.00,200.37 L267.50,200.35 L268.00,200.34 L268.50,200.32 L269.00,200.31 L269.50,200.31 L270.00,200.30 L270.50,200.30 L271.00,200.30 L271.50,200.30 L272.00,200.30 L272.50,200.30 L273.00,200.30 L273.50,200.29 L274.00,200.27 L274.50,200.24 L275.00,200.20 L275.50,200.14 L276.00,200.06 L276.50,199.92 L277.00,199.71 L277.50,199.41 L278.00,199.00 L278.50,198.47 L279.00,197.87 L279.50,197.22 L280.00,196.58 L280.50,196.00 L281.00,195.51 L281.50,195.15 L282.00,194.93 L282.50,194.89 L283.00,195.03 L283.50,195.33 L284.00,195.76 L284.50,196.26 L285.00,196.80 L285.50,197.33 L286.00,197.83 L286.50,198.29 L287.00,198.68 L287.50,198.99 L288.00,199.20 L288.50,199.30 L289.00,199.26 L289.50,199.10 L290.00,198.84 L290.50,198.51 L291.00,198.14 L291.50,197.76 L292.00,197.40 L292.50,197.08 L293.00,196.80 L293.50,196.57 L294.00,196.37 L294.50,196.22 L295.00,196.11 L295.50,196.03 L296.00,196.00 L296.50,195.99 L297.00,196.02 L297.50,196.09 L298.00,196.20 L298.50,196.34 L299.00,196.52 L299.50,196.73 L300.00,196.96 L300.50,197.20 L301.00,197.47 L301.50,197.74 L302.00,198.02 L302.50,198.29 L303.00,198.57 L303.50,198.83 L304.00,199.08 L304.50,199.31 L305.00,199.52 L305.50,199.71 L306.00,199.87 L306.50,200.01 L307.00,200.13 L307.50,200.23 L308.00,200.31 L308.50,200.37 L309.00,200.42 L309.50,200.46 L310.00,200.49 L310.50,200.50 L311.00,200.50 L311.50,200.50 L312.00,200.49 L312.50,200.47 L313.00,200.46 L313.50,200.45 L314.00,200.44 L314.50,200.45 L315.00,200.47 L315.50,200.51 L316.00,200.56 L316.50,200.64 L317.00,200.75 L317.50,200.89 L318.00,201.06 L318.50,201.27 L319.00,201.50 L319.50,201.74 L320.00,201.97 L320.50,202.18 L321.00,202.35 L321.50,202.46 L322.00,202.50 L322.50,202.45 L323.00,202.33 L323.50,202.15 L324.00,201.93 L324.50,201.67 L325.00,201.41 L325.50,201.14 L326.00,200.89 L326.50,200.67 L327.00,200.50 L327.50,200.39 L328.00,200.33 L328.50,200.32 L329.00,200.36 L329.50,200.45 L330.00,200.57 L330.50,200.72 L331.00,200.90 L331.50,201.10 L332.00,201.32 L332.50,201.55 L333.00,201.79 L333.50,202.03 L334.00,202.27 L334.50,202.51 L335.00,202.73 L335.50,202.94 L336.00,203.13 L336.50,203.30 L337.00,203.44 L337.50,203.55 L338.00,203.64 L338.50,203.70 L339.00,203.74 L339.50,203.77 L340.00,203.77 L340.50,203.76 L341.00,203.74 L341.50,203.71 L342.00,203.66 L342.50,203.61 L343.00,203.55 L343.50,203.49 L344.00,203.42 L344.50,203.35 L345.00,203.27 L345.50,203.20 L346.00,203.11 L346.50,203.03 L347.00,202.94 L347.50,202.86 L348.00,202.77 L348.50,202.68 L349.00,202.59 L349.50,202.50 L350.00,202.41 L350.50,202.33 L351.00,202.24 L351.50,202.15 L352.00,202.06 L352.50,201.98 L353.00,201.89 L353.50,201.80 L354.00,201.71 L354.50,201.61 L355.00,201.52 L355.50,201.42 L356.00,201.32 L356.50,201.22 L357.00,201.11 L357.50,201.00 L358.00,200.89 L358.50,200.77 L359.00,200.64 L359.50,200.50 L360.00,200.36 L360.50,200.20 L361.00,200.04 L361.50,199.85 L362.00,199.66 L362.50,199.44 L363.00,199.21 L363.50,198.96 L364.00,198.69 L364.50,198.39 L365.00,198.07 L365.50,197.73 L366.00,197.36 L366.50,196.97 L367.00,196.56 L367.50,196.13 L368.00,195.68 L368.50,195.22 L369.00,194.76 L369.50,194.29 L370.00,193.81 L370.50,193.33 L371.00,192.86 L371.50,192.39 L372.00,191.92 L372.50,191.47 L373.00,191.02 L373.50,190.58 L374.00,190.15 L374.50,189.73 L375.00,189.31 L375.50,188.90 L376.00,188.50 L376.50,188.11 L377.00,187.73 L377.50,187.35 L378.00,186.99 L378.50,186.65 L379.00,186.36 L379.50,186.13 L380.00,185.97 L380.50,185.90 L381.00,185.93 L381.50,186.08 L382.00,186.35 L382.50,186.74 L383.00,187.29 L383.50,187.98 L384.00,188.83 L384.50,189.82 L385.00,190.92 L385.50,192.10 L386.00,193.31 L386.50,194.52 L387.00,195.69 L387.50,196.79 L388.00,197.79 L388.50,198.69 L389.00,199.52 L389.50,200.28 L390.00,201.00 L390.50,201.70 L391.00,202.37 L391.50,203.02 L392.00,203.65 L392.50,204.25 L393.00,204.83 L393.50,205.38 L394.00,205.90 L394.50,206.40 L395.00,206.85 L395.50,207.26 L396.00,207.61 L396.50,207.90 L397.00,208.12 L397.50,208.27 L398.00,208.36 L398.50,208.40 L399.00,208.39 L399.50,208.35 L400.00,208.27 L400.50,208.16 L401.00,208.03 L401.50,207.88 L402.00,207.72 L402.50,207.54 L403.00,207.36 L403.50,207.18 L404.00,207.00 L404.50,206.83 L405.00,206.66 L405.50,206.50 L406.00,206.33 L406.50,206.17 L407.00,205.99 L407.50,205.81 L408.00,205.62 L408.50,205.42 L409.00,205.19 L409.50,204.95 L410.00,204.69 L410.50,204.41 L411.00,204.11 L411.50,203.79 L412.00,203.47 L412.50,203.14 L413.00,202.80 L413.50,202.47 L414.00,202.14 L414.50,201.81 L415.00,201.50 L415.50,201.20 L416.00,200.92 L416.50,200.66 L417.00,200.41 L417.50,200.18 L418.00,199.97 L418.50,199.78 L419.00,199.61 L419.50,199.45 L420.00,199.32 L420.50,199.22 L421.00,199.13 L421.50,199.05 L422.00,198.99 L422.50,198.94 L423.00,198.90 L423.50,198.87 L424.00,198.85 L424.50,198.82 L425.00,198.80 L425.50,198.78 L426.00,198.76 L426.50,198.74 L427.00,198.72 L427.50,198.71 L428.00,198.72 L428.50,198.73 L429.00,198.75 L429.50,198.79 L430.00,198.85 L430.50,198.92 L431.00,199.00 L431.50,199.09 L432.00,199.18 L432.50,199.28 L433.00,199.38 L433.50,199.47 L434.00,199.56 L434.50,199.63 L435.00,199.70 L435.50,199.75 L436.00,199.79 L436.50,199.81 L437.00,199.83 L437.50,199.83 L438.00,199.83 L438.50,199.82 L439.00,199.81 L439.50,199.80" fill="none" stroke="#5ec962" stroke-width="1.45" stroke-linejoin="round"/>
<path d="M259.00,199.00 L259.50,199.01 L260.00,199.02 L260.50,199.02 L261.00,199.03 L261.50,199.04 L262.00,199.04 L262.50,199.04 L263.00,199.04 L263.50,199.03 L264.00,199.03 L264.50,199.01 L265.00,199.00 L265.50,198.98 L266.00,198.96 L266.50,198.93 L267.00,198.91 L267.50,198.88 L268.00,198.86 L268.50,198.84 L269.00,198.82 L269.50,198.81 L270.00,198.80 L270.50,198.80 L271.00,198.79 L271.50,198.78 L272.00,198.75 L272.50,198.70 L273.00,198.61 L273.50,198.48 L274.00,198.30 L274.50,198.08 L275.00,197.87 L275.50,197.76 L276.00,197.80 L276.50,198.05 L277.00,198.43 L277.50,198.83 L278.00,199.16 L278.50,199.31 L279.00,199.19 L279.50,198.82 L280.00,198.33 L280.50,197.85 L281.00,197.50 L281.50,197.41 L282.00,197.65 L282.50,198.15 L283.00,198.83 L283.50,199.60 L284.00,200.39 L284.50,201.16 L285.00,201.91 L285.50,202.60 L286.00,203.23 L286.50,203.78 L287.00,204.24 L287.50,204.60 L288.00,204.86 L288.50,205.00 L289.00,205.02 L289.50,204.94 L290.00,204.77 L290.50,204.55 L291.00,204.28 L291.50,204.00 L292.00,203.72 L292.50,203.45 L293.00,203.20 L293.50,202.96 L294.00,202.76 L294.50,202.59 L295.00,202.46 L295.50,202.37 L296.00,202.33 L296.50,202.33 L297.00,202.37 L297.50,202.43 L298.00,202.53 L298.50,202.64 L299.00,202.77 L299.50,202.91 L300.00,203.06 L300.50,203.21 L301.00,203.35 L301.50,203.50 L302.00,203.64 L302.50,203.77 L303.00,203.90 L303.50,204.02 L304.00,204.12 L304.50,204.21 L305.00,204.29 L305.50,204.35 L306.00,204.39 L306.50,204.40 L307.00,204.40 L307.50,204.37 L308.00,204.31 L308.50,204.24 L309.00,204.14 L309.50,204.03 L310.00,203.90 L310.50,203.76 L311.00,203.60 L311.50,203.43 L312.00,203.26 L312.50,203.07 L313.00,202.88 L313.50,202.68 L314.00,202.48 L314.50,202.28 L315.00,202.08 L315.50,201.88 L316.00,201.68 L316.50,201.49 L317.00,201.30 L317.50,201.12 L318.00,200.95 L318.50,200.78 L319.00,200.63 L319.50,200.49 L320.00,200.36 L320.50,200.25 L321.00,200.15 L321.50,200.06 L322.00,200.00 L322.50,199.96 L323.00,199.93 L323.50,199.94 L324.00,199.97 L324.50,200.03 L325.00,200.12 L325.50,200.26 L326.00,200.43 L326.50,200.63 L327.00,200.86 L327.50,201.12 L328.00,201.40 L328.50,201.70 L329.00,202.01 L329.50,202.33 L330.00,202.65 L330.50,202.97 L331.00,203.28 L331.50,203.57 L332.00,203.83 L332.50,204.05 L333.00,204.24 L333.50,204.36 L334.00,204.43 L334.50,204.45 L335.00,204.40 L335.50,204.31 L336.00,204.18 L336.50,204.02 L337.00,203.82 L337.50,203.60 L338.00,203.36 L338.50,203.11 L339.00,202.85 L339.50,202.60 L340.00,202.34 L340.50,202.09 L341.00,201.85 L341.50,201.60 L342.00,201.36 L342.50,201.12 L343.00,200.88 L343.50,200.64 L344.00,200.41 L344.50,200.17 L345.00,199.92 L345.50,199.66 L346.00,199.38 L346.50,199.07 L347.00,198.73 L347.50,198.37 L348.00,198.00 L348.50,197.62 L349.00,197.24 L349.50,196.86 L350.00,196.50 L350.50,196.17 L351.00,195.86 L351.50,195.59 L352.00,195.36 L352.50,195.18 L353.00,195.03 L353.50,194.92 L354.00,194.82 L354.50,194.72 L355.00,194.62 L355.50,194.51 L356.00,194.37 L356.50,194.20 L357.00,193.99 L357.50,193.75 L358.00,193.48 L358.50,193.17 L359.00,192.83 L359.50,192.45 L360.00,192.03 L360.50,191.58 L361.00,191.10 L361.50,190.58 L362.00,190.04 L362.50,189.48 L363.00,188.90 L363.50,188.30 L364.00,187.68 L364.50,187.05 L365.00,186.42 L365.50,185.77 L366.00,185.12 L366.50,184.47 L367.00,183.81 L367.50,183.15 L368.00,182.48 L368.50,181.81 L369.00,181.14 L369.50,180.46 L370.00,179.77 L370.50,179.09 L371.00,178.41 L371.50,177.76 L372.00,177.16 L372.50,176.62 L373.00,176.17 L373.50,175.84 L374.00,175.62 L374.50,175.56 L375.00,175.65 L375.50,175.88 L376.00,176.26 L376.50,176.78 L377.00,177.44 L377.50,178.24 L378.00,179.16 L378.50,180.20 L379.00,181.35 L379.50,182.58 L380.00,183.88 L380.50,185.24 L381.00,186.64 L381.50,188.08 L382.00,189.53 L382.50,191.00 L383.00,192.49 L383.50,193.99 L384.00,195.51 L384.50,197.04 L385.00,198.59 L385.50,200.14 L386.00,201.70 L386.50,203.26 L387.00,204.81 L387.50,206.33 L388.00,207.79 L388.50,209.17 L389.00,210.46 L389.50,211.64 L390.00,212.70 L390.50,213.64 L391.00,214.46 L391.50,215.16 L392.00,215.74 L392.50,216.20 L393.00,216.55 L393.50,216.81 L394.00,216.98 L394.50,217.08 L395.00,217.12 L395.50,217.12 L396.00,217.09 L396.50,217.05 L397.00,216.98 L397.50,216.89 L398.00,216.79 L398.50,216.65 L399.00,216.50 L399.50,216.32 L400.00,216.12 L400.50,215.88 L401.00,215.63 L401.50,215.34 L402.00,215.04 L402.50,214.70 L403.00,214.34 L403.50,213.95 L404.00,213.53 L404.50,213.09 L405.00,212.62 L405.50,212.14 L406.00,211.64 L406.50,211.13 L407.00,210.62 L407.50,210.10 L408.00,209.59 L408.50,209.08 L409.00,208.57 L409.50,208.09 L410.00,207.61 L410.50,207.16 L411.00,206.73 L411.50,206.31 L412.00,205.91 L412.50,205.53 L413.00,205.17 L413.50,204.83 L414.00,204.50 L414.50,204.19 L415.00,203.90 L415.50,203.64 L416.00,203.41 L416.50,203.21 L417.00,203.04 L417.50,202.92 L418.00,202.83 L418.50,202.80 L419.00,202.82 L419.50,202.88 L420.00,202.99 L420.50,203.14 L421.00,203.31 L421.50,203.51 L422.00,203.73 L422.50,203.96 L423.00,204.20 L423.50,204.44 L424.00,204.67 L424.50,204.90 L425.00,205.11 L425.50,205.30 L426.00,205.47 L426.50,205.61 L427.00,205.72 L427.50,205.79 L428.00,205.82 L428.50,205.81 L429.00,205.77 L429.50,205.70 L430.00,205.60 L430.50,205.48 L431.00,205.34 L431.50,205.19 L432.00,205.03 L432.50,204.87 L433.00,204.70 L433.50,204.54 L434.00,204.38 L434.50,204.23 L435.00,204.07 L435.50,203.93 L436.00,203.78 L436.50,203.64 L437.00,203.49 L437.50,203.35 L438.00,203.21 L438.50,203.08 L439.00,202.94 L439.50,202.80" fill="none" stroke="#1e7285" stroke-width="1.45" stroke-linejoin="round"/>
<line x1="171.7" y1="171.7" x2="180.7" y2="171.7" stroke="#1e7285" stroke-width="1.4"/>
<line x1="171.7" y1="181.7" x2="180.7" y2="181.7" stroke="#5ec962" stroke-width="1.4"/>
<text x="184.60" y="174.70" font-size="9.00" textLength="19.60" lengthAdjust="spacingAndGlyphs" stroke="#000" stroke-width="0.15" >Male</text>
<text x="184.60" y="184.60" font-size="9.00" textLength="30.00" lengthAdjust="spacingAndGlyphs" stroke="#000" stroke-width="0.15" >Female</text>
</svg>
</body></html>
